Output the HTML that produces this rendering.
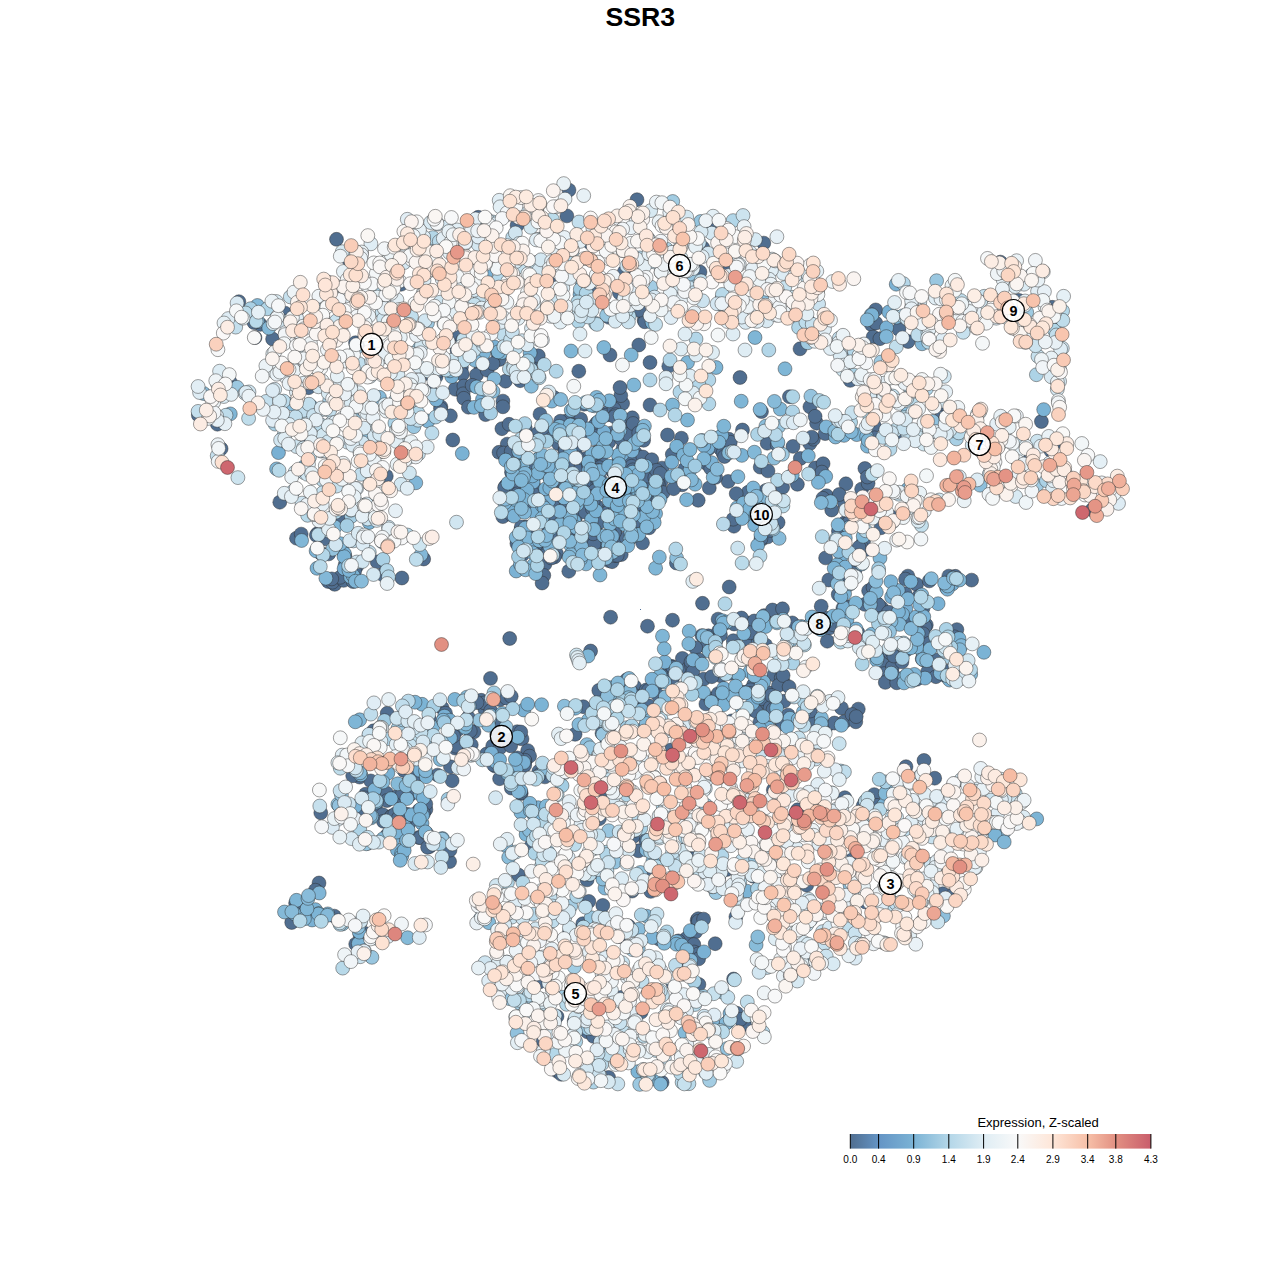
<!DOCTYPE html><html><head><meta charset="utf-8"><title>SSR3</title><style>
html,body{margin:0;padding:0;background:#fff}body{width:1280px;height:1280px;position:relative;overflow:hidden;font-family:"Liberation Sans",sans-serif}
svg{position:absolute;left:0;top:0}text{font-family:"Liberation Sans",sans-serif}
</style></head><body>
<svg width="1280" height="1280" viewBox="0 0 1280 1280">
<rect width="1280" height="1280" fill="#fff"/>
<text x="640.3" y="26.2" text-anchor="middle" font-size="26.67" font-weight="bold" fill="#000">SSR3</text>
<rect x="640" y="609" width="1" height="1" fill="#50709a"/>
<g stroke="#2b2b2b" stroke-opacity="0.75" stroke-width="0.6">
<g fill="#506e90">
<circle cx="198.3" cy="415.0" r="6.95"/>
<circle cx="217.4" cy="424.2" r="6.95"/>
<circle cx="221.1" cy="448.7" r="6.95"/>
<circle cx="238.9" cy="301.7" r="6.95"/>
<circle cx="233.3" cy="318.3" r="6.95"/>
<circle cx="230.3" cy="382.3" r="6.95"/>
<circle cx="260.3" cy="324.4" r="6.95"/>
<circle cx="254.0" cy="322.5" r="6.95"/>
<circle cx="255.0" cy="337.6" r="6.95"/>
<circle cx="285.0" cy="313.1" r="6.95"/>
<circle cx="272.6" cy="339.0" r="6.95"/>
<circle cx="279.8" cy="502.2" r="6.95"/>
<circle cx="308.6" cy="387.7" r="6.95"/>
<circle cx="304.6" cy="439.0" r="6.95"/>
<circle cx="296.5" cy="538.2" r="6.95"/>
<circle cx="301.2" cy="534.1" r="6.95"/>
<circle cx="301.8" cy="903.9" r="6.95"/>
<circle cx="295.6" cy="903.1" r="6.95"/>
<circle cx="291.7" cy="922.5" r="6.95"/>
<circle cx="306.9" cy="914.1" r="6.95"/>
<circle cx="314.2" cy="413.5" r="6.95"/>
<circle cx="317.2" cy="533.8" r="6.95"/>
<circle cx="325.4" cy="538.8" r="6.95"/>
<circle cx="316.4" cy="535.3" r="6.95"/>
<circle cx="328.7" cy="553.9" r="6.95"/>
<circle cx="320.9" cy="553.4" r="6.95"/>
<circle cx="328.3" cy="581.5" r="6.95"/>
<circle cx="320.8" cy="812.8" r="6.95"/>
<circle cx="319.0" cy="883.0" r="6.95"/>
<circle cx="317.0" cy="891.4" r="6.95"/>
<circle cx="315.4" cy="890.2" r="6.95"/>
<circle cx="336.5" cy="239.3" r="6.95"/>
<circle cx="348.6" cy="259.6" r="6.95"/>
<circle cx="340.6" cy="518.9" r="6.95"/>
<circle cx="336.6" cy="510.7" r="6.95"/>
<circle cx="330.4" cy="527.6" r="6.95"/>
<circle cx="341.5" cy="548.4" r="6.95"/>
<circle cx="344.9" cy="555.9" r="6.95"/>
<circle cx="345.1" cy="564.9" r="6.95"/>
<circle cx="334.7" cy="584.3" r="6.95"/>
<circle cx="332.4" cy="582.2" r="6.95"/>
<circle cx="343.6" cy="580.4" r="6.95"/>
<circle cx="340.1" cy="577.3" r="6.95"/>
<circle cx="331.8" cy="578.9" r="6.95"/>
<circle cx="334.3" cy="916.1" r="6.95"/>
<circle cx="357.7" cy="345.9" r="6.95"/>
<circle cx="355.5" cy="342.7" r="6.95"/>
<circle cx="351.2" cy="356.0" r="6.95"/>
<circle cx="356.8" cy="566.1" r="6.95"/>
<circle cx="354.7" cy="570.9" r="6.95"/>
<circle cx="353.1" cy="581.6" r="6.95"/>
<circle cx="359.6" cy="777.1" r="6.95"/>
<circle cx="352.7" cy="775.8" r="6.95"/>
<circle cx="367.0" cy="795.5" r="6.95"/>
<circle cx="365.6" cy="794.2" r="6.95"/>
<circle cx="363.9" cy="797.7" r="6.95"/>
<circle cx="357.8" cy="815.4" r="6.95"/>
<circle cx="367.7" cy="843.3" r="6.95"/>
<circle cx="360.0" cy="923.2" r="6.95"/>
<circle cx="360.0" cy="934.6" r="6.95"/>
<circle cx="365.5" cy="938.8" r="6.95"/>
<circle cx="365.0" cy="933.5" r="6.95"/>
<circle cx="355.7" cy="944.1" r="6.95"/>
<circle cx="390.0" cy="324.4" r="6.95"/>
<circle cx="389.7" cy="334.5" r="6.95"/>
<circle cx="386.3" cy="476.1" r="6.95"/>
<circle cx="377.2" cy="561.9" r="6.95"/>
<circle cx="385.5" cy="573.0" r="6.95"/>
<circle cx="382.7" cy="574.7" r="6.95"/>
<circle cx="387.2" cy="713.3" r="6.95"/>
<circle cx="373.5" cy="730.8" r="6.95"/>
<circle cx="370.8" cy="780.9" r="6.95"/>
<circle cx="384.0" cy="773.5" r="6.95"/>
<circle cx="386.7" cy="793.3" r="6.95"/>
<circle cx="387.0" cy="800.5" r="6.95"/>
<circle cx="375.6" cy="805.7" r="6.95"/>
<circle cx="382.7" cy="814.6" r="6.95"/>
<circle cx="383.4" cy="821.3" r="6.95"/>
<circle cx="387.3" cy="835.0" r="6.95"/>
<circle cx="401.3" cy="284.2" r="6.95"/>
<circle cx="401.9" cy="578.0" r="6.95"/>
<circle cx="407.7" cy="782.6" r="6.95"/>
<circle cx="409.9" cy="784.7" r="6.95"/>
<circle cx="404.0" cy="770.5" r="6.95"/>
<circle cx="407.2" cy="794.4" r="6.95"/>
<circle cx="397.6" cy="796.2" r="6.95"/>
<circle cx="402.6" cy="793.2" r="6.95"/>
<circle cx="407.1" cy="814.3" r="6.95"/>
<circle cx="408.5" cy="824.3" r="6.95"/>
<circle cx="391.6" cy="816.3" r="6.95"/>
<circle cx="391.5" cy="816.6" r="6.95"/>
<circle cx="404.6" cy="829.4" r="6.95"/>
<circle cx="394.7" cy="814.3" r="6.95"/>
<circle cx="404.4" cy="821.3" r="6.95"/>
<circle cx="398.5" cy="817.8" r="6.95"/>
<circle cx="408.7" cy="836.7" r="6.95"/>
<circle cx="400.5" cy="851.0" r="6.95"/>
<circle cx="429.5" cy="264.1" r="6.95"/>
<circle cx="423.7" cy="559.0" r="6.95"/>
<circle cx="429.5" cy="719.4" r="6.95"/>
<circle cx="416.8" cy="775.1" r="6.95"/>
<circle cx="414.9" cy="776.1" r="6.95"/>
<circle cx="425.9" cy="809.5" r="6.95"/>
<circle cx="410.3" cy="794.5" r="6.95"/>
<circle cx="425.8" cy="803.9" r="6.95"/>
<circle cx="423.5" cy="813.5" r="6.95"/>
<circle cx="419.0" cy="810.4" r="6.95"/>
<circle cx="418.9" cy="837.5" r="6.95"/>
<circle cx="420.3" cy="837.6" r="6.95"/>
<circle cx="426.6" cy="833.5" r="6.95"/>
<circle cx="429.6" cy="846.6" r="6.95"/>
<circle cx="427.6" cy="847.3" r="6.95"/>
<circle cx="436.1" cy="376.7" r="6.95"/>
<circle cx="438.1" cy="371.2" r="6.95"/>
<circle cx="431.8" cy="375.9" r="6.95"/>
<circle cx="440.9" cy="406.8" r="6.95"/>
<circle cx="430.3" cy="390.8" r="6.95"/>
<circle cx="440.5" cy="408.7" r="6.95"/>
<circle cx="442.2" cy="707.9" r="6.95"/>
<circle cx="445.5" cy="713.2" r="6.95"/>
<circle cx="437.6" cy="775.1" r="6.95"/>
<circle cx="449.6" cy="861.6" r="6.95"/>
<circle cx="459.3" cy="335.1" r="6.95"/>
<circle cx="462.4" cy="340.9" r="6.95"/>
<circle cx="457.1" cy="350.6" r="6.95"/>
<circle cx="461.4" cy="367.4" r="6.95"/>
<circle cx="455.2" cy="389.2" r="6.95"/>
<circle cx="462.4" cy="374.1" r="6.95"/>
<circle cx="463.9" cy="386.0" r="6.95"/>
<circle cx="463.2" cy="393.8" r="6.95"/>
<circle cx="463.8" cy="398.3" r="6.95"/>
<circle cx="468.4" cy="407.2" r="6.95"/>
<circle cx="450.4" cy="415.8" r="6.95"/>
<circle cx="452.8" cy="440.0" r="6.95"/>
<circle cx="469.9" cy="698.2" r="6.95"/>
<circle cx="457.4" cy="729.9" r="6.95"/>
<circle cx="468.3" cy="717.3" r="6.95"/>
<circle cx="462.4" cy="749.6" r="6.95"/>
<circle cx="455.1" cy="748.1" r="6.95"/>
<circle cx="455.9" cy="746.2" r="6.95"/>
<circle cx="453.6" cy="736.1" r="6.95"/>
<circle cx="450.4" cy="766.7" r="6.95"/>
<circle cx="452.1" cy="780.7" r="6.95"/>
<circle cx="450.0" cy="850.1" r="6.95"/>
<circle cx="478.2" cy="217.3" r="6.95"/>
<circle cx="480.8" cy="360.9" r="6.95"/>
<circle cx="481.2" cy="367.3" r="6.95"/>
<circle cx="476.5" cy="374.9" r="6.95"/>
<circle cx="472.1" cy="385.3" r="6.95"/>
<circle cx="487.2" cy="370.2" r="6.95"/>
<circle cx="485.6" cy="414.6" r="6.95"/>
<circle cx="481.2" cy="700.3" r="6.95"/>
<circle cx="470.2" cy="698.5" r="6.95"/>
<circle cx="484.9" cy="709.4" r="6.95"/>
<circle cx="484.3" cy="702.9" r="6.95"/>
<circle cx="477.0" cy="702.6" r="6.95"/>
<circle cx="474.0" cy="731.8" r="6.95"/>
<circle cx="471.3" cy="744.8" r="6.95"/>
<circle cx="470.3" cy="731.0" r="6.95"/>
<circle cx="486.6" cy="754.0" r="6.95"/>
<circle cx="481.3" cy="908.5" r="6.95"/>
<circle cx="493.1" cy="245.8" r="6.95"/>
<circle cx="490.9" cy="254.7" r="6.95"/>
<circle cx="498.1" cy="354.1" r="6.95"/>
<circle cx="499.2" cy="359.5" r="6.95"/>
<circle cx="493.0" cy="363.6" r="6.95"/>
<circle cx="505.4" cy="381.2" r="6.95"/>
<circle cx="502.9" cy="401.1" r="6.95"/>
<circle cx="502.9" cy="406.8" r="6.95"/>
<circle cx="501.9" cy="428.7" r="6.95"/>
<circle cx="509.1" cy="424.3" r="6.95"/>
<circle cx="507.2" cy="444.1" r="6.95"/>
<circle cx="499.0" cy="452.3" r="6.95"/>
<circle cx="503.6" cy="453.0" r="6.95"/>
<circle cx="505.7" cy="486.0" r="6.95"/>
<circle cx="504.6" cy="487.7" r="6.95"/>
<circle cx="502.8" cy="516.6" r="6.95"/>
<circle cx="507.1" cy="510.9" r="6.95"/>
<circle cx="490.5" cy="678.4" r="6.95"/>
<circle cx="499.9" cy="699.6" r="6.95"/>
<circle cx="506.2" cy="698.0" r="6.95"/>
<circle cx="490.7" cy="710.7" r="6.95"/>
<circle cx="497.6" cy="720.3" r="6.95"/>
<circle cx="508.3" cy="741.1" r="6.95"/>
<circle cx="503.0" cy="734.6" r="6.95"/>
<circle cx="498.9" cy="735.0" r="6.95"/>
<circle cx="492.7" cy="746.0" r="6.95"/>
<circle cx="496.7" cy="734.1" r="6.95"/>
<circle cx="500.2" cy="747.6" r="6.95"/>
<circle cx="495.2" cy="766.1" r="6.95"/>
<circle cx="493.5" cy="764.8" r="6.95"/>
<circle cx="499.6" cy="778.7" r="6.95"/>
<circle cx="517.1" cy="225.4" r="6.95"/>
<circle cx="520.2" cy="380.7" r="6.95"/>
<circle cx="525.4" cy="428.7" r="6.95"/>
<circle cx="516.6" cy="461.3" r="6.95"/>
<circle cx="516.5" cy="451.1" r="6.95"/>
<circle cx="511.2" cy="451.3" r="6.95"/>
<circle cx="522.7" cy="470.3" r="6.95"/>
<circle cx="516.1" cy="487.8" r="6.95"/>
<circle cx="527.9" cy="489.9" r="6.95"/>
<circle cx="512.7" cy="473.3" r="6.95"/>
<circle cx="511.5" cy="472.3" r="6.95"/>
<circle cx="518.2" cy="482.3" r="6.95"/>
<circle cx="517.8" cy="493.7" r="6.95"/>
<circle cx="520.7" cy="494.9" r="6.95"/>
<circle cx="518.3" cy="503.5" r="6.95"/>
<circle cx="511.5" cy="514.8" r="6.95"/>
<circle cx="526.0" cy="527.0" r="6.95"/>
<circle cx="521.0" cy="529.6" r="6.95"/>
<circle cx="524.6" cy="510.0" r="6.95"/>
<circle cx="521.3" cy="526.9" r="6.95"/>
<circle cx="516.9" cy="543.5" r="6.95"/>
<circle cx="520.1" cy="533.8" r="6.95"/>
<circle cx="529.1" cy="532.6" r="6.95"/>
<circle cx="529.0" cy="536.7" r="6.95"/>
<circle cx="522.5" cy="554.6" r="6.95"/>
<circle cx="511.2" cy="696.3" r="6.95"/>
<circle cx="518.5" cy="738.1" r="6.95"/>
<circle cx="510.7" cy="745.8" r="6.95"/>
<circle cx="517.2" cy="731.7" r="6.95"/>
<circle cx="522.0" cy="738.9" r="6.95"/>
<circle cx="520.8" cy="732.0" r="6.95"/>
<circle cx="527.7" cy="750.6" r="6.95"/>
<circle cx="529.6" cy="756.1" r="6.95"/>
<circle cx="524.9" cy="761.5" r="6.95"/>
<circle cx="524.8" cy="760.2" r="6.95"/>
<circle cx="517.4" cy="757.9" r="6.95"/>
<circle cx="524.7" cy="765.3" r="6.95"/>
<circle cx="511.3" cy="788.1" r="6.95"/>
<circle cx="518.9" cy="788.9" r="6.95"/>
<circle cx="521.2" cy="793.5" r="6.95"/>
<circle cx="520.7" cy="792.6" r="6.95"/>
<circle cx="518.4" cy="875.0" r="6.95"/>
<circle cx="515.3" cy="910.0" r="6.95"/>
<circle cx="549.0" cy="282.6" r="6.95"/>
<circle cx="531.4" cy="360.9" r="6.95"/>
<circle cx="530.5" cy="367.4" r="6.95"/>
<circle cx="538.3" cy="355.7" r="6.95"/>
<circle cx="540.0" cy="414.2" r="6.95"/>
<circle cx="538.1" cy="433.2" r="6.95"/>
<circle cx="546.6" cy="431.1" r="6.95"/>
<circle cx="530.8" cy="466.5" r="6.95"/>
<circle cx="538.5" cy="458.9" r="6.95"/>
<circle cx="548.4" cy="466.2" r="6.95"/>
<circle cx="549.5" cy="477.2" r="6.95"/>
<circle cx="533.9" cy="486.0" r="6.95"/>
<circle cx="532.9" cy="481.1" r="6.95"/>
<circle cx="537.6" cy="473.2" r="6.95"/>
<circle cx="543.8" cy="495.7" r="6.95"/>
<circle cx="546.7" cy="506.3" r="6.95"/>
<circle cx="533.2" cy="494.0" r="6.95"/>
<circle cx="546.6" cy="494.2" r="6.95"/>
<circle cx="545.6" cy="496.5" r="6.95"/>
<circle cx="548.6" cy="528.0" r="6.95"/>
<circle cx="547.6" cy="515.3" r="6.95"/>
<circle cx="549.2" cy="520.6" r="6.95"/>
<circle cx="543.0" cy="548.7" r="6.95"/>
<circle cx="532.3" cy="549.0" r="6.95"/>
<circle cx="539.1" cy="543.3" r="6.95"/>
<circle cx="536.5" cy="544.1" r="6.95"/>
<circle cx="544.9" cy="564.2" r="6.95"/>
<circle cx="535.7" cy="554.4" r="6.95"/>
<circle cx="543.8" cy="575.4" r="6.95"/>
<circle cx="542.1" cy="583.0" r="6.95"/>
<circle cx="544.9" cy="767.7" r="6.95"/>
<circle cx="538.9" cy="771.3" r="6.95"/>
<circle cx="550.0" cy="774.5" r="6.95"/>
<circle cx="544.9" cy="776.9" r="6.95"/>
<circle cx="539.4" cy="774.9" r="6.95"/>
<circle cx="531.1" cy="846.1" r="6.95"/>
<circle cx="532.9" cy="952.9" r="6.95"/>
<circle cx="539.7" cy="981.9" r="6.95"/>
<circle cx="543.3" cy="1041.0" r="6.95"/>
<circle cx="569.0" cy="190.1" r="6.95"/>
<circle cx="566.9" cy="215.9" r="6.95"/>
<circle cx="554.0" cy="397.5" r="6.95"/>
<circle cx="569.6" cy="420.0" r="6.95"/>
<circle cx="566.0" cy="421.3" r="6.95"/>
<circle cx="560.5" cy="421.2" r="6.95"/>
<circle cx="569.9" cy="425.5" r="6.95"/>
<circle cx="566.4" cy="433.2" r="6.95"/>
<circle cx="569.8" cy="441.6" r="6.95"/>
<circle cx="552.0" cy="438.1" r="6.95"/>
<circle cx="561.0" cy="431.0" r="6.95"/>
<circle cx="558.4" cy="443.5" r="6.95"/>
<circle cx="564.9" cy="450.1" r="6.95"/>
<circle cx="564.2" cy="467.0" r="6.95"/>
<circle cx="557.0" cy="466.8" r="6.95"/>
<circle cx="565.4" cy="450.2" r="6.95"/>
<circle cx="559.9" cy="468.8" r="6.95"/>
<circle cx="553.6" cy="480.5" r="6.95"/>
<circle cx="551.2" cy="485.3" r="6.95"/>
<circle cx="563.0" cy="480.3" r="6.95"/>
<circle cx="564.8" cy="486.6" r="6.95"/>
<circle cx="567.8" cy="483.0" r="6.95"/>
<circle cx="563.0" cy="498.4" r="6.95"/>
<circle cx="567.4" cy="492.5" r="6.95"/>
<circle cx="561.6" cy="505.0" r="6.95"/>
<circle cx="557.0" cy="497.5" r="6.95"/>
<circle cx="553.0" cy="505.8" r="6.95"/>
<circle cx="569.3" cy="529.0" r="6.95"/>
<circle cx="559.5" cy="512.3" r="6.95"/>
<circle cx="566.3" cy="525.2" r="6.95"/>
<circle cx="550.5" cy="514.7" r="6.95"/>
<circle cx="553.3" cy="536.4" r="6.95"/>
<circle cx="552.1" cy="542.5" r="6.95"/>
<circle cx="565.9" cy="540.5" r="6.95"/>
<circle cx="554.5" cy="537.4" r="6.95"/>
<circle cx="553.0" cy="533.6" r="6.95"/>
<circle cx="564.1" cy="532.0" r="6.95"/>
<circle cx="556.5" cy="553.6" r="6.95"/>
<circle cx="554.4" cy="557.0" r="6.95"/>
<circle cx="551.2" cy="558.0" r="6.95"/>
<circle cx="557.8" cy="774.0" r="6.95"/>
<circle cx="569.7" cy="931.3" r="6.95"/>
<circle cx="557.0" cy="1016.4" r="6.95"/>
<circle cx="559.1" cy="1069.4" r="6.95"/>
<circle cx="557.2" cy="1071.2" r="6.95"/>
<circle cx="561.1" cy="1074.2" r="6.95"/>
<circle cx="587.4" cy="403.5" r="6.95"/>
<circle cx="584.1" cy="404.2" r="6.95"/>
<circle cx="580.7" cy="419.2" r="6.95"/>
<circle cx="573.6" cy="425.5" r="6.95"/>
<circle cx="579.7" cy="437.7" r="6.95"/>
<circle cx="575.9" cy="448.1" r="6.95"/>
<circle cx="588.3" cy="438.9" r="6.95"/>
<circle cx="577.9" cy="439.8" r="6.95"/>
<circle cx="577.8" cy="463.0" r="6.95"/>
<circle cx="570.6" cy="462.4" r="6.95"/>
<circle cx="581.0" cy="466.9" r="6.95"/>
<circle cx="588.4" cy="465.3" r="6.95"/>
<circle cx="585.3" cy="458.7" r="6.95"/>
<circle cx="577.4" cy="457.8" r="6.95"/>
<circle cx="588.2" cy="486.6" r="6.95"/>
<circle cx="588.1" cy="482.4" r="6.95"/>
<circle cx="584.7" cy="491.6" r="6.95"/>
<circle cx="581.7" cy="501.3" r="6.95"/>
<circle cx="576.6" cy="491.1" r="6.95"/>
<circle cx="570.4" cy="511.5" r="6.95"/>
<circle cx="572.0" cy="522.8" r="6.95"/>
<circle cx="575.5" cy="517.3" r="6.95"/>
<circle cx="585.1" cy="512.0" r="6.95"/>
<circle cx="570.2" cy="531.4" r="6.95"/>
<circle cx="588.4" cy="530.5" r="6.95"/>
<circle cx="579.8" cy="533.3" r="6.95"/>
<circle cx="580.3" cy="530.1" r="6.95"/>
<circle cx="576.0" cy="544.0" r="6.95"/>
<circle cx="572.0" cy="555.0" r="6.95"/>
<circle cx="576.3" cy="551.7" r="6.95"/>
<circle cx="578.1" cy="551.9" r="6.95"/>
<circle cx="583.3" cy="706.7" r="6.95"/>
<circle cx="575.1" cy="734.3" r="6.95"/>
<circle cx="586.9" cy="776.9" r="6.95"/>
<circle cx="587.1" cy="879.9" r="6.95"/>
<circle cx="588.8" cy="901.4" r="6.95"/>
<circle cx="582.8" cy="923.7" r="6.95"/>
<circle cx="574.2" cy="1021.0" r="6.95"/>
<circle cx="587.5" cy="1031.9" r="6.95"/>
<circle cx="585.9" cy="1076.8" r="6.95"/>
<circle cx="590.2" cy="243.1" r="6.95"/>
<circle cx="592.6" cy="293.6" r="6.95"/>
<circle cx="609.1" cy="317.4" r="6.95"/>
<circle cx="609.0" cy="310.7" r="6.95"/>
<circle cx="596.7" cy="422.9" r="6.95"/>
<circle cx="608.2" cy="412.0" r="6.95"/>
<circle cx="606.6" cy="415.0" r="6.95"/>
<circle cx="593.6" cy="426.7" r="6.95"/>
<circle cx="600.9" cy="435.5" r="6.95"/>
<circle cx="604.8" cy="447.5" r="6.95"/>
<circle cx="602.9" cy="436.7" r="6.95"/>
<circle cx="597.7" cy="435.8" r="6.95"/>
<circle cx="608.7" cy="442.0" r="6.95"/>
<circle cx="601.3" cy="461.7" r="6.95"/>
<circle cx="597.3" cy="451.9" r="6.95"/>
<circle cx="594.1" cy="454.5" r="6.95"/>
<circle cx="597.8" cy="452.7" r="6.95"/>
<circle cx="599.5" cy="467.6" r="6.95"/>
<circle cx="599.8" cy="478.9" r="6.95"/>
<circle cx="597.8" cy="483.4" r="6.95"/>
<circle cx="597.1" cy="470.1" r="6.95"/>
<circle cx="592.9" cy="470.5" r="6.95"/>
<circle cx="597.4" cy="478.6" r="6.95"/>
<circle cx="594.6" cy="490.9" r="6.95"/>
<circle cx="590.9" cy="496.7" r="6.95"/>
<circle cx="596.5" cy="506.2" r="6.95"/>
<circle cx="593.1" cy="501.9" r="6.95"/>
<circle cx="608.1" cy="509.7" r="6.95"/>
<circle cx="592.5" cy="508.9" r="6.95"/>
<circle cx="593.8" cy="519.8" r="6.95"/>
<circle cx="606.4" cy="513.0" r="6.95"/>
<circle cx="598.3" cy="523.2" r="6.95"/>
<circle cx="607.8" cy="512.3" r="6.95"/>
<circle cx="595.1" cy="531.5" r="6.95"/>
<circle cx="596.5" cy="545.1" r="6.95"/>
<circle cx="591.6" cy="545.5" r="6.95"/>
<circle cx="591.2" cy="544.5" r="6.95"/>
<circle cx="594.0" cy="544.2" r="6.95"/>
<circle cx="593.1" cy="533.8" r="6.95"/>
<circle cx="591.7" cy="559.6" r="6.95"/>
<circle cx="608.9" cy="560.7" r="6.95"/>
<circle cx="606.6" cy="551.5" r="6.95"/>
<circle cx="603.2" cy="697.9" r="6.95"/>
<circle cx="601.2" cy="708.2" r="6.95"/>
<circle cx="609.9" cy="703.4" r="6.95"/>
<circle cx="598.8" cy="690.4" r="6.95"/>
<circle cx="609.9" cy="725.5" r="6.95"/>
<circle cx="608.3" cy="727.8" r="6.95"/>
<circle cx="606.8" cy="742.7" r="6.95"/>
<circle cx="602.0" cy="733.2" r="6.95"/>
<circle cx="604.0" cy="791.9" r="6.95"/>
<circle cx="599.4" cy="818.7" r="6.95"/>
<circle cx="598.0" cy="872.0" r="6.95"/>
<circle cx="602.8" cy="905.4" r="6.95"/>
<circle cx="593.5" cy="1036.4" r="6.95"/>
<circle cx="608.6" cy="1077.4" r="6.95"/>
<circle cx="624.2" cy="272.1" r="6.95"/>
<circle cx="619.4" cy="292.8" r="6.95"/>
<circle cx="622.6" cy="403.5" r="6.95"/>
<circle cx="620.8" cy="395.6" r="6.95"/>
<circle cx="614.0" cy="408.9" r="6.95"/>
<circle cx="615.5" cy="414.7" r="6.95"/>
<circle cx="629.8" cy="422.4" r="6.95"/>
<circle cx="614.5" cy="416.7" r="6.95"/>
<circle cx="628.6" cy="429.3" r="6.95"/>
<circle cx="627.7" cy="449.8" r="6.95"/>
<circle cx="623.1" cy="448.1" r="6.95"/>
<circle cx="621.2" cy="439.0" r="6.95"/>
<circle cx="611.3" cy="433.1" r="6.95"/>
<circle cx="628.4" cy="434.4" r="6.95"/>
<circle cx="627.8" cy="448.1" r="6.95"/>
<circle cx="625.5" cy="453.7" r="6.95"/>
<circle cx="627.4" cy="452.7" r="6.95"/>
<circle cx="622.8" cy="462.5" r="6.95"/>
<circle cx="628.4" cy="463.1" r="6.95"/>
<circle cx="615.0" cy="469.2" r="6.95"/>
<circle cx="618.8" cy="460.0" r="6.95"/>
<circle cx="611.8" cy="470.4" r="6.95"/>
<circle cx="629.3" cy="470.6" r="6.95"/>
<circle cx="613.9" cy="472.4" r="6.95"/>
<circle cx="626.0" cy="484.4" r="6.95"/>
<circle cx="628.4" cy="496.8" r="6.95"/>
<circle cx="620.0" cy="497.9" r="6.95"/>
<circle cx="612.8" cy="494.4" r="6.95"/>
<circle cx="616.5" cy="508.4" r="6.95"/>
<circle cx="623.1" cy="490.7" r="6.95"/>
<circle cx="624.9" cy="490.5" r="6.95"/>
<circle cx="615.6" cy="529.2" r="6.95"/>
<circle cx="621.0" cy="517.2" r="6.95"/>
<circle cx="619.5" cy="516.8" r="6.95"/>
<circle cx="615.0" cy="511.0" r="6.95"/>
<circle cx="618.2" cy="539.5" r="6.95"/>
<circle cx="626.3" cy="537.9" r="6.95"/>
<circle cx="610.8" cy="541.4" r="6.95"/>
<circle cx="614.5" cy="532.3" r="6.95"/>
<circle cx="610.3" cy="533.5" r="6.95"/>
<circle cx="610.2" cy="555.1" r="6.95"/>
<circle cx="621.2" cy="554.6" r="6.95"/>
<circle cx="612.1" cy="561.7" r="6.95"/>
<circle cx="614.8" cy="555.6" r="6.95"/>
<circle cx="617.2" cy="555.4" r="6.95"/>
<circle cx="626.6" cy="679.8" r="6.95"/>
<circle cx="613.8" cy="687.4" r="6.95"/>
<circle cx="619.6" cy="685.7" r="6.95"/>
<circle cx="628.6" cy="704.2" r="6.95"/>
<circle cx="629.7" cy="698.1" r="6.95"/>
<circle cx="612.2" cy="721.7" r="6.95"/>
<circle cx="628.6" cy="926.0" r="6.95"/>
<circle cx="619.1" cy="936.5" r="6.95"/>
<circle cx="611.3" cy="955.1" r="6.95"/>
<circle cx="621.2" cy="997.4" r="6.95"/>
<circle cx="637.0" cy="199.7" r="6.95"/>
<circle cx="631.8" cy="298.9" r="6.95"/>
<circle cx="644.1" cy="320.1" r="6.95"/>
<circle cx="644.8" cy="321.8" r="6.95"/>
<circle cx="638.9" cy="310.3" r="6.95"/>
<circle cx="632.3" cy="417.8" r="6.95"/>
<circle cx="633.1" cy="423.5" r="6.95"/>
<circle cx="643.6" cy="440.3" r="6.95"/>
<circle cx="638.7" cy="432.8" r="6.95"/>
<circle cx="642.4" cy="468.0" r="6.95"/>
<circle cx="635.6" cy="453.3" r="6.95"/>
<circle cx="631.1" cy="460.0" r="6.95"/>
<circle cx="642.9" cy="457.0" r="6.95"/>
<circle cx="631.6" cy="466.3" r="6.95"/>
<circle cx="632.9" cy="469.8" r="6.95"/>
<circle cx="648.3" cy="473.7" r="6.95"/>
<circle cx="641.4" cy="473.3" r="6.95"/>
<circle cx="648.0" cy="484.0" r="6.95"/>
<circle cx="647.1" cy="473.0" r="6.95"/>
<circle cx="647.8" cy="476.2" r="6.95"/>
<circle cx="645.8" cy="506.0" r="6.95"/>
<circle cx="634.6" cy="509.5" r="6.95"/>
<circle cx="648.1" cy="494.4" r="6.95"/>
<circle cx="641.2" cy="522.5" r="6.95"/>
<circle cx="639.8" cy="529.1" r="6.95"/>
<circle cx="645.4" cy="514.0" r="6.95"/>
<circle cx="649.1" cy="527.8" r="6.95"/>
<circle cx="635.9" cy="521.0" r="6.95"/>
<circle cx="630.8" cy="510.7" r="6.95"/>
<circle cx="642.5" cy="542.8" r="6.95"/>
<circle cx="634.7" cy="686.8" r="6.95"/>
<circle cx="646.2" cy="690.0" r="6.95"/>
<circle cx="638.3" cy="701.0" r="6.95"/>
<circle cx="638.7" cy="697.4" r="6.95"/>
<circle cx="638.7" cy="696.6" r="6.95"/>
<circle cx="632.1" cy="693.2" r="6.95"/>
<circle cx="648.6" cy="705.8" r="6.95"/>
<circle cx="648.5" cy="690.4" r="6.95"/>
<circle cx="645.4" cy="745.7" r="6.95"/>
<circle cx="645.7" cy="840.3" r="6.95"/>
<circle cx="632.9" cy="836.9" r="6.95"/>
<circle cx="649.9" cy="869.9" r="6.95"/>
<circle cx="638.5" cy="850.8" r="6.95"/>
<circle cx="632.1" cy="891.1" r="6.95"/>
<circle cx="641.1" cy="1012.2" r="6.95"/>
<circle cx="659.5" cy="246.2" r="6.95"/>
<circle cx="651.0" cy="300.4" r="6.95"/>
<circle cx="651.8" cy="459.7" r="6.95"/>
<circle cx="662.0" cy="468.1" r="6.95"/>
<circle cx="661.0" cy="481.8" r="6.95"/>
<circle cx="654.8" cy="477.5" r="6.95"/>
<circle cx="658.5" cy="484.4" r="6.95"/>
<circle cx="657.3" cy="482.2" r="6.95"/>
<circle cx="656.5" cy="470.3" r="6.95"/>
<circle cx="660.2" cy="473.4" r="6.95"/>
<circle cx="653.6" cy="501.4" r="6.95"/>
<circle cx="650.8" cy="499.0" r="6.95"/>
<circle cx="657.8" cy="500.6" r="6.95"/>
<circle cx="663.2" cy="492.6" r="6.95"/>
<circle cx="669.4" cy="670.6" r="6.95"/>
<circle cx="657.0" cy="683.3" r="6.95"/>
<circle cx="658.4" cy="695.7" r="6.95"/>
<circle cx="663.5" cy="702.6" r="6.95"/>
<circle cx="650.8" cy="891.4" r="6.95"/>
<circle cx="659.1" cy="939.1" r="6.95"/>
<circle cx="662.1" cy="1082.5" r="6.95"/>
<circle cx="681.4" cy="438.2" r="6.95"/>
<circle cx="684.6" cy="469.2" r="6.95"/>
<circle cx="672.3" cy="454.3" r="6.95"/>
<circle cx="682.2" cy="484.8" r="6.95"/>
<circle cx="673.6" cy="488.7" r="6.95"/>
<circle cx="676.4" cy="563.0" r="6.95"/>
<circle cx="671.5" cy="666.3" r="6.95"/>
<circle cx="676.0" cy="668.4" r="6.95"/>
<circle cx="672.9" cy="667.4" r="6.95"/>
<circle cx="682.4" cy="658.4" r="6.95"/>
<circle cx="688.1" cy="668.3" r="6.95"/>
<circle cx="672.7" cy="677.2" r="6.95"/>
<circle cx="672.2" cy="678.4" r="6.95"/>
<circle cx="671.1" cy="750.0" r="6.95"/>
<circle cx="687.1" cy="847.4" r="6.95"/>
<circle cx="686.6" cy="938.3" r="6.95"/>
<circle cx="678.4" cy="940.9" r="6.95"/>
<circle cx="678.5" cy="966.2" r="6.95"/>
<circle cx="686.3" cy="952.4" r="6.95"/>
<circle cx="673.0" cy="983.6" r="6.95"/>
<circle cx="709.9" cy="227.1" r="6.95"/>
<circle cx="702.8" cy="247.7" r="6.95"/>
<circle cx="700.0" cy="272.0" r="6.95"/>
<circle cx="708.5" cy="448.7" r="6.95"/>
<circle cx="707.3" cy="464.1" r="6.95"/>
<circle cx="709.3" cy="487.9" r="6.95"/>
<circle cx="698.2" cy="500.3" r="6.95"/>
<circle cx="701.9" cy="635.6" r="6.95"/>
<circle cx="708.4" cy="635.8" r="6.95"/>
<circle cx="706.2" cy="646.4" r="6.95"/>
<circle cx="695.7" cy="647.9" r="6.95"/>
<circle cx="691.6" cy="665.8" r="6.95"/>
<circle cx="699.2" cy="660.0" r="6.95"/>
<circle cx="691.0" cy="661.8" r="6.95"/>
<circle cx="690.7" cy="675.5" r="6.95"/>
<circle cx="692.9" cy="671.5" r="6.95"/>
<circle cx="703.7" cy="679.2" r="6.95"/>
<circle cx="705.9" cy="703.9" r="6.95"/>
<circle cx="692.9" cy="858.7" r="6.95"/>
<circle cx="697.1" cy="920.2" r="6.95"/>
<circle cx="700.5" cy="926.6" r="6.95"/>
<circle cx="698.2" cy="918.7" r="6.95"/>
<circle cx="698.4" cy="921.3" r="6.95"/>
<circle cx="703.6" cy="919.1" r="6.95"/>
<circle cx="695.7" cy="931.8" r="6.95"/>
<circle cx="693.8" cy="944.5" r="6.95"/>
<circle cx="694.1" cy="952.0" r="6.95"/>
<circle cx="698.4" cy="953.9" r="6.95"/>
<circle cx="698.6" cy="958.9" r="6.95"/>
<circle cx="698.9" cy="984.5" r="6.95"/>
<circle cx="709.4" cy="1055.3" r="6.95"/>
<circle cx="725.1" cy="271.6" r="6.95"/>
<circle cx="722.3" cy="298.0" r="6.95"/>
<circle cx="720.1" cy="448.4" r="6.95"/>
<circle cx="729.0" cy="439.3" r="6.95"/>
<circle cx="712.6" cy="437.7" r="6.95"/>
<circle cx="710.7" cy="468.4" r="6.95"/>
<circle cx="723.0" cy="452.9" r="6.95"/>
<circle cx="724.5" cy="456.5" r="6.95"/>
<circle cx="728.2" cy="481.4" r="6.95"/>
<circle cx="715.6" cy="477.4" r="6.95"/>
<circle cx="718.1" cy="619.1" r="6.95"/>
<circle cx="725.6" cy="622.9" r="6.95"/>
<circle cx="718.8" cy="630.6" r="6.95"/>
<circle cx="716.1" cy="640.4" r="6.95"/>
<circle cx="720.5" cy="634.9" r="6.95"/>
<circle cx="713.2" cy="644.7" r="6.95"/>
<circle cx="730.0" cy="673.3" r="6.95"/>
<circle cx="721.0" cy="675.9" r="6.95"/>
<circle cx="711.8" cy="676.7" r="6.95"/>
<circle cx="719.2" cy="704.6" r="6.95"/>
<circle cx="710.6" cy="698.8" r="6.95"/>
<circle cx="718.2" cy="693.6" r="6.95"/>
<circle cx="726.7" cy="869.5" r="6.95"/>
<circle cx="718.7" cy="878.0" r="6.95"/>
<circle cx="715.2" cy="943.7" r="6.95"/>
<circle cx="740.3" cy="316.5" r="6.95"/>
<circle cx="730.3" cy="442.2" r="6.95"/>
<circle cx="748.3" cy="492.2" r="6.95"/>
<circle cx="736.2" cy="493.7" r="6.95"/>
<circle cx="740.0" cy="517.4" r="6.95"/>
<circle cx="733.9" cy="526.2" r="6.95"/>
<circle cx="733.2" cy="519.2" r="6.95"/>
<circle cx="737.5" cy="621.7" r="6.95"/>
<circle cx="746.6" cy="622.9" r="6.95"/>
<circle cx="734.1" cy="624.0" r="6.95"/>
<circle cx="741.5" cy="618.0" r="6.95"/>
<circle cx="733.7" cy="644.4" r="6.95"/>
<circle cx="749.1" cy="641.3" r="6.95"/>
<circle cx="733.3" cy="640.7" r="6.95"/>
<circle cx="734.2" cy="695.5" r="6.95"/>
<circle cx="743.0" cy="692.3" r="6.95"/>
<circle cx="731.6" cy="698.5" r="6.95"/>
<circle cx="732.8" cy="727.3" r="6.95"/>
<circle cx="731.6" cy="720.9" r="6.95"/>
<circle cx="735.9" cy="916.8" r="6.95"/>
<circle cx="733.6" cy="979.0" r="6.95"/>
<circle cx="749.8" cy="1026.1" r="6.95"/>
<circle cx="736.6" cy="1013.1" r="6.95"/>
<circle cx="740.7" cy="1019.3" r="6.95"/>
<circle cx="763.8" cy="243.1" r="6.95"/>
<circle cx="761.5" cy="411.6" r="6.95"/>
<circle cx="765.3" cy="429.7" r="6.95"/>
<circle cx="767.2" cy="443.2" r="6.95"/>
<circle cx="760.2" cy="467.1" r="6.95"/>
<circle cx="768.0" cy="470.9" r="6.95"/>
<circle cx="765.9" cy="490.5" r="6.95"/>
<circle cx="754.5" cy="511.6" r="6.95"/>
<circle cx="762.0" cy="539.2" r="6.95"/>
<circle cx="765.6" cy="531.3" r="6.95"/>
<circle cx="767.7" cy="536.9" r="6.95"/>
<circle cx="761.0" cy="538.7" r="6.95"/>
<circle cx="761.0" cy="620.4" r="6.95"/>
<circle cx="764.2" cy="615.6" r="6.95"/>
<circle cx="754.2" cy="621.0" r="6.95"/>
<circle cx="758.3" cy="641.5" r="6.95"/>
<circle cx="750.4" cy="632.7" r="6.95"/>
<circle cx="765.6" cy="645.1" r="6.95"/>
<circle cx="754.5" cy="684.2" r="6.95"/>
<circle cx="753.6" cy="684.9" r="6.95"/>
<circle cx="750.4" cy="689.8" r="6.95"/>
<circle cx="751.1" cy="709.4" r="6.95"/>
<circle cx="766.8" cy="703.2" r="6.95"/>
<circle cx="750.1" cy="693.5" r="6.95"/>
<circle cx="769.9" cy="693.0" r="6.95"/>
<circle cx="761.6" cy="698.8" r="6.95"/>
<circle cx="767.2" cy="727.3" r="6.95"/>
<circle cx="756.4" cy="711.7" r="6.95"/>
<circle cx="759.5" cy="723.2" r="6.95"/>
<circle cx="753.4" cy="876.3" r="6.95"/>
<circle cx="789.4" cy="396.7" r="6.95"/>
<circle cx="777.2" cy="445.0" r="6.95"/>
<circle cx="782.6" cy="487.4" r="6.95"/>
<circle cx="778.1" cy="522.5" r="6.95"/>
<circle cx="771.0" cy="530.5" r="6.95"/>
<circle cx="789.0" cy="624.9" r="6.95"/>
<circle cx="778.0" cy="618.1" r="6.95"/>
<circle cx="788.6" cy="639.5" r="6.95"/>
<circle cx="773.9" cy="674.9" r="6.95"/>
<circle cx="783.5" cy="682.4" r="6.95"/>
<circle cx="781.2" cy="677.8" r="6.95"/>
<circle cx="778.5" cy="685.4" r="6.95"/>
<circle cx="783.1" cy="675.5" r="6.95"/>
<circle cx="789.1" cy="686.9" r="6.95"/>
<circle cx="770.1" cy="707.7" r="6.95"/>
<circle cx="771.2" cy="695.4" r="6.95"/>
<circle cx="784.1" cy="701.2" r="6.95"/>
<circle cx="773.1" cy="709.4" r="6.95"/>
<circle cx="788.3" cy="715.1" r="6.95"/>
<circle cx="782.4" cy="723.7" r="6.95"/>
<circle cx="771.3" cy="729.7" r="6.95"/>
<circle cx="773.3" cy="789.9" r="6.95"/>
<circle cx="786.9" cy="820.6" r="6.95"/>
<circle cx="808.4" cy="321.5" r="6.95"/>
<circle cx="808.2" cy="333.2" r="6.95"/>
<circle cx="807.3" cy="331.8" r="6.95"/>
<circle cx="809.9" cy="406.8" r="6.95"/>
<circle cx="809.8" cy="443.7" r="6.95"/>
<circle cx="793.0" cy="446.4" r="6.95"/>
<circle cx="800.3" cy="458.5" r="6.95"/>
<circle cx="797.4" cy="484.3" r="6.95"/>
<circle cx="792.3" cy="622.9" r="6.95"/>
<circle cx="802.1" cy="626.9" r="6.95"/>
<circle cx="797.9" cy="631.1" r="6.95"/>
<circle cx="804.5" cy="719.0" r="6.95"/>
<circle cx="797.5" cy="809.8" r="6.95"/>
<circle cx="806.7" cy="885.2" r="6.95"/>
<circle cx="808.0" cy="959.2" r="6.95"/>
<circle cx="816.6" cy="423.2" r="6.95"/>
<circle cx="815.1" cy="416.3" r="6.95"/>
<circle cx="813.4" cy="439.2" r="6.95"/>
<circle cx="811.7" cy="437.1" r="6.95"/>
<circle cx="825.2" cy="433.6" r="6.95"/>
<circle cx="820.9" cy="469.1" r="6.95"/>
<circle cx="815.3" cy="468.0" r="6.95"/>
<circle cx="823.1" cy="463.7" r="6.95"/>
<circle cx="821.9" cy="472.1" r="6.95"/>
<circle cx="826.5" cy="495.7" r="6.95"/>
<circle cx="822.9" cy="498.3" r="6.95"/>
<circle cx="825.6" cy="557.9" r="6.95"/>
<circle cx="826.6" cy="618.3" r="6.95"/>
<circle cx="829.1" cy="628.2" r="6.95"/>
<circle cx="827.3" cy="641.2" r="6.95"/>
<circle cx="826.0" cy="726.9" r="6.95"/>
<circle cx="816.5" cy="722.7" r="6.95"/>
<circle cx="813.9" cy="721.3" r="6.95"/>
<circle cx="810.4" cy="711.0" r="6.95"/>
<circle cx="837.1" cy="435.0" r="6.95"/>
<circle cx="845.9" cy="483.8" r="6.95"/>
<circle cx="831.7" cy="510.0" r="6.95"/>
<circle cx="845.6" cy="506.9" r="6.95"/>
<circle cx="844.5" cy="503.3" r="6.95"/>
<circle cx="839.3" cy="494.5" r="6.95"/>
<circle cx="848.9" cy="519.7" r="6.95"/>
<circle cx="845.2" cy="522.5" r="6.95"/>
<circle cx="846.8" cy="523.3" r="6.95"/>
<circle cx="848.9" cy="522.7" r="6.95"/>
<circle cx="838.4" cy="531.0" r="6.95"/>
<circle cx="847.3" cy="577.2" r="6.95"/>
<circle cx="846.3" cy="579.8" r="6.95"/>
<circle cx="844.3" cy="589.3" r="6.95"/>
<circle cx="838.2" cy="594.5" r="6.95"/>
<circle cx="849.4" cy="606.8" r="6.95"/>
<circle cx="842.9" cy="608.1" r="6.95"/>
<circle cx="833.5" cy="624.8" r="6.95"/>
<circle cx="841.5" cy="708.1" r="6.95"/>
<circle cx="834.5" cy="723.0" r="6.95"/>
<circle cx="844.6" cy="721.5" r="6.95"/>
<circle cx="844.8" cy="797.7" r="6.95"/>
<circle cx="852.5" cy="377.1" r="6.95"/>
<circle cx="850.2" cy="380.4" r="6.95"/>
<circle cx="865.0" cy="433.0" r="6.95"/>
<circle cx="864.9" cy="468.5" r="6.95"/>
<circle cx="861.6" cy="489.1" r="6.95"/>
<circle cx="868.1" cy="483.3" r="6.95"/>
<circle cx="867.3" cy="477.0" r="6.95"/>
<circle cx="866.9" cy="549.4" r="6.95"/>
<circle cx="863.5" cy="541.5" r="6.95"/>
<circle cx="861.0" cy="546.4" r="6.95"/>
<circle cx="859.0" cy="547.3" r="6.95"/>
<circle cx="854.9" cy="570.5" r="6.95"/>
<circle cx="864.8" cy="604.4" r="6.95"/>
<circle cx="868.6" cy="590.8" r="6.95"/>
<circle cx="858.1" cy="632.8" r="6.95"/>
<circle cx="858.3" cy="709.1" r="6.95"/>
<circle cx="852.0" cy="714.5" r="6.95"/>
<circle cx="855.8" cy="721.8" r="6.95"/>
<circle cx="856.2" cy="716.6" r="6.95"/>
<circle cx="863.6" cy="807.6" r="6.95"/>
<circle cx="864.9" cy="802.4" r="6.95"/>
<circle cx="863.1" cy="806.0" r="6.95"/>
<circle cx="850.4" cy="854.7" r="6.95"/>
<circle cx="865.5" cy="902.0" r="6.95"/>
<circle cx="875.7" cy="309.9" r="6.95"/>
<circle cx="871.4" cy="324.5" r="6.95"/>
<circle cx="875.8" cy="323.0" r="6.95"/>
<circle cx="873.1" cy="337.0" r="6.95"/>
<circle cx="879.9" cy="338.7" r="6.95"/>
<circle cx="874.2" cy="425.7" r="6.95"/>
<circle cx="874.6" cy="437.8" r="6.95"/>
<circle cx="880.9" cy="527.8" r="6.95"/>
<circle cx="879.3" cy="552.4" r="6.95"/>
<circle cx="873.1" cy="587.6" r="6.95"/>
<circle cx="876.5" cy="603.2" r="6.95"/>
<circle cx="881.4" cy="607.6" r="6.95"/>
<circle cx="878.5" cy="604.8" r="6.95"/>
<circle cx="888.5" cy="612.2" r="6.95"/>
<circle cx="888.0" cy="652.3" r="6.95"/>
<circle cx="882.6" cy="663.5" r="6.95"/>
<circle cx="890.0" cy="652.8" r="6.95"/>
<circle cx="884.3" cy="673.6" r="6.95"/>
<circle cx="885.3" cy="682.4" r="6.95"/>
<circle cx="887.4" cy="793.9" r="6.95"/>
<circle cx="874.2" cy="794.6" r="6.95"/>
<circle cx="877.0" cy="805.4" r="6.95"/>
<circle cx="898.9" cy="329.3" r="6.95"/>
<circle cx="908.1" cy="341.5" r="6.95"/>
<circle cx="895.8" cy="436.6" r="6.95"/>
<circle cx="891.6" cy="517.1" r="6.95"/>
<circle cx="907.9" cy="576.1" r="6.95"/>
<circle cx="905.5" cy="579.1" r="6.95"/>
<circle cx="904.0" cy="598.3" r="6.95"/>
<circle cx="904.8" cy="601.3" r="6.95"/>
<circle cx="905.2" cy="593.7" r="6.95"/>
<circle cx="900.8" cy="603.2" r="6.95"/>
<circle cx="908.1" cy="621.8" r="6.95"/>
<circle cx="896.2" cy="616.5" r="6.95"/>
<circle cx="892.4" cy="666.9" r="6.95"/>
<circle cx="901.9" cy="661.9" r="6.95"/>
<circle cx="891.8" cy="651.6" r="6.95"/>
<circle cx="893.8" cy="656.0" r="6.95"/>
<circle cx="906.0" cy="650.2" r="6.95"/>
<circle cx="892.8" cy="674.2" r="6.95"/>
<circle cx="896.7" cy="682.8" r="6.95"/>
<circle cx="906.0" cy="766.7" r="6.95"/>
<circle cx="900.0" cy="909.3" r="6.95"/>
<circle cx="916.5" cy="584.4" r="6.95"/>
<circle cx="929.3" cy="580.9" r="6.95"/>
<circle cx="918.7" cy="596.5" r="6.95"/>
<circle cx="923.0" cy="608.1" r="6.95"/>
<circle cx="926.3" cy="625.0" r="6.95"/>
<circle cx="925.1" cy="626.6" r="6.95"/>
<circle cx="923.1" cy="633.8" r="6.95"/>
<circle cx="929.6" cy="643.1" r="6.95"/>
<circle cx="929.8" cy="660.4" r="6.95"/>
<circle cx="923.6" cy="659.9" r="6.95"/>
<circle cx="922.2" cy="658.8" r="6.95"/>
<circle cx="916.8" cy="679.3" r="6.95"/>
<circle cx="927.4" cy="672.2" r="6.95"/>
<circle cx="924.0" cy="760.4" r="6.95"/>
<circle cx="929.1" cy="834.8" r="6.95"/>
<circle cx="942.2" cy="411.7" r="6.95"/>
<circle cx="941.3" cy="417.4" r="6.95"/>
<circle cx="946.5" cy="587.6" r="6.95"/>
<circle cx="948.8" cy="576.1" r="6.95"/>
<circle cx="946.3" cy="651.7" r="6.95"/>
<circle cx="937.3" cy="659.9" r="6.95"/>
<circle cx="946.2" cy="671.2" r="6.95"/>
<circle cx="935.9" cy="676.7" r="6.95"/>
<circle cx="946.4" cy="676.4" r="6.95"/>
<circle cx="934.7" cy="778.2" r="6.95"/>
<circle cx="942.8" cy="893.7" r="6.95"/>
<circle cx="955.3" cy="576.3" r="6.95"/>
<circle cx="956.9" cy="629.6" r="6.95"/>
<circle cx="954.4" cy="636.8" r="6.95"/>
<circle cx="958.9" cy="648.2" r="6.95"/>
<circle cx="954.4" cy="893.0" r="6.95"/>
<circle cx="971.6" cy="580.1" r="6.95"/>
<circle cx="988.7" cy="827.9" r="6.95"/>
<circle cx="1000.4" cy="262.1" r="6.95"/>
<circle cx="1005.7" cy="305.6" r="6.95"/>
<circle cx="1018.9" cy="300.4" r="6.95"/>
<circle cx="1020.0" cy="459.8" r="6.95"/>
<circle cx="1041.4" cy="421.5" r="6.95"/>
<circle cx="1052.3" cy="307.3" r="6.95"/>
<circle cx="1057.1" cy="320.7" r="6.95"/>
<circle cx="1060.3" cy="314.8" r="6.95"/>
<circle cx="1062.8" cy="445.3" r="6.95"/>
<circle cx="1050.9" cy="450.8" r="6.95"/>
<circle cx="1092.0" cy="509.8" r="6.95"/>
<circle cx="509.7" cy="638.5" r="6.95"/>
<circle cx="610.0" cy="355.0" r="6.95"/>
<circle cx="638.8" cy="345.0" r="6.95"/>
<circle cx="800.0" cy="348.8" r="6.95"/>
<circle cx="578.8" cy="371.2" r="6.95"/>
<circle cx="650.0" cy="362.5" r="6.95"/>
<circle cx="668.8" cy="366.2" r="6.95"/>
<circle cx="620.0" cy="387.5" r="6.95"/>
<circle cx="740.0" cy="377.5" r="6.95"/>
<circle cx="650.0" cy="405.0" r="6.95"/>
<circle cx="667.5" cy="435.0" r="6.95"/>
<circle cx="742.5" cy="430.0" r="6.95"/>
<circle cx="568.8" cy="571.2" r="6.95"/>
<circle cx="729.2" cy="587.0" r="6.95"/>
<circle cx="702.5" cy="603.3" r="6.95"/>
<circle cx="772.5" cy="610.0" r="6.95"/>
<circle cx="782.5" cy="608.8" r="6.95"/>
<circle cx="821.2" cy="606.2" r="6.95"/>
<circle cx="828.8" cy="580.0" r="6.95"/>
<circle cx="610.6" cy="617.2" r="6.95"/>
<circle cx="647.5" cy="626.2" r="6.95"/>
<circle cx="672.5" cy="620.2" r="6.95"/>
<circle cx="590.6" cy="651.0" r="6.95"/>
</g>
<g fill="#76acd1">
<circle cx="588.5" cy="470.9" r="6.95"/>
</g>
<g fill="#77add2">
<circle cx="572.4" cy="434.3" r="6.95"/>
<circle cx="555.4" cy="466.1" r="6.95"/>
<circle cx="344.1" cy="568.7" r="6.95"/>
</g>
<g fill="#77aed2">
<circle cx="519.3" cy="452.6" r="6.95"/>
<circle cx="1004.0" cy="832.0" r="6.95"/>
<circle cx="622.7" cy="512.3" r="6.95"/>
<circle cx="482.5" cy="399.4" r="6.95"/>
</g>
<g fill="#78afd3">
<circle cx="520.7" cy="790.7" r="6.95"/>
<circle cx="603.8" cy="432.1" r="6.95"/>
<circle cx="707.9" cy="448.2" r="6.95"/>
<circle cx="304.6" cy="466.4" r="6.95"/>
<circle cx="752.5" cy="703.3" r="6.95"/>
<circle cx="723.7" cy="688.4" r="6.95"/>
<circle cx="634.0" cy="535.9" r="6.95"/>
<circle cx="904.8" cy="676.9" r="6.95"/>
<circle cx="444.5" cy="716.2" r="6.95"/>
<circle cx="905.8" cy="608.8" r="6.95"/>
<circle cx="622.3" cy="454.0" r="6.95"/>
<circle cx="531.0" cy="541.9" r="6.95"/>
<circle cx="533.1" cy="482.0" r="6.95"/>
</g>
<g fill="#79b0d3">
<circle cx="952.3" cy="584.1" r="6.95"/>
<circle cx="523.8" cy="710.0" r="6.95"/>
<circle cx="494.3" cy="346.9" r="6.95"/>
<circle cx="593.2" cy="438.6" r="6.95"/>
<circle cx="693.1" cy="659.9" r="6.95"/>
<circle cx="841.8" cy="555.5" r="6.95"/>
<circle cx="599.8" cy="470.8" r="6.95"/>
<circle cx="826.1" cy="622.0" r="6.95"/>
<circle cx="523.7" cy="762.5" r="6.95"/>
<circle cx="278.5" cy="452.6" r="6.95"/>
<circle cx="405.1" cy="826.8" r="6.95"/>
<circle cx="664.8" cy="662.1" r="6.95"/>
<circle cx="449.6" cy="720.3" r="6.95"/>
<circle cx="422.0" cy="823.3" r="6.95"/>
<circle cx="397.4" cy="850.0" r="6.95"/>
<circle cx="442.4" cy="838.5" r="6.95"/>
<circle cx="344.4" cy="553.5" r="6.95"/>
<circle cx="548.7" cy="500.8" r="6.95"/>
<circle cx="495.4" cy="761.6" r="6.95"/>
<circle cx="513.8" cy="510.0" r="6.95"/>
</g>
<g fill="#79b0d4">
<circle cx="891.6" cy="596.9" r="6.95"/>
</g>
<g fill="#79b1d4">
<circle cx="886.6" cy="327.7" r="6.95"/>
<circle cx="532.4" cy="475.9" r="6.95"/>
<circle cx="871.2" cy="314.8" r="6.95"/>
<circle cx="721.8" cy="435.5" r="6.95"/>
<circle cx="888.9" cy="312.0" r="6.95"/>
<circle cx="769.1" cy="728.2" r="6.95"/>
<circle cx="525.3" cy="528.0" r="6.95"/>
<circle cx="750.0" cy="671.7" r="6.95"/>
<circle cx="535.3" cy="512.9" r="6.95"/>
<circle cx="419.9" cy="770.3" r="6.95"/>
<circle cx="570.5" cy="452.3" r="6.95"/>
<circle cx="938.1" cy="603.7" r="6.95"/>
<circle cx="949.6" cy="680.1" r="6.95"/>
</g>
<g fill="#7ab1d4">
<circle cx="505.6" cy="460.1" r="6.95"/>
<circle cx="574.3" cy="521.1" r="6.95"/>
<circle cx="598.6" cy="421.5" r="6.95"/>
<circle cx="655.2" cy="489.8" r="6.95"/>
<circle cx="730.0" cy="1013.4" r="6.95"/>
<circle cx="748.4" cy="509.9" r="6.95"/>
<circle cx="420.2" cy="794.0" r="6.95"/>
<circle cx="518.8" cy="451.6" r="6.95"/>
<circle cx="542.2" cy="505.5" r="6.95"/>
<circle cx="451.7" cy="376.6" r="6.95"/>
<circle cx="612.3" cy="536.3" r="6.95"/>
<circle cx="538.2" cy="807.7" r="6.95"/>
<circle cx="632.1" cy="451.0" r="6.95"/>
<circle cx="671.4" cy="476.5" r="6.95"/>
<circle cx="703.8" cy="445.6" r="6.95"/>
<circle cx="671.8" cy="462.0" r="6.95"/>
<circle cx="350.6" cy="577.0" r="6.95"/>
<circle cx="392.9" cy="839.8" r="6.95"/>
<circle cx="485.7" cy="274.0" r="6.95"/>
<circle cx="436.3" cy="399.7" r="6.95"/>
<circle cx="722.3" cy="620.7" r="6.95"/>
<circle cx="703.9" cy="951.9" r="6.95"/>
<circle cx="491.4" cy="753.3" r="6.95"/>
<circle cx="925.0" cy="678.1" r="6.95"/>
<circle cx="547.1" cy="511.2" r="6.95"/>
<circle cx="312.1" cy="920.0" r="6.95"/>
<circle cx="516.0" cy="769.3" r="6.95"/>
<circle cx="371.1" cy="817.9" r="6.95"/>
</g>
<g fill="#7ab2d4">
<circle cx="645.8" cy="466.2" r="6.95"/>
<circle cx="462.3" cy="453.5" r="6.95"/>
<circle cx="608.5" cy="687.5" r="6.95"/>
<circle cx="723.6" cy="704.7" r="6.95"/>
<circle cx="581.8" cy="480.6" r="6.95"/>
<circle cx="569.2" cy="490.1" r="6.95"/>
<circle cx="801.2" cy="626.6" r="6.95"/>
<circle cx="591.6" cy="519.5" r="6.95"/>
<circle cx="360.1" cy="773.8" r="6.95"/>
<circle cx="820.7" cy="629.6" r="6.95"/>
<circle cx="396.9" cy="832.1" r="6.95"/>
<circle cx="353.2" cy="575.7" r="6.95"/>
<circle cx="638.9" cy="534.5" r="6.95"/>
<circle cx="559.2" cy="436.3" r="6.95"/>
<circle cx="387.8" cy="773.3" r="6.95"/>
<circle cx="596.1" cy="510.9" r="6.95"/>
<circle cx="499.6" cy="759.7" r="6.95"/>
<circle cx="825.7" cy="476.5" r="6.95"/>
<circle cx="545.5" cy="488.9" r="6.95"/>
<circle cx="741.8" cy="455.4" r="6.95"/>
<circle cx="592.0" cy="453.5" r="6.95"/>
<circle cx="846.9" cy="620.3" r="6.95"/>
<circle cx="758.1" cy="697.2" r="6.95"/>
<circle cx="959.0" cy="638.6" r="6.95"/>
<circle cx="737.3" cy="507.6" r="6.95"/>
<circle cx="655.6" cy="513.6" r="6.95"/>
<circle cx="844.0" cy="435.4" r="6.95"/>
<circle cx="883.8" cy="804.9" r="6.95"/>
<circle cx="527.1" cy="490.1" r="6.95"/>
</g>
<g fill="#7bb2d4">
<circle cx="902.6" cy="614.3" r="6.95"/>
<circle cx="516.7" cy="781.3" r="6.95"/>
<circle cx="898.2" cy="590.5" r="6.95"/>
<circle cx="896.2" cy="284.2" r="6.95"/>
<circle cx="608.6" cy="690.0" r="6.95"/>
<circle cx="872.0" cy="314.9" r="6.95"/>
<circle cx="327.8" cy="913.9" r="6.95"/>
<circle cx="908.0" cy="488.9" r="6.95"/>
<circle cx="360.8" cy="774.9" r="6.95"/>
<circle cx="514.0" cy="516.1" r="6.95"/>
<circle cx="516.2" cy="571.0" r="6.95"/>
<circle cx="554.8" cy="468.6" r="6.95"/>
<circle cx="760.3" cy="639.3" r="6.95"/>
<circle cx="890.9" cy="581.7" r="6.95"/>
</g>
<g fill="#7bb2d5">
<circle cx="844.0" cy="607.9" r="6.95"/>
<circle cx="711.6" cy="462.7" r="6.95"/>
<circle cx="947.4" cy="589.2" r="6.95"/>
</g>
<g fill="#7bb3d5">
<circle cx="642.0" cy="729.7" r="6.95"/>
<circle cx="587.7" cy="429.0" r="6.95"/>
<circle cx="652.1" cy="322.6" r="6.95"/>
<circle cx="401.6" cy="853.4" r="6.95"/>
<circle cx="608.6" cy="466.0" r="6.95"/>
<circle cx="676.7" cy="941.6" r="6.95"/>
<circle cx="532.8" cy="552.8" r="6.95"/>
<circle cx="581.9" cy="533.6" r="6.95"/>
<circle cx="676.7" cy="446.4" r="6.95"/>
<circle cx="344.0" cy="556.6" r="6.95"/>
<circle cx="530.1" cy="352.9" r="6.95"/>
<circle cx="315.3" cy="909.6" r="6.95"/>
<circle cx="490.6" cy="715.4" r="6.95"/>
<circle cx="527.7" cy="704.2" r="6.95"/>
<circle cx="294.8" cy="913.9" r="6.95"/>
<circle cx="720.2" cy="303.9" r="6.95"/>
<circle cx="318.9" cy="913.6" r="6.95"/>
<circle cx="358.4" cy="943.6" r="6.95"/>
<circle cx="401.8" cy="856.1" r="6.95"/>
<circle cx="633.4" cy="486.2" r="6.95"/>
<circle cx="710.7" cy="1028.4" r="6.95"/>
<circle cx="618.4" cy="455.0" r="6.95"/>
<circle cx="630.1" cy="538.4" r="6.95"/>
<circle cx="923.2" cy="653.1" r="6.95"/>
<circle cx="1043.7" cy="409.6" r="6.95"/>
<circle cx="565.4" cy="527.0" r="6.95"/>
<circle cx="422.5" cy="815.4" r="6.95"/>
<circle cx="856.7" cy="434.6" r="6.95"/>
<circle cx="480.3" cy="918.9" r="6.95"/>
<circle cx="759.7" cy="728.6" r="6.95"/>
<circle cx="876.7" cy="660.3" r="6.95"/>
<circle cx="359.3" cy="932.1" r="6.95"/>
<circle cx="549.8" cy="487.8" r="6.95"/>
<circle cx="426.2" cy="776.7" r="6.95"/>
<circle cx="391.1" cy="798.7" r="6.95"/>
<circle cx="983.9" cy="652.3" r="6.95"/>
<circle cx="763.6" cy="682.0" r="6.95"/>
<circle cx="575.3" cy="708.2" r="6.95"/>
<circle cx="856.1" cy="629.0" r="6.95"/>
<circle cx="369.2" cy="522.5" r="6.95"/>
<circle cx="833.2" cy="616.1" r="6.95"/>
<circle cx="317.0" cy="568.3" r="6.95"/>
<circle cx="683.5" cy="455.2" r="6.95"/>
<circle cx="808.3" cy="455.8" r="6.95"/>
<circle cx="411.3" cy="814.8" r="6.95"/>
<circle cx="423.4" cy="797.9" r="6.95"/>
<circle cx="609.3" cy="400.8" r="6.95"/>
<circle cx="560.0" cy="434.7" r="6.95"/>
<circle cx="602.7" cy="701.9" r="6.95"/>
<circle cx="837.2" cy="564.8" r="6.95"/>
<circle cx="849.0" cy="527.6" r="6.95"/>
<circle cx="762.5" cy="528.8" r="6.95"/>
<circle cx="910.9" cy="581.5" r="6.95"/>
<circle cx="580.0" cy="294.5" r="6.95"/>
<circle cx="754.6" cy="524.8" r="6.95"/>
<circle cx="404.2" cy="850.5" r="6.95"/>
</g>
<g fill="#7cb3d5">
<circle cx="757.6" cy="545.4" r="6.95"/>
<circle cx="551.8" cy="401.1" r="6.95"/>
<circle cx="916.9" cy="647.1" r="6.95"/>
<circle cx="845.3" cy="567.1" r="6.95"/>
<circle cx="376.4" cy="802.0" r="6.95"/>
</g>
<g fill="#7cb4d5">
<circle cx="632.6" cy="472.2" r="6.95"/>
<circle cx="609.3" cy="500.8" r="6.95"/>
<circle cx="743.5" cy="503.1" r="6.95"/>
<circle cx="995.0" cy="835.0" r="6.95"/>
<circle cx="465.3" cy="727.5" r="6.95"/>
<circle cx="624.9" cy="488.4" r="6.95"/>
<circle cx="834.2" cy="568.3" r="6.95"/>
<circle cx="594.0" cy="529.3" r="6.95"/>
<circle cx="619.1" cy="463.8" r="6.95"/>
<circle cx="765.5" cy="626.5" r="6.95"/>
<circle cx="544.5" cy="508.0" r="6.95"/>
<circle cx="1036.7" cy="818.9" r="6.95"/>
<circle cx="599.9" cy="481.9" r="6.95"/>
<circle cx="695.1" cy="484.2" r="6.95"/>
<circle cx="476.7" cy="387.0" r="6.95"/>
<circle cx="422.1" cy="704.3" r="6.95"/>
<circle cx="619.9" cy="511.9" r="6.95"/>
<circle cx="676.3" cy="944.2" r="6.95"/>
<circle cx="916.0" cy="617.1" r="6.95"/>
<circle cx="743.5" cy="516.9" r="6.95"/>
<circle cx="617.2" cy="505.7" r="6.95"/>
<circle cx="749.7" cy="508.6" r="6.95"/>
<circle cx="515.0" cy="499.5" r="6.95"/>
<circle cx="524.0" cy="499.5" r="6.95"/>
<circle cx="660.1" cy="675.6" r="6.95"/>
<circle cx="517.7" cy="737.2" r="6.95"/>
<circle cx="681.7" cy="945.1" r="6.95"/>
<circle cx="910.6" cy="647.9" r="6.95"/>
<circle cx="686.6" cy="499.7" r="6.95"/>
<circle cx="918.1" cy="633.7" r="6.95"/>
<circle cx="507.7" cy="773.6" r="6.95"/>
<circle cx="637.8" cy="1071.6" r="6.95"/>
<circle cx="541.6" cy="704.7" r="6.95"/>
<circle cx="559.4" cy="426.4" r="6.95"/>
<circle cx="636.9" cy="498.2" r="6.95"/>
</g>
<g fill="#7db4d5">
<circle cx="425.4" cy="831.9" r="6.95"/>
<circle cx="654.2" cy="522.5" r="6.95"/>
<circle cx="746.8" cy="891.1" r="6.95"/>
<circle cx="898.4" cy="611.8" r="6.95"/>
<circle cx="702.1" cy="440.4" r="6.95"/>
<circle cx="515.4" cy="759.4" r="6.95"/>
<circle cx="792.2" cy="475.2" r="6.95"/>
<circle cx="415.0" cy="702.2" r="6.95"/>
<circle cx="564.1" cy="497.8" r="6.95"/>
<circle cx="520.4" cy="564.3" r="6.95"/>
<circle cx="588.3" cy="462.1" r="6.95"/>
<circle cx="533.4" cy="565.3" r="6.95"/>
<circle cx="844.6" cy="593.7" r="6.95"/>
</g>
<g fill="#7db4d6">
<circle cx="577.1" cy="504.3" r="6.95"/>
<circle cx="316.1" cy="550.9" r="6.95"/>
<circle cx="549.8" cy="546.3" r="6.95"/>
<circle cx="311.1" cy="406.4" r="6.95"/>
<circle cx="355.3" cy="806.5" r="6.95"/>
<circle cx="923.8" cy="616.7" r="6.95"/>
<circle cx="638.2" cy="474.7" r="6.95"/>
<circle cx="374.6" cy="789.8" r="6.95"/>
<circle cx="538.8" cy="468.0" r="6.95"/>
<circle cx="818.4" cy="482.4" r="6.95"/>
<circle cx="840.9" cy="596.6" r="6.95"/>
<circle cx="349.0" cy="570.4" r="6.95"/>
<circle cx="652.5" cy="937.6" r="6.95"/>
<circle cx="652.0" cy="679.2" r="6.95"/>
</g>
<g fill="#7db5d6">
<circle cx="693.6" cy="294.5" r="6.95"/>
<circle cx="570.3" cy="424.9" r="6.95"/>
<circle cx="526.1" cy="834.4" r="6.95"/>
<circle cx="690.3" cy="930.6" r="6.95"/>
<circle cx="454.8" cy="699.4" r="6.95"/>
<circle cx="590.9" cy="504.3" r="6.95"/>
<circle cx="684.6" cy="478.9" r="6.95"/>
<circle cx="742.2" cy="708.7" r="6.95"/>
<circle cx="318.3" cy="914.1" r="6.95"/>
<circle cx="606.7" cy="555.7" r="6.95"/>
</g>
<g fill="#7eb5d6">
<circle cx="656.7" cy="1079.7" r="6.95"/>
<circle cx="753.2" cy="488.0" r="6.95"/>
<circle cx="609.2" cy="484.5" r="6.95"/>
<circle cx="842.9" cy="627.4" r="6.95"/>
<circle cx="538.2" cy="473.0" r="6.95"/>
<circle cx="420.6" cy="809.1" r="6.95"/>
<circle cx="726.9" cy="622.0" r="6.95"/>
<circle cx="866.6" cy="436.7" r="6.95"/>
<circle cx="843.9" cy="423.0" r="6.95"/>
<circle cx="545.3" cy="465.4" r="6.95"/>
<circle cx="571.0" cy="545.7" r="6.95"/>
<circle cx="733.0" cy="696.5" r="6.95"/>
<circle cx="845.3" cy="538.1" r="6.95"/>
<circle cx="355.4" cy="581.2" r="6.95"/>
<circle cx="660.0" cy="499.4" r="6.95"/>
<circle cx="727.5" cy="1022.2" r="6.95"/>
<circle cx="575.7" cy="492.7" r="6.95"/>
<circle cx="607.9" cy="1053.0" r="6.95"/>
<circle cx="907.9" cy="598.9" r="6.95"/>
<circle cx="867.5" cy="446.2" r="6.95"/>
<circle cx="914.4" cy="674.4" r="6.95"/>
<circle cx="762.6" cy="499.2" r="6.95"/>
<circle cx="450.4" cy="737.9" r="6.95"/>
<circle cx="619.8" cy="430.5" r="6.95"/>
<circle cx="723.4" cy="623.0" r="6.95"/>
<circle cx="428.0" cy="421.0" r="6.95"/>
<circle cx="522.8" cy="466.1" r="6.95"/>
<circle cx="646.7" cy="916.2" r="6.95"/>
<circle cx="474.0" cy="407.4" r="6.95"/>
<circle cx="625.8" cy="474.3" r="6.95"/>
<circle cx="610.0" cy="524.2" r="6.95"/>
<circle cx="616.2" cy="491.3" r="6.95"/>
<circle cx="789.9" cy="718.3" r="6.95"/>
<circle cx="534.4" cy="815.8" r="6.95"/>
<circle cx="594.5" cy="405.9" r="6.95"/>
<circle cx="550.6" cy="528.9" r="6.95"/>
<circle cx="520.9" cy="812.4" r="6.95"/>
<circle cx="690.0" cy="469.9" r="6.95"/>
<circle cx="871.8" cy="634.2" r="6.95"/>
<circle cx="359.7" cy="719.8" r="6.95"/>
<circle cx="627.7" cy="545.8" r="6.95"/>
<circle cx="783.1" cy="619.5" r="6.95"/>
</g>
<g fill="#7fb5d6">
<circle cx="643.7" cy="517.3" r="6.95"/>
<circle cx="830.6" cy="501.7" r="6.95"/>
<circle cx="619.2" cy="499.6" r="6.95"/>
<circle cx="720.1" cy="629.7" r="6.95"/>
<circle cx="483.7" cy="353.1" r="6.95"/>
<circle cx="538.2" cy="459.3" r="6.95"/>
</g>
<g fill="#7fb6d6">
<circle cx="631.2" cy="355.0" r="6.95"/>
<circle cx="603.8" cy="347.5" r="6.95"/>
<circle cx="571.0" cy="351.0" r="6.95"/>
<circle cx="755.0" cy="337.5" r="6.95"/>
<circle cx="687.5" cy="362.5" r="6.95"/>
<circle cx="716.0" cy="367.5" r="6.95"/>
<circle cx="785.0" cy="368.8" r="6.95"/>
<circle cx="633.8" cy="385.0" r="6.95"/>
<circle cx="672.5" cy="405.0" r="6.95"/>
<circle cx="687.5" cy="420.0" r="6.95"/>
<circle cx="741.2" cy="401.2" r="6.95"/>
<circle cx="723.8" cy="426.2" r="6.95"/>
<circle cx="600.0" cy="575.0" r="6.95"/>
<circle cx="655.6" cy="568.2" r="6.95"/>
<circle cx="662.5" cy="636.2" r="6.95"/>
<circle cx="664.2" cy="648.8" r="6.95"/>
<circle cx="689.2" cy="631.2" r="6.95"/>
<circle cx="688.8" cy="643.8" r="6.95"/>
<circle cx="588.0" cy="656.0" r="6.95"/>
<circle cx="355.3" cy="721.8" r="6.95"/>
<circle cx="450.1" cy="370.8" r="6.95"/>
<circle cx="959.5" cy="580.0" r="6.95"/>
<circle cx="571.2" cy="410.4" r="6.95"/>
<circle cx="703.2" cy="635.8" r="6.95"/>
<circle cx="738.5" cy="675.0" r="6.95"/>
<circle cx="722.3" cy="692.8" r="6.95"/>
<circle cx="559.8" cy="524.3" r="6.95"/>
<circle cx="756.0" cy="514.5" r="6.95"/>
<circle cx="296.5" cy="900.3" r="6.95"/>
<circle cx="624.9" cy="524.7" r="6.95"/>
<circle cx="504.7" cy="502.8" r="6.95"/>
<circle cx="501.5" cy="352.6" r="6.95"/>
<circle cx="634.1" cy="443.5" r="6.95"/>
<circle cx="555.2" cy="429.3" r="6.95"/>
<circle cx="618.6" cy="489.3" r="6.95"/>
<circle cx="868.2" cy="440.5" r="6.95"/>
<circle cx="357.4" cy="924.4" r="6.95"/>
<circle cx="855.7" cy="603.1" r="6.95"/>
<circle cx="502.2" cy="713.4" r="6.95"/>
<circle cx="930.1" cy="648.9" r="6.95"/>
<circle cx="570.6" cy="517.8" r="6.95"/>
<circle cx="432.7" cy="727.3" r="6.95"/>
<circle cx="498.2" cy="351.9" r="6.95"/>
<circle cx="419.4" cy="819.5" r="6.95"/>
<circle cx="798.2" cy="719.4" r="6.95"/>
<circle cx="691.0" cy="683.7" r="6.95"/>
</g>
<g fill="#80b6d6">
<circle cx="515.2" cy="778.9" r="6.95"/>
<circle cx="230.3" cy="413.9" r="6.95"/>
<circle cx="527.3" cy="538.0" r="6.95"/>
<circle cx="1004.2" cy="841.9" r="6.95"/>
<circle cx="904.0" cy="682.9" r="6.95"/>
<circle cx="742.1" cy="518.5" r="6.95"/>
<circle cx="899.5" cy="624.4" r="6.95"/>
<circle cx="617.5" cy="434.3" r="6.95"/>
<circle cx="652.5" cy="511.6" r="6.95"/>
</g>
<g fill="#80b6d7">
<circle cx="518.7" cy="495.4" r="6.95"/>
<circle cx="652.1" cy="691.1" r="6.95"/>
<circle cx="826.2" cy="426.9" r="6.95"/>
<circle cx="760.1" cy="409.5" r="6.95"/>
<circle cx="838.4" cy="430.4" r="6.95"/>
<circle cx="597.4" cy="493.8" r="6.95"/>
<circle cx="586.0" cy="563.9" r="6.95"/>
<circle cx="529.8" cy="803.3" r="6.95"/>
<circle cx="586.9" cy="498.6" r="6.95"/>
<circle cx="548.0" cy="466.1" r="6.95"/>
<circle cx="443.2" cy="720.2" r="6.95"/>
<circle cx="886.3" cy="336.6" r="6.95"/>
<circle cx="544.3" cy="462.3" r="6.95"/>
<circle cx="851.3" cy="431.7" r="6.95"/>
<circle cx="605.0" cy="888.1" r="6.95"/>
<circle cx="319.2" cy="893.0" r="6.95"/>
<circle cx="896.7" cy="317.2" r="6.95"/>
<circle cx="810.7" cy="624.0" r="6.95"/>
<circle cx="603.6" cy="535.9" r="6.95"/>
<circle cx="505.8" cy="845.6" r="6.95"/>
<circle cx="516.2" cy="537.4" r="6.95"/>
<circle cx="841.3" cy="725.3" r="6.95"/>
<circle cx="415.8" cy="482.8" r="6.95"/>
<circle cx="400.2" cy="860.3" r="6.95"/>
<circle cx="835.5" cy="437.0" r="6.95"/>
</g>
<g fill="#80b7d7">
<circle cx="539.3" cy="540.7" r="6.95"/>
<circle cx="718.9" cy="442.2" r="6.95"/>
<circle cx="596.5" cy="397.4" r="6.95"/>
<circle cx="737.9" cy="476.7" r="6.95"/>
<circle cx="780.3" cy="409.1" r="6.95"/>
<circle cx="508.0" cy="483.2" r="6.95"/>
<circle cx="776.6" cy="707.9" r="6.95"/>
<circle cx="743.8" cy="633.5" r="6.95"/>
<circle cx="887.8" cy="786.0" r="6.95"/>
</g>
<g fill="#81b7d7">
<circle cx="406.6" cy="840.3" r="6.95"/>
<circle cx="703.9" cy="458.8" r="6.95"/>
<circle cx="682.2" cy="1072.7" r="6.95"/>
<circle cx="285.1" cy="441.2" r="6.95"/>
<circle cx="838.1" cy="524.8" r="6.95"/>
<circle cx="961.3" cy="645.6" r="6.95"/>
<circle cx="580.4" cy="559.4" r="6.95"/>
<circle cx="880.0" cy="558.0" r="6.95"/>
<circle cx="703.5" cy="692.4" r="6.95"/>
<circle cx="640.5" cy="486.8" r="6.95"/>
<circle cx="599.0" cy="400.3" r="6.95"/>
<circle cx="611.8" cy="861.0" r="6.95"/>
<circle cx="514.1" cy="464.5" r="6.95"/>
<circle cx="486.3" cy="390.3" r="6.95"/>
<circle cx="647.0" cy="506.6" r="6.95"/>
<circle cx="408.1" cy="830.0" r="6.95"/>
<circle cx="922.7" cy="659.4" r="6.95"/>
<circle cx="525.0" cy="473.3" r="6.95"/>
<circle cx="518.7" cy="547.1" r="6.95"/>
<circle cx="798.6" cy="626.9" r="6.95"/>
<circle cx="369.2" cy="735.1" r="6.95"/>
<circle cx="629.3" cy="500.9" r="6.95"/>
<circle cx="576.2" cy="527.6" r="6.95"/>
<circle cx="257.7" cy="321.4" r="6.95"/>
<circle cx="640.9" cy="495.5" r="6.95"/>
<circle cx="542.9" cy="455.6" r="6.95"/>
<circle cx="659.3" cy="557.1" r="6.95"/>
<circle cx="603.2" cy="446.5" r="6.95"/>
<circle cx="588.5" cy="720.0" r="6.95"/>
<circle cx="660.6" cy="1084.1" r="6.95"/>
<circle cx="760.9" cy="534.8" r="6.95"/>
<circle cx="947.6" cy="586.0" r="6.95"/>
<circle cx="735.6" cy="686.1" r="6.95"/>
<circle cx="940.4" cy="673.2" r="6.95"/>
<circle cx="340.4" cy="543.7" r="6.95"/>
<circle cx="301.6" cy="540.5" r="6.95"/>
</g>
<g fill="#82b7d7">
<circle cx="513.0" cy="474.0" r="6.95"/>
<circle cx="921.8" cy="594.9" r="6.95"/>
<circle cx="644.4" cy="426.1" r="6.95"/>
<circle cx="425.5" cy="770.8" r="6.95"/>
<circle cx="686.9" cy="949.8" r="6.95"/>
<circle cx="523.4" cy="477.7" r="6.95"/>
<circle cx="646.4" cy="850.0" r="6.95"/>
<circle cx="687.1" cy="460.7" r="6.95"/>
<circle cx="876.3" cy="592.1" r="6.95"/>
<circle cx="821.3" cy="502.6" r="6.95"/>
<circle cx="559.7" cy="511.4" r="6.95"/>
<circle cx="648.9" cy="712.7" r="6.95"/>
<circle cx="917.3" cy="639.3" r="6.95"/>
<circle cx="787.3" cy="726.8" r="6.95"/>
<circle cx="620.2" cy="415.4" r="6.95"/>
</g>
<g fill="#82b8d7">
<circle cx="821.4" cy="718.1" r="6.95"/>
<circle cx="525.5" cy="569.8" r="6.95"/>
<circle cx="606.3" cy="451.5" r="6.95"/>
<circle cx="304.4" cy="918.8" r="6.95"/>
<circle cx="593.7" cy="529.5" r="6.95"/>
<circle cx="546.4" cy="806.1" r="6.95"/>
<circle cx="572.2" cy="479.1" r="6.95"/>
<circle cx="885.3" cy="793.4" r="6.95"/>
<circle cx="652.9" cy="861.1" r="6.95"/>
<circle cx="754.4" cy="452.2" r="6.95"/>
<circle cx="690.0" cy="449.5" r="6.95"/>
<circle cx="629.0" cy="678.4" r="6.95"/>
<circle cx="607.3" cy="706.1" r="6.95"/>
<circle cx="615.2" cy="701.0" r="6.95"/>
<circle cx="863.2" cy="536.3" r="6.95"/>
<circle cx="614.7" cy="519.0" r="6.95"/>
<circle cx="521.3" cy="480.5" r="6.95"/>
<circle cx="620.2" cy="521.1" r="6.95"/>
<circle cx="440.3" cy="759.5" r="6.95"/>
<circle cx="334.9" cy="527.0" r="6.95"/>
<circle cx="642.7" cy="430.3" r="6.95"/>
<circle cx="307.0" cy="908.8" r="6.95"/>
</g>
<g fill="#83b8d7">
<circle cx="633.4" cy="514.9" r="6.95"/>
<circle cx="870.3" cy="604.6" r="6.95"/>
<circle cx="276.6" cy="468.9" r="6.95"/>
<circle cx="591.0" cy="469.1" r="6.95"/>
<circle cx="371.8" cy="816.3" r="6.95"/>
<circle cx="777.0" cy="622.9" r="6.95"/>
<circle cx="615.5" cy="699.4" r="6.95"/>
<circle cx="488.9" cy="720.4" r="6.95"/>
<circle cx="691.4" cy="479.9" r="6.95"/>
<circle cx="638.6" cy="439.4" r="6.95"/>
<circle cx="608.3" cy="545.4" r="6.95"/>
</g>
<g fill="#83b8d8">
<circle cx="570.9" cy="554.5" r="6.95"/>
<circle cx="690.7" cy="960.4" r="6.95"/>
<circle cx="725.9" cy="1023.4" r="6.95"/>
<circle cx="421.1" cy="554.8" r="6.95"/>
<circle cx="524.5" cy="512.3" r="6.95"/>
<circle cx="952.9" cy="577.9" r="6.95"/>
<circle cx="911.1" cy="628.6" r="6.95"/>
<circle cx="919.8" cy="604.7" r="6.95"/>
<circle cx="563.2" cy="458.8" r="6.95"/>
<circle cx="893.6" cy="592.7" r="6.95"/>
<circle cx="544.9" cy="540.2" r="6.95"/>
<circle cx="712.5" cy="1021.8" r="6.95"/>
<circle cx="563.7" cy="536.5" r="6.95"/>
<circle cx="763.3" cy="504.4" r="6.95"/>
<circle cx="569.9" cy="522.9" r="6.95"/>
<circle cx="649.6" cy="718.0" r="6.95"/>
<circle cx="546.4" cy="535.6" r="6.95"/>
<circle cx="325.9" cy="578.2" r="6.95"/>
<circle cx="540.7" cy="464.4" r="6.95"/>
<circle cx="870.4" cy="598.4" r="6.95"/>
<circle cx="606.8" cy="490.5" r="6.95"/>
<circle cx="560.0" cy="430.8" r="6.95"/>
<circle cx="944.6" cy="583.1" r="6.95"/>
<circle cx="581.6" cy="546.7" r="6.95"/>
</g>
<g fill="#84b9d8">
<circle cx="511.2" cy="466.8" r="6.95"/>
<circle cx="481.4" cy="405.6" r="6.95"/>
<circle cx="569.2" cy="557.1" r="6.95"/>
<circle cx="877.2" cy="657.8" r="6.95"/>
<circle cx="284.5" cy="912.0" r="6.95"/>
<circle cx="530.4" cy="811.0" r="6.95"/>
<circle cx="821.2" cy="723.7" r="6.95"/>
<circle cx="762.9" cy="616.7" r="6.95"/>
<circle cx="959.6" cy="649.7" r="6.95"/>
<circle cx="577.9" cy="500.0" r="6.95"/>
<circle cx="598.4" cy="452.2" r="6.95"/>
<circle cx="713.2" cy="477.4" r="6.95"/>
<circle cx="646.7" cy="526.9" r="6.95"/>
<circle cx="763.2" cy="716.8" r="6.95"/>
<circle cx="711.3" cy="701.9" r="6.95"/>
<circle cx="268.8" cy="328.0" r="6.95"/>
<circle cx="552.3" cy="481.1" r="6.95"/>
<circle cx="664.6" cy="682.1" r="6.95"/>
<circle cx="605.9" cy="438.6" r="6.95"/>
<circle cx="569.9" cy="541.2" r="6.95"/>
<circle cx="535.7" cy="573.6" r="6.95"/>
<circle cx="327.5" cy="915.3" r="6.95"/>
<circle cx="257.4" cy="305.5" r="6.95"/>
<circle cx="406.9" cy="798.6" r="6.95"/>
<circle cx="644.9" cy="494.3" r="6.95"/>
<circle cx="664.2" cy="943.3" r="6.95"/>
<circle cx="702.0" cy="664.2" r="6.95"/>
<circle cx="466.9" cy="697.1" r="6.95"/>
<circle cx="542.0" cy="518.4" r="6.95"/>
<circle cx="766.0" cy="496.5" r="6.95"/>
<circle cx="761.0" cy="686.1" r="6.95"/>
<circle cx="654.8" cy="489.0" r="6.95"/>
</g>
<g fill="#85b9d8">
<circle cx="646.3" cy="723.5" r="6.95"/>
<circle cx="838.5" cy="551.3" r="6.95"/>
<circle cx="308.0" cy="898.4" r="6.95"/>
<circle cx="754.4" cy="675.8" r="6.95"/>
<circle cx="630.0" cy="690.6" r="6.95"/>
<circle cx="641.7" cy="709.9" r="6.95"/>
<circle cx="867.2" cy="319.9" r="6.95"/>
<circle cx="756.3" cy="496.3" r="6.95"/>
<circle cx="970.7" cy="674.3" r="6.95"/>
<circle cx="758.4" cy="516.0" r="6.95"/>
<circle cx="891.0" cy="621.3" r="6.95"/>
<circle cx="812.1" cy="617.0" r="6.95"/>
<circle cx="838.3" cy="615.8" r="6.95"/>
<circle cx="582.5" cy="555.1" r="6.95"/>
<circle cx="630.8" cy="532.4" r="6.95"/>
<circle cx="607.3" cy="536.4" r="6.95"/>
</g>
<g fill="#85bad8">
<circle cx="407.6" cy="937.7" r="6.95"/>
<circle cx="565.5" cy="488.6" r="6.95"/>
<circle cx="488.8" cy="922.7" r="6.95"/>
<circle cx="383.1" cy="838.7" r="6.95"/>
<circle cx="613.6" cy="931.9" r="6.95"/>
<circle cx="578.9" cy="425.3" r="6.95"/>
<circle cx="777.9" cy="442.3" r="6.95"/>
<circle cx="685.0" cy="1032.8" r="6.95"/>
<circle cx="709.1" cy="651.1" r="6.95"/>
<circle cx="382.9" cy="782.0" r="6.95"/>
<circle cx="906.9" cy="675.0" r="6.95"/>
<circle cx="598.6" cy="714.2" r="6.95"/>
<circle cx="399.8" cy="809.1" r="6.95"/>
</g>
<g fill="#86bad8">
<circle cx="834.8" cy="431.0" r="6.95"/>
<circle cx="307.6" cy="472.2" r="6.95"/>
<circle cx="397.8" cy="783.8" r="6.95"/>
<circle cx="488.5" cy="725.2" r="6.95"/>
<circle cx="728.8" cy="452.9" r="6.95"/>
</g>
<g fill="#86bad9">
<circle cx="282.0" cy="439.7" r="6.95"/>
<circle cx="608.1" cy="552.8" r="6.95"/>
<circle cx="494.2" cy="378.9" r="6.95"/>
<circle cx="931.3" cy="578.7" r="6.95"/>
<circle cx="922.1" cy="343.8" r="6.95"/>
<circle cx="591.8" cy="405.3" r="6.95"/>
<circle cx="665.3" cy="697.0" r="6.95"/>
<circle cx="560.7" cy="399.5" r="6.95"/>
<circle cx="465.9" cy="724.0" r="6.95"/>
<circle cx="578.9" cy="724.5" r="6.95"/>
<circle cx="518.4" cy="791.7" r="6.95"/>
<circle cx="475.2" cy="360.4" r="6.95"/>
<circle cx="745.7" cy="692.9" r="6.95"/>
<circle cx="612.4" cy="552.4" r="6.95"/>
<circle cx="360.0" cy="772.8" r="6.95"/>
<circle cx="803.4" cy="711.9" r="6.95"/>
</g>
<g fill="#87bad9">
<circle cx="379.4" cy="397.3" r="6.95"/>
<circle cx="370.3" cy="815.6" r="6.95"/>
</g>
<g fill="#87bbd9">
<circle cx="637.5" cy="501.1" r="6.95"/>
<circle cx="493.0" cy="391.3" r="6.95"/>
<circle cx="291.9" cy="911.7" r="6.95"/>
<circle cx="774.4" cy="401.4" r="6.95"/>
<circle cx="676.3" cy="668.3" r="6.95"/>
<circle cx="606.0" cy="558.2" r="6.95"/>
<circle cx="550.1" cy="479.0" r="6.95"/>
<circle cx="618.0" cy="683.0" r="6.95"/>
<circle cx="531.3" cy="386.2" r="6.95"/>
<circle cx="406.1" cy="785.9" r="6.95"/>
</g>
<g fill="#88bbd9">
<circle cx="648.9" cy="1075.1" r="6.95"/>
<circle cx="837.4" cy="583.7" r="6.95"/>
<circle cx="505.0" cy="499.2" r="6.95"/>
<circle cx="779.1" cy="538.4" r="6.95"/>
<circle cx="602.6" cy="416.7" r="6.95"/>
<circle cx="953.5" cy="578.1" r="6.95"/>
</g>
<g fill="#88bcd9">
<circle cx="469.3" cy="706.2" r="6.95"/>
<circle cx="611.5" cy="546.9" r="6.95"/>
<circle cx="756.1" cy="944.9" r="6.95"/>
</g>
<g fill="#89bcd9">
<circle cx="521.3" cy="508.5" r="6.95"/>
<circle cx="757.8" cy="936.9" r="6.95"/>
</g>
<g fill="#89bcda">
<circle cx="631.7" cy="536.1" r="6.95"/>
<circle cx="354.1" cy="443.4" r="6.95"/>
<circle cx="717.2" cy="469.2" r="6.95"/>
<circle cx="592.8" cy="474.3" r="6.95"/>
<circle cx="529.4" cy="830.4" r="6.95"/>
<circle cx="764.5" cy="299.8" r="6.95"/>
<circle cx="361.5" cy="581.2" r="6.95"/>
<circle cx="544.6" cy="768.7" r="6.95"/>
<circle cx="308.5" cy="895.6" r="6.95"/>
<circle cx="926.8" cy="660.6" r="6.95"/>
</g>
<g fill="#8abcda">
<circle cx="638.6" cy="929.3" r="6.95"/>
<circle cx="758.7" cy="625.1" r="6.95"/>
<circle cx="203.6" cy="393.5" r="6.95"/>
</g>
<g fill="#8abdda">
<circle cx="861.8" cy="564.0" r="6.95"/>
<circle cx="765.9" cy="426.1" r="6.95"/>
<circle cx="508.7" cy="857.3" r="6.95"/>
<circle cx="606.5" cy="878.0" r="6.95"/>
<circle cx="292.5" cy="404.2" r="6.95"/>
</g>
<g fill="#8bbdda">
<circle cx="891.2" cy="673.2" r="6.95"/>
<circle cx="958.4" cy="670.7" r="6.95"/>
<circle cx="586.9" cy="744.6" r="6.95"/>
</g>
<g fill="#8cbedb">
<circle cx="628.6" cy="697.7" r="6.95"/>
<circle cx="875.9" cy="581.2" r="6.95"/>
<circle cx="564.4" cy="706.2" r="6.95"/>
<circle cx="676.6" cy="558.1" r="6.95"/>
</g>
<g fill="#8dbedb">
<circle cx="850.2" cy="583.9" r="6.95"/>
<circle cx="707.3" cy="637.6" r="6.95"/>
<circle cx="582.2" cy="302.1" r="6.95"/>
<circle cx="526.5" cy="372.8" r="6.95"/>
</g>
<g fill="#8dbfdb">
<circle cx="602.9" cy="879.0" r="6.95"/>
<circle cx="980.1" cy="485.2" r="6.95"/>
<circle cx="629.7" cy="1011.1" r="6.95"/>
</g>
<g fill="#8ebfdb">
<circle cx="850.1" cy="885.4" r="6.95"/>
<circle cx="774.1" cy="458.1" r="6.95"/>
<circle cx="366.7" cy="435.8" r="6.95"/>
<circle cx="607.4" cy="696.1" r="6.95"/>
</g>
<g fill="#8ebfdc">
<circle cx="848.2" cy="360.4" r="6.95"/>
<circle cx="943.4" cy="915.9" r="6.95"/>
</g>
<g fill="#8fc0dc">
<circle cx="358.2" cy="927.2" r="6.95"/>
<circle cx="1016.2" cy="447.3" r="6.95"/>
<circle cx="218.3" cy="394.9" r="6.95"/>
<circle cx="907.2" cy="414.0" r="6.95"/>
<circle cx="582.4" cy="284.2" r="6.95"/>
<circle cx="814.6" cy="957.6" r="6.95"/>
</g>
<g fill="#91c1dc">
<circle cx="337.9" cy="804.3" r="6.95"/>
<circle cx="550.1" cy="893.2" r="6.95"/>
<circle cx="351.7" cy="414.1" r="6.95"/>
</g>
<g fill="#91c1dd">
<circle cx="517.1" cy="1033.2" r="6.95"/>
<circle cx="932.9" cy="421.4" r="6.95"/>
</g>
<g fill="#92c1dd">
<circle cx="339.1" cy="805.6" r="6.95"/>
</g>
<g fill="#92c2dd">
<circle cx="614.7" cy="862.1" r="6.95"/>
<circle cx="727.2" cy="1048.5" r="6.95"/>
<circle cx="585.5" cy="402.5" r="6.95"/>
<circle cx="336.0" cy="326.8" r="6.95"/>
<circle cx="545.7" cy="420.5" r="6.95"/>
</g>
<g fill="#93c2dd">
<circle cx="640.4" cy="872.5" r="6.95"/>
<circle cx="419.3" cy="348.3" r="6.95"/>
</g>
<g fill="#94c3dd">
<circle cx="342.4" cy="924.0" r="6.95"/>
<circle cx="332.6" cy="549.2" r="6.95"/>
<circle cx="700.7" cy="221.5" r="6.95"/>
</g>
<g fill="#95c3de">
<circle cx="810.9" cy="396.2" r="6.95"/>
<circle cx="889.5" cy="631.6" r="6.95"/>
<circle cx="508.0" cy="346.3" r="6.95"/>
</g>
<g fill="#95c4de">
<circle cx="638.3" cy="948.6" r="6.95"/>
</g>
<g fill="#96c4de">
<circle cx="510.1" cy="998.8" r="6.95"/>
<circle cx="791.1" cy="640.1" r="6.95"/>
<circle cx="442.3" cy="839.2" r="6.95"/>
</g>
<g fill="#97c5de">
<circle cx="403.4" cy="715.0" r="6.95"/>
<circle cx="589.6" cy="871.7" r="6.95"/>
<circle cx="591.1" cy="917.7" r="6.95"/>
<circle cx="606.6" cy="315.3" r="6.95"/>
<circle cx="573.6" cy="409.0" r="6.95"/>
</g>
<g fill="#97c5df">
<circle cx="693.8" cy="279.9" r="6.95"/>
<circle cx="341.4" cy="794.8" r="6.95"/>
</g>
<g fill="#98c5df">
<circle cx="754.3" cy="856.8" r="6.95"/>
</g>
<g fill="#98c6df">
<circle cx="366.3" cy="843.8" r="6.95"/>
<circle cx="778.7" cy="426.4" r="6.95"/>
</g>
<g fill="#99c6df">
<circle cx="479.7" cy="720.1" r="6.95"/>
<circle cx="608.7" cy="830.7" r="6.95"/>
<circle cx="602.9" cy="734.3" r="6.95"/>
<circle cx="570.0" cy="1047.6" r="6.95"/>
<circle cx="371.9" cy="957.3" r="6.95"/>
</g>
<g fill="#9ac7e0">
<circle cx="413.9" cy="426.7" r="6.95"/>
<circle cx="936.6" cy="280.7" r="6.95"/>
</g>
<g fill="#9bc7e0">
<circle cx="589.9" cy="747.8" r="6.95"/>
<circle cx="520.1" cy="442.7" r="6.95"/>
</g>
<g fill="#9cc8e0">
<circle cx="639.7" cy="1084.4" r="6.95"/>
<circle cx="237.1" cy="387.3" r="6.95"/>
<circle cx="780.1" cy="500.3" r="6.95"/>
<circle cx="722.5" cy="992.2" r="6.95"/>
</g>
<g fill="#9dc8e0">
<circle cx="354.1" cy="419.9" r="6.95"/>
<circle cx="428.5" cy="741.0" r="6.95"/>
<circle cx="356.6" cy="347.7" r="6.95"/>
</g>
<g fill="#9dc9e1">
<circle cx="716.0" cy="892.6" r="6.95"/>
<circle cx="427.5" cy="322.9" r="6.95"/>
<circle cx="548.1" cy="852.1" r="6.95"/>
</g>
<g fill="#9ec9e1">
<circle cx="617.3" cy="713.2" r="6.95"/>
<circle cx="782.4" cy="454.3" r="6.95"/>
<circle cx="444.2" cy="722.6" r="6.95"/>
<circle cx="448.1" cy="799.2" r="6.95"/>
<circle cx="587.8" cy="1028.6" r="6.95"/>
<circle cx="425.2" cy="748.4" r="6.95"/>
<circle cx="706.1" cy="805.4" r="6.95"/>
<circle cx="836.3" cy="538.8" r="6.95"/>
<circle cx="562.5" cy="997.2" r="6.95"/>
</g>
<g fill="#9fcae1">
<circle cx="595.6" cy="323.4" r="6.95"/>
<circle cx="1026.7" cy="312.3" r="6.95"/>
<circle cx="398.0" cy="728.4" r="6.95"/>
<circle cx="384.5" cy="720.6" r="6.95"/>
</g>
<g fill="#a0cae1">
<circle cx="526.6" cy="998.5" r="6.95"/>
<circle cx="402.7" cy="719.9" r="6.95"/>
<circle cx="1036.6" cy="485.5" r="6.95"/>
<circle cx="807.6" cy="342.8" r="6.95"/>
</g>
<g fill="#a0cbe2">
<circle cx="439.8" cy="844.0" r="6.95"/>
</g>
<g fill="#a1cbe2">
<circle cx="703.1" cy="996.3" r="6.95"/>
<circle cx="881.0" cy="362.0" r="6.95"/>
<circle cx="773.2" cy="529.0" r="6.95"/>
<circle cx="695.0" cy="466.0" r="6.95"/>
</g>
<g fill="#a2cce2">
<circle cx="627.1" cy="727.6" r="6.95"/>
<circle cx="518.5" cy="556.7" r="6.95"/>
<circle cx="745.1" cy="709.5" r="6.95"/>
<circle cx="506.0" cy="727.0" r="6.95"/>
<circle cx="672.7" cy="201.5" r="6.95"/>
<circle cx="494.0" cy="692.9" r="6.95"/>
<circle cx="580.3" cy="289.3" r="6.95"/>
</g>
<g fill="#a3cce2">
<circle cx="878.6" cy="568.8" r="6.95"/>
<circle cx="902.7" cy="428.4" r="6.95"/>
</g>
<g fill="#a3cce3">
<circle cx="651.0" cy="287.1" r="6.95"/>
<circle cx="902.3" cy="658.3" r="6.95"/>
</g>
<g fill="#a3cde3">
<circle cx="562.0" cy="785.7" r="6.95"/>
<circle cx="574.3" cy="966.9" r="6.95"/>
</g>
<g fill="#a4cde3">
<circle cx="351.4" cy="516.3" r="6.95"/>
<circle cx="709.6" cy="1080.4" r="6.95"/>
<circle cx="376.3" cy="800.6" r="6.95"/>
</g>
<g fill="#a5cde3">
<circle cx="599.5" cy="555.7" r="6.95"/>
</g>
<g fill="#a5cee3">
<circle cx="347.0" cy="525.6" r="6.95"/>
<circle cx="655.9" cy="481.3" r="6.95"/>
<circle cx="622.5" cy="700.6" r="6.95"/>
<circle cx="541.8" cy="238.8" r="6.95"/>
</g>
<g fill="#a6cee3">
<circle cx="583.6" cy="492.1" r="6.95"/>
</g>
<g fill="#a6cee4">
<circle cx="570.7" cy="906.2" r="6.95"/>
<circle cx="715.3" cy="641.8" r="6.95"/>
<circle cx="792.0" cy="695.5" r="6.95"/>
</g>
<g fill="#a6cfe4">
<circle cx="677.6" cy="474.7" r="6.95"/>
<circle cx="625.4" cy="447.8" r="6.95"/>
<circle cx="527.8" cy="360.9" r="6.95"/>
<circle cx="409.7" cy="780.4" r="6.95"/>
</g>
<g fill="#a7cfe4">
<circle cx="433.8" cy="706.1" r="6.95"/>
<circle cx="584.2" cy="527.6" r="6.95"/>
<circle cx="673.7" cy="856.3" r="6.95"/>
<circle cx="647.9" cy="840.3" r="6.95"/>
<circle cx="578.0" cy="316.0" r="6.95"/>
</g>
<g fill="#a8cfe4">
<circle cx="949.5" cy="657.2" r="6.95"/>
<circle cx="431.3" cy="238.9" r="6.95"/>
<circle cx="490.6" cy="413.0" r="6.95"/>
<circle cx="956.4" cy="438.9" r="6.95"/>
</g>
<g fill="#a8d0e4">
<circle cx="350.9" cy="510.2" r="6.95"/>
<circle cx="696.0" cy="287.4" r="6.95"/>
<circle cx="606.6" cy="852.1" r="6.95"/>
<circle cx="511.1" cy="784.6" r="6.95"/>
<circle cx="692.0" cy="694.3" r="6.95"/>
<circle cx="546.6" cy="441.2" r="6.95"/>
<circle cx="275.1" cy="424.1" r="6.95"/>
</g>
<g fill="#a9d0e4">
<circle cx="250.6" cy="308.7" r="6.95"/>
</g>
<g fill="#a9d0e5">
<circle cx="911.8" cy="681.1" r="6.95"/>
<circle cx="373.1" cy="798.7" r="6.95"/>
<circle cx="441.4" cy="742.1" r="6.95"/>
<circle cx="596.6" cy="404.7" r="6.95"/>
<circle cx="885.5" cy="781.9" r="6.95"/>
</g>
<g fill="#a9d1e5">
<circle cx="840.6" cy="771.0" r="6.95"/>
<circle cx="520.4" cy="1003.5" r="6.95"/>
</g>
<g fill="#aad1e5">
<circle cx="878.5" cy="623.7" r="6.95"/>
<circle cx="879.3" cy="779.3" r="6.95"/>
<circle cx="694.4" cy="981.6" r="6.95"/>
<circle cx="383.0" cy="559.4" r="6.95"/>
<circle cx="640.9" cy="828.0" r="6.95"/>
<circle cx="394.9" cy="423.0" r="6.95"/>
<circle cx="534.4" cy="500.6" r="6.95"/>
<circle cx="507.1" cy="962.1" r="6.95"/>
</g>
<g fill="#abd1e5">
<circle cx="524.8" cy="423.6" r="6.95"/>
<circle cx="1046.4" cy="480.7" r="6.95"/>
<circle cx="886.3" cy="431.1" r="6.95"/>
</g>
<g fill="#abd2e5">
<circle cx="854.0" cy="375.1" r="6.95"/>
<circle cx="604.5" cy="918.0" r="6.95"/>
<circle cx="562.1" cy="464.7" r="6.95"/>
<circle cx="618.7" cy="549.0" r="6.95"/>
<circle cx="794.6" cy="847.0" r="6.95"/>
</g>
<g fill="#acd2e6">
<circle cx="642.7" cy="493.6" r="6.95"/>
<circle cx="950.8" cy="647.1" r="6.95"/>
<circle cx="512.7" cy="708.7" r="6.95"/>
<circle cx="792.8" cy="663.1" r="6.95"/>
<circle cx="329.6" cy="401.0" r="6.95"/>
<circle cx="435.7" cy="417.0" r="6.95"/>
<circle cx="629.5" cy="524.4" r="6.95"/>
<circle cx="848.9" cy="552.1" r="6.95"/>
<circle cx="641.8" cy="465.1" r="6.95"/>
<circle cx="946.3" cy="629.4" r="6.95"/>
<circle cx="538.8" cy="439.9" r="6.95"/>
</g>
<g fill="#add3e6">
<circle cx="535.0" cy="853.2" r="6.95"/>
<circle cx="359.7" cy="829.1" r="6.95"/>
<circle cx="463.7" cy="700.9" r="6.95"/>
<circle cx="799.2" cy="319.9" r="6.95"/>
<circle cx="666.3" cy="248.9" r="6.95"/>
<circle cx="804.4" cy="702.0" r="6.95"/>
<circle cx="632.6" cy="949.7" r="6.95"/>
<circle cx="695.6" cy="286.6" r="6.95"/>
<circle cx="692.6" cy="294.4" r="6.95"/>
<circle cx="537.4" cy="565.4" r="6.95"/>
<circle cx="1036.4" cy="374.7" r="6.95"/>
<circle cx="757.5" cy="889.0" r="6.95"/>
<circle cx="631.9" cy="480.5" r="6.95"/>
</g>
<g fill="#aed3e6">
<circle cx="663.2" cy="806.7" r="6.95"/>
<circle cx="386.5" cy="738.9" r="6.95"/>
<circle cx="578.8" cy="480.1" r="6.95"/>
<circle cx="757.6" cy="434.4" r="6.95"/>
<circle cx="715.7" cy="647.3" r="6.95"/>
<circle cx="481.5" cy="388.6" r="6.95"/>
</g>
<g fill="#aed4e6">
<circle cx="575.7" cy="1041.6" r="6.95"/>
<circle cx="819.3" cy="400.5" r="6.95"/>
<circle cx="792.7" cy="396.7" r="6.95"/>
<circle cx="862.2" cy="663.9" r="6.95"/>
</g>
<g fill="#afd4e6">
<circle cx="742.1" cy="659.6" r="6.95"/>
<circle cx="417.7" cy="787.2" r="6.95"/>
<circle cx="838.2" cy="434.1" r="6.95"/>
</g>
<g fill="#afd4e7">
<circle cx="379.8" cy="780.7" r="6.95"/>
<circle cx="598.5" cy="562.7" r="6.95"/>
<circle cx="537.6" cy="777.0" r="6.95"/>
<circle cx="342.1" cy="386.8" r="6.95"/>
<circle cx="593.5" cy="1082.1" r="6.95"/>
<circle cx="701.5" cy="927.0" r="6.95"/>
<circle cx="631.6" cy="725.9" r="6.95"/>
<circle cx="839.2" cy="572.9" r="6.95"/>
<circle cx="660.0" cy="704.8" r="6.95"/>
<circle cx="926.5" cy="388.6" r="6.95"/>
</g>
<g fill="#b0d4e7">
<circle cx="613.6" cy="706.7" r="6.95"/>
<circle cx="677.4" cy="996.7" r="6.95"/>
<circle cx="792.6" cy="411.9" r="6.95"/>
<circle cx="594.1" cy="848.5" r="6.95"/>
<circle cx="685.3" cy="837.3" r="6.95"/>
</g>
<g fill="#b0d5e7">
<circle cx="695.7" cy="682.3" r="6.95"/>
<circle cx="267.3" cy="308.8" r="6.95"/>
<circle cx="873.8" cy="818.1" r="6.95"/>
<circle cx="578.6" cy="321.5" r="6.95"/>
<circle cx="335.8" cy="512.2" r="6.95"/>
<circle cx="377.9" cy="285.1" r="6.95"/>
<circle cx="919.7" cy="619.6" r="6.95"/>
<circle cx="798.6" cy="327.4" r="6.95"/>
<circle cx="575.1" cy="932.8" r="6.95"/>
<circle cx="945.6" cy="418.8" r="6.95"/>
<circle cx="650.6" cy="851.8" r="6.95"/>
<circle cx="586.3" cy="293.2" r="6.95"/>
</g>
<g fill="#b1d5e7">
<circle cx="563.9" cy="532.8" r="6.95"/>
<circle cx="631.2" cy="699.1" r="6.95"/>
<circle cx="787.2" cy="642.3" r="6.95"/>
<circle cx="617.4" cy="689.7" r="6.95"/>
<circle cx="576.6" cy="896.4" r="6.95"/>
<circle cx="340.1" cy="924.4" r="6.95"/>
<circle cx="850.6" cy="422.3" r="6.95"/>
<circle cx="902.8" cy="315.8" r="6.95"/>
<circle cx="732.4" cy="451.6" r="6.95"/>
</g>
<g fill="#b1d6e7">
<circle cx="948.0" cy="636.9" r="6.95"/>
<circle cx="577.9" cy="301.9" r="6.95"/>
<circle cx="1054.4" cy="330.1" r="6.95"/>
<circle cx="1038.3" cy="290.2" r="6.95"/>
</g>
<g fill="#b2d6e7">
<circle cx="535.5" cy="779.2" r="6.95"/>
</g>
<g fill="#b2d6e8">
<circle cx="761.4" cy="461.4" r="6.95"/>
<circle cx="641.3" cy="914.9" r="6.95"/>
<circle cx="348.6" cy="565.8" r="6.95"/>
<circle cx="666.9" cy="931.9" r="6.95"/>
<circle cx="551.5" cy="455.8" r="6.95"/>
<circle cx="661.9" cy="681.0" r="6.95"/>
<circle cx="529.2" cy="995.1" r="6.95"/>
<circle cx="606.7" cy="854.5" r="6.95"/>
<circle cx="626.9" cy="794.9" r="6.95"/>
<circle cx="733.1" cy="220.6" r="6.95"/>
</g>
<g fill="#b3d6e8">
<circle cx="323.1" cy="555.1" r="6.95"/>
<circle cx="696.0" cy="339.0" r="6.95"/>
<circle cx="768.8" cy="350.0" r="6.95"/>
<circle cx="556.2" cy="371.2" r="6.95"/>
<circle cx="670.0" cy="360.0" r="6.95"/>
<circle cx="650.0" cy="380.0" r="6.95"/>
<circle cx="708.8" cy="380.0" r="6.95"/>
<circle cx="708.8" cy="403.8" r="6.95"/>
<circle cx="675.0" cy="415.0" r="6.95"/>
<circle cx="660.0" cy="410.0" r="6.95"/>
<circle cx="699.0" cy="385.0" r="6.95"/>
<circle cx="680.0" cy="392.0" r="6.95"/>
<circle cx="725.0" cy="603.8" r="6.95"/>
<circle cx="721.8" cy="855.8" r="6.95"/>
<circle cx="409.0" cy="840.4" r="6.95"/>
<circle cx="843.6" cy="624.7" r="6.95"/>
<circle cx="675.8" cy="549.0" r="6.95"/>
<circle cx="822.3" cy="536.6" r="6.95"/>
<circle cx="518.1" cy="778.1" r="6.95"/>
<circle cx="631.1" cy="701.9" r="6.95"/>
</g>
<g fill="#b3d7e8">
<circle cx="770.1" cy="516.4" r="6.95"/>
<circle cx="956.4" cy="578.6" r="6.95"/>
<circle cx="572.5" cy="430.3" r="6.95"/>
<circle cx="604.3" cy="685.8" r="6.95"/>
<circle cx="507.4" cy="882.7" r="6.95"/>
<circle cx="321.2" cy="921.4" r="6.95"/>
<circle cx="559.7" cy="434.6" r="6.95"/>
<circle cx="656.2" cy="866.5" r="6.95"/>
<circle cx="927.4" cy="602.1" r="6.95"/>
<circle cx="869.6" cy="415.8" r="6.95"/>
<circle cx="617.2" cy="718.2" r="6.95"/>
</g>
<g fill="#b4d7e8">
<circle cx="540.1" cy="522.2" r="6.95"/>
<circle cx="947.1" cy="675.7" r="6.95"/>
<circle cx="592.2" cy="713.0" r="6.95"/>
<circle cx="643.8" cy="435.6" r="6.95"/>
<circle cx="639.8" cy="257.9" r="6.95"/>
<circle cx="389.5" cy="832.3" r="6.95"/>
<circle cx="440.3" cy="776.5" r="6.95"/>
<circle cx="432.9" cy="237.6" r="6.95"/>
<circle cx="575.6" cy="705.5" r="6.95"/>
<circle cx="522.9" cy="882.6" r="6.95"/>
<circle cx="913.9" cy="679.7" r="6.95"/>
<circle cx="715.6" cy="657.6" r="6.95"/>
<circle cx="538.0" cy="536.8" r="6.95"/>
<circle cx="680.5" cy="564.0" r="6.95"/>
<circle cx="823.6" cy="402.2" r="6.95"/>
<circle cx="865.8" cy="530.8" r="6.95"/>
<circle cx="725.8" cy="674.1" r="6.95"/>
<circle cx="596.2" cy="702.7" r="6.95"/>
<circle cx="777.6" cy="480.2" r="6.95"/>
<circle cx="530.9" cy="369.6" r="6.95"/>
<circle cx="519.4" cy="533.2" r="6.95"/>
<circle cx="506.5" cy="770.5" r="6.95"/>
</g>
<g fill="#b5d7e8">
<circle cx="945.5" cy="651.7" r="6.95"/>
<circle cx="542.6" cy="825.6" r="6.95"/>
<circle cx="762.8" cy="1032.3" r="6.95"/>
<circle cx="705.3" cy="1072.0" r="6.95"/>
</g>
<g fill="#b5d7e9">
<circle cx="903.4" cy="283.6" r="6.95"/>
<circle cx="466.5" cy="741.8" r="6.95"/>
<circle cx="544.2" cy="364.6" r="6.95"/>
<circle cx="854.4" cy="351.7" r="6.95"/>
</g>
<g fill="#b5d8e9">
<circle cx="378.0" cy="497.0" r="6.95"/>
<circle cx="417.9" cy="413.0" r="6.95"/>
<circle cx="776.8" cy="621.4" r="6.95"/>
<circle cx="700.8" cy="440.8" r="6.95"/>
<circle cx="539.1" cy="377.8" r="6.95"/>
<circle cx="903.6" cy="643.0" r="6.95"/>
<circle cx="629.2" cy="316.2" r="6.95"/>
<circle cx="515.3" cy="426.2" r="6.95"/>
<circle cx="1062.6" cy="310.9" r="6.95"/>
<circle cx="347.3" cy="385.7" r="6.95"/>
<circle cx="307.1" cy="504.4" r="6.95"/>
<circle cx="935.5" cy="636.5" r="6.95"/>
<circle cx="555.2" cy="1054.5" r="6.95"/>
<circle cx="551.7" cy="526.6" r="6.95"/>
<circle cx="591.3" cy="553.2" r="6.95"/>
<circle cx="386.9" cy="570.5" r="6.95"/>
</g>
<g fill="#b6d8e9">
<circle cx="920.9" cy="597.2" r="6.95"/>
<circle cx="568.0" cy="764.2" r="6.95"/>
<circle cx="619.2" cy="704.6" r="6.95"/>
<circle cx="970.6" cy="669.6" r="6.95"/>
<circle cx="511.6" cy="497.6" r="6.95"/>
<circle cx="662.3" cy="256.1" r="6.95"/>
</g>
<g fill="#b7d8e9">
<circle cx="775.5" cy="434.6" r="6.95"/>
<circle cx="682.1" cy="1082.3" r="6.95"/>
<circle cx="509.4" cy="368.9" r="6.95"/>
<circle cx="361.6" cy="513.2" r="6.95"/>
<circle cx="542.5" cy="763.1" r="6.95"/>
<circle cx="573.0" cy="507.6" r="6.95"/>
<circle cx="889.9" cy="449.2" r="6.95"/>
<circle cx="584.7" cy="725.6" r="6.95"/>
<circle cx="778.2" cy="505.1" r="6.95"/>
<circle cx="533.0" cy="914.2" r="6.95"/>
<circle cx="673.7" cy="252.2" r="6.95"/>
<circle cx="642.3" cy="696.3" r="6.95"/>
</g>
<g fill="#b7d9e9">
<circle cx="520.9" cy="439.1" r="6.95"/>
<circle cx="720.6" cy="1030.6" r="6.95"/>
<circle cx="407.4" cy="535.0" r="6.95"/>
<circle cx="300.0" cy="920.9" r="6.95"/>
<circle cx="738.2" cy="646.7" r="6.95"/>
<circle cx="307.6" cy="515.3" r="6.95"/>
<circle cx="928.6" cy="342.3" r="6.95"/>
<circle cx="872.2" cy="474.3" r="6.95"/>
<circle cx="840.6" cy="642.1" r="6.95"/>
<circle cx="544.0" cy="1007.4" r="6.95"/>
<circle cx="548.3" cy="511.2" r="6.95"/>
<circle cx="775.6" cy="697.1" r="6.95"/>
<circle cx="482.4" cy="759.8" r="6.95"/>
<circle cx="739.8" cy="882.1" r="6.95"/>
<circle cx="279.0" cy="470.3" r="6.95"/>
<circle cx="318.4" cy="309.6" r="6.95"/>
<circle cx="583.5" cy="927.1" r="6.95"/>
</g>
<g fill="#b8d9e9">
<circle cx="601.3" cy="720.2" r="6.95"/>
<circle cx="549.0" cy="933.5" r="6.95"/>
<circle cx="375.5" cy="938.2" r="6.95"/>
<circle cx="680.7" cy="1073.5" r="6.95"/>
<circle cx="532.1" cy="443.2" r="6.95"/>
<circle cx="581.6" cy="536.3" r="6.95"/>
<circle cx="513.4" cy="464.1" r="6.95"/>
<circle cx="633.0" cy="502.3" r="6.95"/>
<circle cx="760.0" cy="556.1" r="6.95"/>
<circle cx="879.9" cy="809.5" r="6.95"/>
<circle cx="575.0" cy="478.0" r="6.95"/>
<circle cx="396.2" cy="399.3" r="6.95"/>
<circle cx="722.4" cy="294.4" r="6.95"/>
<circle cx="500.3" cy="768.3" r="6.95"/>
<circle cx="852.6" cy="612.1" r="6.95"/>
<circle cx="804.4" cy="645.0" r="6.95"/>
<circle cx="342.7" cy="968.1" r="6.95"/>
</g>
<g fill="#b8d9ea">
<circle cx="388.5" cy="576.8" r="6.95"/>
<circle cx="498.7" cy="279.7" r="6.95"/>
</g>
<g fill="#b9d9ea">
<circle cx="603.2" cy="719.1" r="6.95"/>
<circle cx="329.6" cy="531.4" r="6.95"/>
<circle cx="943.7" cy="650.1" r="6.95"/>
<circle cx="619.0" cy="426.1" r="6.95"/>
<circle cx="293.3" cy="491.1" r="6.95"/>
<circle cx="787.7" cy="653.0" r="6.95"/>
<circle cx="751.2" cy="499.3" r="6.95"/>
<circle cx="676.5" cy="856.7" r="6.95"/>
<circle cx="408.3" cy="701.1" r="6.95"/>
<circle cx="723.4" cy="524.0" r="6.95"/>
</g>
<g fill="#b9daea">
<circle cx="446.0" cy="370.0" r="6.95"/>
<circle cx="689.8" cy="967.0" r="6.95"/>
<circle cx="566.6" cy="1004.3" r="6.95"/>
<circle cx="808.6" cy="474.0" r="6.95"/>
<circle cx="557.2" cy="794.9" r="6.95"/>
<circle cx="351.0" cy="249.6" r="6.95"/>
<circle cx="694.9" cy="1004.5" r="6.95"/>
<circle cx="501.3" cy="512.5" r="6.95"/>
<circle cx="528.0" cy="458.3" r="6.95"/>
<circle cx="256.1" cy="321.3" r="6.95"/>
<circle cx="951.1" cy="431.1" r="6.95"/>
<circle cx="871.6" cy="615.3" r="6.95"/>
<circle cx="722.6" cy="1031.9" r="6.95"/>
<circle cx="572.7" cy="255.9" r="6.95"/>
<circle cx="633.4" cy="830.5" r="6.95"/>
<circle cx="758.4" cy="694.7" r="6.95"/>
<circle cx="958.8" cy="432.9" r="6.95"/>
<circle cx="688.9" cy="1083.7" r="6.95"/>
</g>
<g fill="#badaea">
<circle cx="733.1" cy="647.2" r="6.95"/>
<circle cx="541.3" cy="866.7" r="6.95"/>
<circle cx="533.3" cy="840.2" r="6.95"/>
<circle cx="674.5" cy="298.9" r="6.95"/>
<circle cx="320.3" cy="566.6" r="6.95"/>
<circle cx="521.9" cy="567.0" r="6.95"/>
<circle cx="536.6" cy="445.5" r="6.95"/>
<circle cx="655.5" cy="663.7" r="6.95"/>
<circle cx="301.3" cy="431.8" r="6.95"/>
<circle cx="439.3" cy="241.4" r="6.95"/>
<circle cx="607.6" cy="515.9" r="6.95"/>
<circle cx="386.1" cy="820.9" r="6.95"/>
<circle cx="616.6" cy="470.6" r="6.95"/>
<circle cx="399.7" cy="381.9" r="6.95"/>
<circle cx="516.7" cy="806.4" r="6.95"/>
<circle cx="433.3" cy="735.3" r="6.95"/>
<circle cx="977.6" cy="414.0" r="6.95"/>
<circle cx="661.0" cy="718.9" r="6.95"/>
<circle cx="631.3" cy="818.1" r="6.95"/>
<circle cx="603.4" cy="707.8" r="6.95"/>
<circle cx="596.9" cy="324.4" r="6.95"/>
</g>
<g fill="#bbdaea">
<circle cx="552.8" cy="775.3" r="6.95"/>
<circle cx="730.2" cy="1019.5" r="6.95"/>
<circle cx="601.7" cy="1064.2" r="6.95"/>
<circle cx="283.7" cy="401.1" r="6.95"/>
</g>
<g fill="#bbdbea">
<circle cx="658.4" cy="502.8" r="6.95"/>
<circle cx="413.7" cy="737.3" r="6.95"/>
<circle cx="309.5" cy="457.2" r="6.95"/>
<circle cx="742.1" cy="563.0" r="6.95"/>
<circle cx="245.6" cy="313.0" r="6.95"/>
<circle cx="912.6" cy="402.5" r="6.95"/>
<circle cx="575.2" cy="402.4" r="6.95"/>
<circle cx="519.4" cy="1000.4" r="6.95"/>
<circle cx="747.0" cy="708.3" r="6.95"/>
<circle cx="552.4" cy="219.4" r="6.95"/>
<circle cx="408.7" cy="457.4" r="6.95"/>
<circle cx="858.8" cy="642.8" r="6.95"/>
<circle cx="502.6" cy="715.3" r="6.95"/>
<circle cx="782.9" cy="506.0" r="6.95"/>
<circle cx="609.1" cy="1054.6" r="6.95"/>
<circle cx="284.0" cy="435.3" r="6.95"/>
<circle cx="869.9" cy="395.6" r="6.95"/>
<circle cx="463.7" cy="360.8" r="6.95"/>
<circle cx="381.8" cy="541.6" r="6.95"/>
<circle cx="321.1" cy="425.0" r="6.95"/>
<circle cx="910.4" cy="388.8" r="6.95"/>
<circle cx="904.2" cy="417.6" r="6.95"/>
</g>
<g fill="#bcdbea">
<circle cx="734.5" cy="979.8" r="6.95"/>
<circle cx="536.7" cy="555.9" r="6.95"/>
<circle cx="318.4" cy="534.7" r="6.95"/>
<circle cx="591.0" cy="1028.1" r="6.95"/>
</g>
<g fill="#bcdbeb">
<circle cx="760.8" cy="639.0" r="6.95"/>
<circle cx="865.5" cy="801.2" r="6.95"/>
<circle cx="532.0" cy="811.4" r="6.95"/>
<circle cx="742.0" cy="860.6" r="6.95"/>
<circle cx="504.4" cy="913.0" r="6.95"/>
<circle cx="840.9" cy="354.9" r="6.95"/>
<circle cx="606.9" cy="871.0" r="6.95"/>
<circle cx="353.4" cy="540.9" r="6.95"/>
<circle cx="545.5" cy="814.2" r="6.95"/>
<circle cx="431.9" cy="433.0" r="6.95"/>
</g>
<g fill="#bddbeb">
<circle cx="806.8" cy="924.8" r="6.95"/>
<circle cx="512.7" cy="237.4" r="6.95"/>
<circle cx="433.2" cy="394.8" r="6.95"/>
<circle cx="807.4" cy="706.9" r="6.95"/>
</g>
<g fill="#bddceb">
<circle cx="572.6" cy="473.5" r="6.95"/>
<circle cx="819.8" cy="913.5" r="6.95"/>
<circle cx="748.2" cy="1015.7" r="6.95"/>
<circle cx="363.8" cy="748.5" r="6.95"/>
<circle cx="574.5" cy="844.5" r="6.95"/>
<circle cx="304.2" cy="414.9" r="6.95"/>
<circle cx="589.7" cy="874.4" r="6.95"/>
<circle cx="511.0" cy="782.2" r="6.95"/>
<circle cx="1015.3" cy="793.6" r="6.95"/>
</g>
<g fill="#bedceb">
<circle cx="356.3" cy="770.5" r="6.95"/>
<circle cx="572.8" cy="562.5" r="6.95"/>
<circle cx="804.1" cy="725.4" r="6.95"/>
<circle cx="552.5" cy="554.9" r="6.95"/>
<circle cx="675.5" cy="965.3" r="6.95"/>
<circle cx="367.8" cy="467.4" r="6.95"/>
<circle cx="322.7" cy="479.9" r="6.95"/>
<circle cx="492.9" cy="222.0" r="6.95"/>
<circle cx="226.0" cy="415.2" r="6.95"/>
<circle cx="536.5" cy="835.9" r="6.95"/>
</g>
<g fill="#bfdceb">
<circle cx="917.8" cy="334.9" r="6.95"/>
<circle cx="647.6" cy="1075.1" r="6.95"/>
<circle cx="831.7" cy="792.9" r="6.95"/>
<circle cx="772.1" cy="500.8" r="6.95"/>
</g>
<g fill="#bfddeb">
<circle cx="805.9" cy="322.2" r="6.95"/>
<circle cx="340.3" cy="768.2" r="6.95"/>
<circle cx="1062.8" cy="320.3" r="6.95"/>
<circle cx="631.0" cy="511.5" r="6.95"/>
<circle cx="653.9" cy="261.9" r="6.95"/>
<circle cx="608.7" cy="725.1" r="6.95"/>
<circle cx="890.2" cy="910.7" r="6.95"/>
<circle cx="428.8" cy="714.3" r="6.95"/>
<circle cx="542.3" cy="861.4" r="6.95"/>
<circle cx="248.6" cy="418.4" r="6.95"/>
<circle cx="643.8" cy="1036.3" r="6.95"/>
</g>
<g fill="#bfddec">
<circle cx="882.8" cy="437.4" r="6.95"/>
<circle cx="416.3" cy="559.4" r="6.95"/>
<circle cx="513.7" cy="366.2" r="6.95"/>
</g>
<g fill="#c0ddec">
<circle cx="687.9" cy="678.9" r="6.95"/>
<circle cx="309.2" cy="364.6" r="6.95"/>
<circle cx="885.7" cy="620.7" r="6.95"/>
<circle cx="917.8" cy="433.6" r="6.95"/>
<circle cx="700.9" cy="998.0" r="6.95"/>
<circle cx="699.2" cy="242.6" r="6.95"/>
<circle cx="370.8" cy="714.1" r="6.95"/>
<circle cx="455.9" cy="280.1" r="6.95"/>
<circle cx="896.0" cy="903.4" r="6.95"/>
<circle cx="466.2" cy="719.7" r="6.95"/>
<circle cx="552.6" cy="920.9" r="6.95"/>
<circle cx="503.2" cy="334.4" r="6.95"/>
<circle cx="701.0" cy="280.9" r="6.95"/>
<circle cx="402.4" cy="705.9" r="6.95"/>
<circle cx="776.2" cy="716.4" r="6.95"/>
<circle cx="794.1" cy="697.0" r="6.95"/>
<circle cx="527.4" cy="368.2" r="6.95"/>
<circle cx="516.4" cy="347.5" r="6.95"/>
<circle cx="844.4" cy="771.9" r="6.95"/>
</g>
<g fill="#c1ddec">
<circle cx="361.2" cy="474.3" r="6.95"/>
<circle cx="303.2" cy="410.5" r="6.95"/>
</g>
<g fill="#c1deec">
<circle cx="601.7" cy="769.3" r="6.95"/>
<circle cx="747.3" cy="1002.0" r="6.95"/>
<circle cx="867.9" cy="798.2" r="6.95"/>
<circle cx="662.4" cy="995.2" r="6.95"/>
<circle cx="411.5" cy="316.8" r="6.95"/>
<circle cx="359.0" cy="363.7" r="6.95"/>
<circle cx="857.8" cy="558.4" r="6.95"/>
<circle cx="626.2" cy="310.8" r="6.95"/>
<circle cx="869.6" cy="649.6" r="6.95"/>
<circle cx="848.6" cy="925.6" r="6.95"/>
<circle cx="960.7" cy="300.5" r="6.95"/>
<circle cx="642.0" cy="981.4" r="6.95"/>
<circle cx="853.7" cy="575.5" r="6.95"/>
<circle cx="486.8" cy="718.3" r="6.95"/>
<circle cx="896.3" cy="346.8" r="6.95"/>
<circle cx="1021.8" cy="441.8" r="6.95"/>
</g>
<g fill="#c2deec">
<circle cx="308.9" cy="404.2" r="6.95"/>
<circle cx="638.8" cy="713.8" r="6.95"/>
<circle cx="534.8" cy="262.7" r="6.95"/>
<circle cx="577.6" cy="564.2" r="6.95"/>
<circle cx="898.5" cy="643.1" r="6.95"/>
<circle cx="514.2" cy="1000.3" r="6.95"/>
<circle cx="598.4" cy="869.5" r="6.95"/>
<circle cx="907.9" cy="435.0" r="6.95"/>
<circle cx="1056.3" cy="335.0" r="6.95"/>
<circle cx="647.6" cy="994.3" r="6.95"/>
<circle cx="895.4" cy="430.3" r="6.95"/>
<circle cx="905.1" cy="829.2" r="6.95"/>
<circle cx="295.5" cy="416.8" r="6.95"/>
</g>
<g fill="#c3deec">
<circle cx="588.2" cy="317.0" r="6.95"/>
</g>
<g fill="#c3dfec">
<circle cx="921.5" cy="525.4" r="6.95"/>
<circle cx="771.5" cy="855.2" r="6.95"/>
</g>
<g fill="#c3dfed">
<circle cx="525.7" cy="549.9" r="6.95"/>
<circle cx="892.0" cy="817.8" r="6.95"/>
<circle cx="503.9" cy="346.6" r="6.95"/>
<circle cx="575.6" cy="1031.8" r="6.95"/>
<circle cx="599.9" cy="1075.5" r="6.95"/>
<circle cx="585.4" cy="907.1" r="6.95"/>
<circle cx="672.5" cy="852.5" r="6.95"/>
<circle cx="463.5" cy="339.5" r="6.95"/>
<circle cx="328.6" cy="465.1" r="6.95"/>
</g>
<g fill="#c4dfed">
<circle cx="369.3" cy="552.3" r="6.95"/>
<circle cx="431.3" cy="372.8" r="6.95"/>
<circle cx="549.6" cy="266.8" r="6.95"/>
<circle cx="839.3" cy="338.2" r="6.95"/>
<circle cx="911.3" cy="803.4" r="6.95"/>
<circle cx="579.0" cy="222.0" r="6.95"/>
<circle cx="312.8" cy="497.4" r="6.95"/>
<circle cx="550.2" cy="897.9" r="6.95"/>
<circle cx="420.9" cy="732.5" r="6.95"/>
<circle cx="555.0" cy="1015.6" r="6.95"/>
<circle cx="217.2" cy="455.8" r="6.95"/>
<circle cx="903.6" cy="428.3" r="6.95"/>
<circle cx="921.2" cy="857.3" r="6.95"/>
<circle cx="778.5" cy="654.2" r="6.95"/>
<circle cx="660.4" cy="990.8" r="6.95"/>
<circle cx="478.8" cy="301.9" r="6.95"/>
<circle cx="884.3" cy="617.7" r="6.95"/>
<circle cx="772.4" cy="527.7" r="6.95"/>
<circle cx="329.7" cy="410.5" r="6.95"/>
<circle cx="198.1" cy="411.4" r="6.95"/>
<circle cx="235.7" cy="327.1" r="6.95"/>
<circle cx="679.3" cy="688.5" r="6.95"/>
<circle cx="266.2" cy="401.4" r="6.95"/>
</g>
<g fill="#c5dfed">
<circle cx="771.1" cy="523.5" r="6.95"/>
<circle cx="856.1" cy="559.4" r="6.95"/>
<circle cx="1059.6" cy="369.3" r="6.95"/>
</g>
<g fill="#c5e0ed">
<circle cx="810.6" cy="919.9" r="6.95"/>
<circle cx="598.6" cy="835.8" r="6.95"/>
<circle cx="564.3" cy="305.7" r="6.95"/>
<circle cx="807.8" cy="278.4" r="6.95"/>
<circle cx="519.2" cy="266.9" r="6.95"/>
<circle cx="369.8" cy="484.1" r="6.95"/>
<circle cx="474.4" cy="304.6" r="6.95"/>
<circle cx="347.7" cy="478.0" r="6.95"/>
<circle cx="562.7" cy="306.0" r="6.95"/>
<circle cx="892.8" cy="396.0" r="6.95"/>
<circle cx="624.3" cy="1032.5" r="6.95"/>
<circle cx="297.3" cy="310.2" r="6.95"/>
<circle cx="418.1" cy="420.2" r="6.95"/>
<circle cx="367.7" cy="837.3" r="6.95"/>
</g>
<g fill="#c6e0ed">
<circle cx="515.9" cy="852.0" r="6.95"/>
<circle cx="561.1" cy="475.6" r="6.95"/>
<circle cx="599.0" cy="924.3" r="6.95"/>
<circle cx="674.9" cy="866.1" r="6.95"/>
<circle cx="989.2" cy="474.3" r="6.95"/>
<circle cx="336.4" cy="486.1" r="6.95"/>
<circle cx="927.9" cy="332.2" r="6.95"/>
<circle cx="1038.0" cy="356.3" r="6.95"/>
<circle cx="621.4" cy="315.4" r="6.95"/>
<circle cx="319.8" cy="806.0" r="6.95"/>
<circle cx="655.6" cy="324.4" r="6.95"/>
<circle cx="486.2" cy="219.8" r="6.95"/>
<circle cx="591.3" cy="1062.0" r="6.95"/>
<circle cx="290.3" cy="296.9" r="6.95"/>
<circle cx="510.6" cy="339.8" r="6.95"/>
</g>
<g fill="#c6e0ee">
<circle cx="727.8" cy="997.4" r="6.95"/>
<circle cx="323.0" cy="409.5" r="6.95"/>
</g>
<g fill="#c7e0ee">
<circle cx="369.0" cy="734.4" r="6.95"/>
</g>
<g fill="#c7e1ee">
<circle cx="903.1" cy="645.1" r="6.95"/>
<circle cx="766.9" cy="967.5" r="6.95"/>
<circle cx="552.6" cy="906.0" r="6.95"/>
<circle cx="800.8" cy="970.1" r="6.95"/>
<circle cx="442.1" cy="857.0" r="6.95"/>
<circle cx="824.7" cy="943.4" r="6.95"/>
<circle cx="684.3" cy="1083.9" r="6.95"/>
<circle cx="411.5" cy="400.7" r="6.95"/>
<circle cx="667.2" cy="859.7" r="6.95"/>
<circle cx="984.2" cy="296.3" r="6.95"/>
<circle cx="784.7" cy="287.6" r="6.95"/>
<circle cx="817.3" cy="696.2" r="6.95"/>
<circle cx="382.1" cy="312.4" r="6.95"/>
<circle cx="410.7" cy="745.9" r="6.95"/>
<circle cx="628.6" cy="711.1" r="6.95"/>
<circle cx="339.9" cy="922.9" r="6.95"/>
<circle cx="713.8" cy="993.7" r="6.95"/>
<circle cx="443.9" cy="323.8" r="6.95"/>
<circle cx="700.0" cy="875.5" r="6.95"/>
<circle cx="657.0" cy="914.1" r="6.95"/>
<circle cx="963.2" cy="332.3" r="6.95"/>
<circle cx="608.5" cy="779.7" r="6.95"/>
</g>
<g fill="#c8e1ee">
<circle cx="617.8" cy="1083.9" r="6.95"/>
<circle cx="812.2" cy="324.2" r="6.95"/>
<circle cx="852.0" cy="412.7" r="6.95"/>
<circle cx="631.7" cy="930.2" r="6.95"/>
<circle cx="340.1" cy="790.8" r="6.95"/>
<circle cx="656.0" cy="1050.5" r="6.95"/>
<circle cx="598.0" cy="1053.6" r="6.95"/>
<circle cx="323.0" cy="492.6" r="6.95"/>
<circle cx="861.5" cy="895.7" r="6.95"/>
<circle cx="689.0" cy="287.6" r="6.95"/>
<circle cx="931.9" cy="836.9" r="6.95"/>
<circle cx="313.5" cy="415.5" r="6.95"/>
<circle cx="907.0" cy="783.5" r="6.95"/>
<circle cx="643.5" cy="1070.3" r="6.95"/>
<circle cx="593.0" cy="723.1" r="6.95"/>
<circle cx="304.2" cy="472.7" r="6.95"/>
</g>
<g fill="#c9e1ee">
<circle cx="437.9" cy="224.1" r="6.95"/>
</g>
<g fill="#c9e2ee">
<circle cx="474.1" cy="350.0" r="6.95"/>
<circle cx="511.8" cy="917.1" r="6.95"/>
<circle cx="517.3" cy="986.5" r="6.95"/>
<circle cx="905.7" cy="645.7" r="6.95"/>
<circle cx="459.1" cy="310.7" r="6.95"/>
<circle cx="839.2" cy="743.6" r="6.95"/>
<circle cx="831.0" cy="910.5" r="6.95"/>
<circle cx="451.6" cy="360.3" r="6.95"/>
<circle cx="798.5" cy="738.0" r="6.95"/>
<circle cx="714.0" cy="1035.3" r="6.95"/>
<circle cx="898.8" cy="494.2" r="6.95"/>
<circle cx="622.7" cy="962.8" r="6.95"/>
<circle cx="624.2" cy="1050.9" r="6.95"/>
<circle cx="782.1" cy="664.3" r="6.95"/>
<circle cx="907.1" cy="318.9" r="6.95"/>
</g>
<g fill="#cae2ee">
<circle cx="545.1" cy="264.3" r="6.95"/>
<circle cx="848.7" cy="871.7" r="6.95"/>
<circle cx="822.6" cy="931.6" r="6.95"/>
<circle cx="578.9" cy="433.1" r="6.95"/>
</g>
<g fill="#cae2ef">
<circle cx="956.8" cy="831.3" r="6.95"/>
<circle cx="675.5" cy="673.5" r="6.95"/>
<circle cx="855.2" cy="933.2" r="6.95"/>
<circle cx="794.8" cy="637.0" r="6.95"/>
<circle cx="619.9" cy="1022.7" r="6.95"/>
<circle cx="512.4" cy="332.0" r="6.95"/>
<circle cx="517.5" cy="211.1" r="6.95"/>
<circle cx="514.3" cy="442.6" r="6.95"/>
<circle cx="349.1" cy="803.9" r="6.95"/>
<circle cx="513.6" cy="368.6" r="6.95"/>
<circle cx="664.4" cy="1058.4" r="6.95"/>
<circle cx="598.6" cy="917.2" r="6.95"/>
</g>
<g fill="#cbe3ef">
<circle cx="538.6" cy="376.2" r="6.95"/>
<circle cx="1035.6" cy="345.7" r="6.95"/>
<circle cx="418.4" cy="454.0" r="6.95"/>
<circle cx="529.6" cy="293.1" r="6.95"/>
<circle cx="793.0" cy="297.3" r="6.95"/>
<circle cx="654.5" cy="921.5" r="6.95"/>
<circle cx="1044.7" cy="443.6" r="6.95"/>
<circle cx="990.8" cy="800.1" r="6.95"/>
<circle cx="568.5" cy="997.5" r="6.95"/>
<circle cx="803.9" cy="643.5" r="6.95"/>
<circle cx="579.1" cy="313.0" r="6.95"/>
<circle cx="952.7" cy="679.1" r="6.95"/>
<circle cx="336.3" cy="321.0" r="6.95"/>
<circle cx="548.3" cy="885.5" r="6.95"/>
<circle cx="869.0" cy="636.9" r="6.95"/>
<circle cx="541.7" cy="425.8" r="6.95"/>
<circle cx="783.4" cy="500.9" r="6.95"/>
</g>
<g fill="#cce3ef">
<circle cx="628.4" cy="321.9" r="6.95"/>
<circle cx="761.4" cy="751.2" r="6.95"/>
<circle cx="626.8" cy="265.9" r="6.95"/>
<circle cx="367.7" cy="519.0" r="6.95"/>
<circle cx="737.7" cy="548.1" r="6.95"/>
<circle cx="574.3" cy="477.1" r="6.95"/>
<circle cx="816.9" cy="737.2" r="6.95"/>
<circle cx="702.6" cy="300.8" r="6.95"/>
<circle cx="483.5" cy="345.6" r="6.95"/>
<circle cx="410.8" cy="418.5" r="6.95"/>
<circle cx="360.3" cy="956.7" r="6.95"/>
<circle cx="479.5" cy="340.1" r="6.95"/>
<circle cx="818.6" cy="303.9" r="6.95"/>
<circle cx="598.8" cy="1074.3" r="6.95"/>
<circle cx="629.8" cy="1012.2" r="6.95"/>
<circle cx="826.2" cy="956.1" r="6.95"/>
<circle cx="555.8" cy="301.3" r="6.95"/>
<circle cx="581.5" cy="528.1" r="6.95"/>
<circle cx="600.3" cy="1042.1" r="6.95"/>
<circle cx="744.6" cy="733.2" r="6.95"/>
</g>
<g fill="#cce4ef">
<circle cx="636.5" cy="874.3" r="6.95"/>
</g>
<g fill="#cde4ef">
<circle cx="743.0" cy="215.5" r="6.95"/>
<circle cx="919.4" cy="437.7" r="6.95"/>
<circle cx="440.1" cy="302.2" r="6.95"/>
<circle cx="711.1" cy="437.0" r="6.95"/>
<circle cx="694.5" cy="244.5" r="6.95"/>
<circle cx="663.0" cy="797.9" r="6.95"/>
<circle cx="237.9" cy="477.6" r="6.95"/>
<circle cx="937.8" cy="921.9" r="6.95"/>
<circle cx="519.4" cy="448.4" r="6.95"/>
<circle cx="576.5" cy="655.0" r="6.95"/>
<circle cx="1037.3" cy="441.2" r="6.95"/>
<circle cx="736.8" cy="898.3" r="6.95"/>
</g>
<g fill="#cde4f0">
<circle cx="808.5" cy="899.3" r="6.95"/>
<circle cx="513.1" cy="975.7" r="6.95"/>
</g>
<g fill="#cee4f0">
<circle cx="694.3" cy="292.6" r="6.95"/>
<circle cx="815.7" cy="759.0" r="6.95"/>
<circle cx="413.9" cy="728.0" r="6.95"/>
<circle cx="564.9" cy="772.4" r="6.95"/>
<circle cx="704.1" cy="1016.2" r="6.95"/>
<circle cx="931.3" cy="864.3" r="6.95"/>
<circle cx="891.4" cy="432.6" r="6.95"/>
<circle cx="608.5" cy="862.5" r="6.95"/>
<circle cx="485.0" cy="962.7" r="6.95"/>
<circle cx="571.3" cy="244.3" r="6.95"/>
<circle cx="302.0" cy="503.1" r="6.95"/>
</g>
<g fill="#cee5f0">
<circle cx="419.7" cy="544.5" r="6.95"/>
</g>
<g fill="#cfe5f0">
<circle cx="626.8" cy="863.9" r="6.95"/>
<circle cx="619.2" cy="831.9" r="6.95"/>
<circle cx="665.6" cy="806.3" r="6.95"/>
<circle cx="1013.3" cy="796.0" r="6.95"/>
<circle cx="959.5" cy="662.6" r="6.95"/>
<circle cx="296.5" cy="446.6" r="6.95"/>
<circle cx="945.4" cy="647.2" r="6.95"/>
<circle cx="564.9" cy="917.3" r="6.95"/>
<circle cx="307.2" cy="474.3" r="6.95"/>
<circle cx="888.8" cy="894.0" r="6.95"/>
<circle cx="396.8" cy="718.3" r="6.95"/>
<circle cx="663.7" cy="936.1" r="6.95"/>
<circle cx="553.3" cy="315.8" r="6.95"/>
<circle cx="635.3" cy="830.1" r="6.95"/>
<circle cx="388.5" cy="527.2" r="6.95"/>
<circle cx="374.3" cy="428.9" r="6.95"/>
<circle cx="942.6" cy="839.0" r="6.95"/>
<circle cx="367.4" cy="371.9" r="6.95"/>
<circle cx="961.1" cy="779.7" r="6.95"/>
<circle cx="383.6" cy="318.7" r="6.95"/>
<circle cx="776.5" cy="848.3" r="6.95"/>
<circle cx="722.0" cy="235.6" r="6.95"/>
<circle cx="999.6" cy="444.2" r="6.95"/>
<circle cx="405.8" cy="749.3" r="6.95"/>
<circle cx="888.9" cy="648.3" r="6.95"/>
</g>
<g fill="#d0e5f0">
<circle cx="496.3" cy="885.5" r="6.95"/>
<circle cx="295.1" cy="472.2" r="6.95"/>
<circle cx="953.9" cy="783.8" r="6.95"/>
<circle cx="898.2" cy="378.0" r="6.95"/>
<circle cx="283.8" cy="321.4" r="6.95"/>
<circle cx="356.9" cy="562.0" r="6.95"/>
<circle cx="522.7" cy="918.4" r="6.95"/>
<circle cx="679.2" cy="996.0" r="6.95"/>
<circle cx="378.9" cy="842.1" r="6.95"/>
<circle cx="1062.3" cy="348.2" r="6.95"/>
<circle cx="523.5" cy="376.3" r="6.95"/>
<circle cx="929.1" cy="433.5" r="6.95"/>
<circle cx="651.2" cy="958.6" r="6.95"/>
<circle cx="515.4" cy="233.0" r="6.95"/>
<circle cx="1030.9" cy="275.4" r="6.95"/>
<circle cx="559.4" cy="542.5" r="6.95"/>
<circle cx="360.7" cy="921.4" r="6.95"/>
<circle cx="347.6" cy="442.2" r="6.95"/>
<circle cx="303.6" cy="447.8" r="6.95"/>
<circle cx="878.7" cy="572.3" r="6.95"/>
<circle cx="244.9" cy="393.2" r="6.95"/>
<circle cx="249.0" cy="391.9" r="6.95"/>
<circle cx="884.8" cy="633.6" r="6.95"/>
<circle cx="920.8" cy="809.8" r="6.95"/>
<circle cx="336.2" cy="441.3" r="6.95"/>
<circle cx="575.4" cy="1017.8" r="6.95"/>
<circle cx="896.6" cy="817.4" r="6.95"/>
</g>
<g fill="#d0e6f0">
<circle cx="843.0" cy="369.9" r="6.95"/>
</g>
<g fill="#d1e6f0">
<circle cx="421.5" cy="345.3" r="6.95"/>
<circle cx="684.1" cy="850.1" r="6.95"/>
<circle cx="409.4" cy="472.9" r="6.95"/>
<circle cx="521.0" cy="824.6" r="6.95"/>
<circle cx="323.2" cy="435.2" r="6.95"/>
<circle cx="939.3" cy="500.0" r="6.95"/>
<circle cx="551.2" cy="1018.3" r="6.95"/>
<circle cx="980.5" cy="302.0" r="6.95"/>
</g>
<g fill="#d1e6f1">
<circle cx="328.1" cy="441.8" r="6.95"/>
<circle cx="523.4" cy="551.2" r="6.95"/>
<circle cx="922.0" cy="901.5" r="6.95"/>
<circle cx="599.0" cy="1065.4" r="6.95"/>
<circle cx="533.5" cy="824.1" r="6.95"/>
<circle cx="867.1" cy="805.3" r="6.95"/>
<circle cx="448.2" cy="226.3" r="6.95"/>
<circle cx="708.1" cy="253.3" r="6.95"/>
<circle cx="456.5" cy="522.2" r="6.95"/>
<circle cx="530.9" cy="991.9" r="6.95"/>
<circle cx="705.3" cy="788.4" r="6.95"/>
<circle cx="362.4" cy="561.5" r="6.95"/>
<circle cx="553.4" cy="767.6" r="6.95"/>
<circle cx="391.4" cy="317.1" r="6.95"/>
<circle cx="944.3" cy="376.4" r="6.95"/>
<circle cx="961.3" cy="678.5" r="6.95"/>
</g>
<g fill="#d2e6f1">
<circle cx="432.8" cy="844.2" r="6.95"/>
<circle cx="468.2" cy="706.5" r="6.95"/>
<circle cx="838.4" cy="420.4" r="6.95"/>
<circle cx="759.1" cy="972.3" r="6.95"/>
<circle cx="521.9" cy="778.5" r="6.95"/>
<circle cx="700.1" cy="855.3" r="6.95"/>
<circle cx="539.1" cy="270.0" r="6.95"/>
<circle cx="841.3" cy="421.2" r="6.95"/>
<circle cx="920.4" cy="776.0" r="6.95"/>
<circle cx="453.8" cy="323.0" r="6.95"/>
<circle cx="820.1" cy="909.8" r="6.95"/>
<circle cx="362.7" cy="442.9" r="6.95"/>
<circle cx="787.0" cy="633.8" r="6.95"/>
<circle cx="654.8" cy="852.7" r="6.95"/>
<circle cx="280.6" cy="440.1" r="6.95"/>
<circle cx="425.1" cy="320.7" r="6.95"/>
<circle cx="335.8" cy="544.6" r="6.95"/>
<circle cx="522.0" cy="340.7" r="6.95"/>
</g>
<g fill="#d2e7f1">
<circle cx="923.8" cy="444.1" r="6.95"/>
<circle cx="659.6" cy="838.0" r="6.95"/>
<circle cx="401.0" cy="484.3" r="6.95"/>
<circle cx="736.7" cy="1061.4" r="6.95"/>
<circle cx="683.4" cy="1048.5" r="6.95"/>
</g>
<g fill="#d3e7f1">
<circle cx="577.9" cy="306.0" r="6.95"/>
<circle cx="712.4" cy="886.7" r="6.95"/>
<circle cx="535.8" cy="928.8" r="6.95"/>
<circle cx="543.8" cy="854.7" r="6.95"/>
<circle cx="968.1" cy="660.6" r="6.95"/>
<circle cx="541.1" cy="1002.0" r="6.95"/>
<circle cx="972.2" cy="445.0" r="6.95"/>
<circle cx="942.2" cy="796.5" r="6.95"/>
<circle cx="687.9" cy="769.6" r="6.95"/>
<circle cx="355.3" cy="767.9" r="6.95"/>
<circle cx="331.8" cy="422.8" r="6.95"/>
</g>
<g fill="#d4e7f1">
<circle cx="638.3" cy="767.6" r="6.95"/>
<circle cx="935.4" cy="867.9" r="6.95"/>
<circle cx="784.0" cy="752.5" r="6.95"/>
<circle cx="603.8" cy="803.2" r="6.95"/>
<circle cx="816.7" cy="743.6" r="6.95"/>
<circle cx="478.2" cy="244.5" r="6.95"/>
<circle cx="707.3" cy="865.1" r="6.95"/>
<circle cx="274.7" cy="389.3" r="6.95"/>
<circle cx="690.1" cy="965.5" r="6.95"/>
<circle cx="292.0" cy="367.2" r="6.95"/>
<circle cx="540.9" cy="259.8" r="6.95"/>
<circle cx="598.5" cy="754.9" r="6.95"/>
<circle cx="949.7" cy="430.2" r="6.95"/>
<circle cx="516.1" cy="371.2" r="6.95"/>
<circle cx="855.3" cy="943.1" r="6.95"/>
<circle cx="800.1" cy="721.8" r="6.95"/>
<circle cx="580.4" cy="316.1" r="6.95"/>
<circle cx="470.8" cy="755.4" r="6.95"/>
<circle cx="686.7" cy="217.1" r="6.95"/>
</g>
<g fill="#d4e7f2">
<circle cx="487.0" cy="219.3" r="6.95"/>
<circle cx="717.1" cy="303.8" r="6.95"/>
</g>
<g fill="#d4e8f2">
<circle cx="725.4" cy="793.1" r="6.95"/>
<circle cx="373.5" cy="574.5" r="6.95"/>
<circle cx="592.5" cy="299.9" r="6.95"/>
</g>
<g fill="#d5e8f2">
<circle cx="586.7" cy="1069.4" r="6.95"/>
<circle cx="605.8" cy="1037.0" r="6.95"/>
<circle cx="396.8" cy="430.1" r="6.95"/>
<circle cx="404.1" cy="262.6" r="6.95"/>
<circle cx="841.1" cy="587.6" r="6.95"/>
<circle cx="711.7" cy="233.1" r="6.95"/>
<circle cx="940.2" cy="401.5" r="6.95"/>
<circle cx="549.9" cy="854.4" r="6.95"/>
<circle cx="659.5" cy="836.4" r="6.95"/>
<circle cx="801.2" cy="908.8" r="6.95"/>
<circle cx="568.8" cy="911.5" r="6.95"/>
<circle cx="1057.3" cy="389.3" r="6.95"/>
<circle cx="1004.9" cy="798.5" r="6.95"/>
<circle cx="556.5" cy="978.4" r="6.95"/>
<circle cx="407.8" cy="721.1" r="6.95"/>
<circle cx="440.9" cy="867.4" r="6.95"/>
<circle cx="599.3" cy="755.3" r="6.95"/>
<circle cx="519.0" cy="243.5" r="6.95"/>
</g>
<g fill="#d6e8f2">
<circle cx="440.0" cy="699.8" r="6.95"/>
<circle cx="540.3" cy="337.8" r="6.95"/>
<circle cx="818.0" cy="806.7" r="6.95"/>
<circle cx="370.2" cy="376.4" r="6.95"/>
<circle cx="349.8" cy="540.6" r="6.95"/>
<circle cx="689.5" cy="966.6" r="6.95"/>
<circle cx="663.6" cy="937.8" r="6.95"/>
<circle cx="495.6" cy="797.7" r="6.95"/>
<circle cx="764.6" cy="431.1" r="6.95"/>
<circle cx="634.2" cy="944.1" r="6.95"/>
<circle cx="374.3" cy="435.5" r="6.95"/>
<circle cx="389.8" cy="410.1" r="6.95"/>
<circle cx="474.2" cy="290.2" r="6.95"/>
<circle cx="458.0" cy="767.6" r="6.95"/>
<circle cx="321.3" cy="451.1" r="6.95"/>
<circle cx="719.5" cy="670.4" r="6.95"/>
<circle cx="941.1" cy="803.4" r="6.95"/>
<circle cx="648.3" cy="845.1" r="6.95"/>
<circle cx="366.6" cy="504.0" r="6.95"/>
</g>
<g fill="#d6e9f2">
<circle cx="427.5" cy="370.8" r="6.95"/>
<circle cx="530.8" cy="227.3" r="6.95"/>
</g>
<g fill="#d7e9f2">
<circle cx="906.8" cy="398.4" r="6.95"/>
<circle cx="318.5" cy="386.8" r="6.95"/>
<circle cx="361.8" cy="798.2" r="6.95"/>
<circle cx="674.5" cy="268.1" r="6.95"/>
<circle cx="788.3" cy="477.2" r="6.95"/>
<circle cx="736.1" cy="261.9" r="6.95"/>
<circle cx="919.8" cy="302.0" r="6.95"/>
<circle cx="569.4" cy="927.7" r="6.95"/>
<circle cx="679.3" cy="289.9" r="6.95"/>
<circle cx="605.4" cy="748.7" r="6.95"/>
<circle cx="342.3" cy="251.7" r="6.95"/>
<circle cx="386.9" cy="356.9" r="6.95"/>
<circle cx="591.9" cy="310.5" r="6.95"/>
<circle cx="1020.5" cy="332.1" r="6.95"/>
<circle cx="348.4" cy="389.3" r="6.95"/>
<circle cx="790.7" cy="972.3" r="6.95"/>
<circle cx="628.4" cy="850.0" r="6.95"/>
<circle cx="563.7" cy="1074.2" r="6.95"/>
<circle cx="797.3" cy="981.0" r="6.95"/>
<circle cx="608.4" cy="1081.8" r="6.95"/>
<circle cx="609.6" cy="724.5" r="6.95"/>
<circle cx="496.1" cy="223.7" r="6.95"/>
<circle cx="279.5" cy="401.0" r="6.95"/>
<circle cx="1059.6" cy="381.4" r="6.95"/>
<circle cx="650.7" cy="210.6" r="6.95"/>
</g>
<g fill="#d8e9f2">
<circle cx="880.0" cy="409.1" r="6.95"/>
<circle cx="766.6" cy="320.9" r="6.95"/>
<circle cx="548.9" cy="392.0" r="6.95"/>
<circle cx="795.7" cy="746.4" r="6.95"/>
<circle cx="829.5" cy="927.7" r="6.95"/>
<circle cx="550.2" cy="828.9" r="6.95"/>
<circle cx="562.8" cy="287.8" r="6.95"/>
</g>
<g fill="#d8e9f3">
<circle cx="912.9" cy="412.2" r="6.95"/>
<circle cx="491.6" cy="698.3" r="6.95"/>
<circle cx="423.0" cy="742.0" r="6.95"/>
<circle cx="298.2" cy="346.7" r="6.95"/>
<circle cx="783.6" cy="887.3" r="6.95"/>
<circle cx="501.9" cy="295.3" r="6.95"/>
<circle cx="524.3" cy="1013.3" r="6.95"/>
<circle cx="869.9" cy="396.5" r="6.95"/>
<circle cx="654.5" cy="297.1" r="6.95"/>
<circle cx="793.5" cy="831.7" r="6.95"/>
<circle cx="389.0" cy="300.6" r="6.95"/>
<circle cx="734.1" cy="452.1" r="6.95"/>
<circle cx="613.1" cy="798.3" r="6.95"/>
</g>
<g fill="#d8eaf3">
<circle cx="540.4" cy="1016.6" r="6.95"/>
<circle cx="397.9" cy="374.5" r="6.95"/>
<circle cx="377.8" cy="428.0" r="6.95"/>
<circle cx="755.3" cy="239.6" r="6.95"/>
<circle cx="551.4" cy="1031.5" r="6.95"/>
<circle cx="379.7" cy="434.2" r="6.95"/>
<circle cx="328.3" cy="393.1" r="6.95"/>
</g>
<g fill="#d9eaf3">
<circle cx="418.5" cy="366.3" r="6.95"/>
<circle cx="1015.7" cy="496.5" r="6.95"/>
<circle cx="351.5" cy="838.6" r="6.95"/>
<circle cx="504.8" cy="924.9" r="6.95"/>
<circle cx="774.1" cy="666.0" r="6.95"/>
<circle cx="324.3" cy="450.9" r="6.95"/>
<circle cx="581.7" cy="310.6" r="6.95"/>
<circle cx="973.5" cy="304.2" r="6.95"/>
<circle cx="786.7" cy="421.9" r="6.95"/>
<circle cx="579.3" cy="891.3" r="6.95"/>
<circle cx="905.6" cy="419.7" r="6.95"/>
<circle cx="414.9" cy="863.5" r="6.95"/>
<circle cx="833.1" cy="963.8" r="6.95"/>
<circle cx="803.6" cy="942.3" r="6.95"/>
<circle cx="430.2" cy="791.6" r="6.95"/>
<circle cx="683.7" cy="725.0" r="6.95"/>
<circle cx="373.5" cy="842.5" r="6.95"/>
<circle cx="605.2" cy="918.2" r="6.95"/>
<circle cx="378.2" cy="478.6" r="6.95"/>
<circle cx="994.1" cy="492.5" r="6.95"/>
<circle cx="733.6" cy="619.3" r="6.95"/>
<circle cx="273.2" cy="323.6" r="6.95"/>
<circle cx="883.6" cy="942.8" r="6.95"/>
<circle cx="489.7" cy="390.5" r="6.95"/>
<circle cx="556.0" cy="246.8" r="6.95"/>
<circle cx="701.1" cy="231.8" r="6.95"/>
<circle cx="836.8" cy="540.0" r="6.95"/>
<circle cx="430.6" cy="222.5" r="6.95"/>
<circle cx="586.4" cy="302.1" r="6.95"/>
<circle cx="358.3" cy="533.3" r="6.95"/>
<circle cx="836.5" cy="809.2" r="6.95"/>
<circle cx="615.2" cy="321.2" r="6.95"/>
</g>
<g fill="#daeaf3">
<circle cx="1051.3" cy="376.8" r="6.95"/>
<circle cx="344.5" cy="802.5" r="6.95"/>
<circle cx="1000.8" cy="779.1" r="6.95"/>
<circle cx="237.1" cy="303.0" r="6.95"/>
<circle cx="932.2" cy="886.7" r="6.95"/>
<circle cx="875.8" cy="650.4" r="6.95"/>
<circle cx="531.5" cy="328.3" r="6.95"/>
<circle cx="803.1" cy="438.1" r="6.95"/>
<circle cx="924.2" cy="818.8" r="6.95"/>
<circle cx="859.3" cy="647.5" r="6.95"/>
<circle cx="401.4" cy="444.6" r="6.95"/>
<circle cx="745.7" cy="322.4" r="6.95"/>
<circle cx="776.1" cy="849.1" r="6.95"/>
<circle cx="817.7" cy="290.3" r="6.95"/>
<circle cx="718.1" cy="867.6" r="6.95"/>
<circle cx="620.9" cy="808.1" r="6.95"/>
<circle cx="525.2" cy="307.4" r="6.95"/>
<circle cx="668.2" cy="977.7" r="6.95"/>
<circle cx="538.5" cy="239.3" r="6.95"/>
<circle cx="956.5" cy="681.7" r="6.95"/>
<circle cx="363.9" cy="428.1" r="6.95"/>
<circle cx="321.2" cy="408.0" r="6.95"/>
<circle cx="775.9" cy="315.0" r="6.95"/>
</g>
<g fill="#daebf3">
<circle cx="538.3" cy="499.9" r="6.95"/>
<circle cx="276.3" cy="301.5" r="6.95"/>
<circle cx="808.0" cy="944.1" r="6.95"/>
</g>
<g fill="#dbebf3">
<circle cx="649.1" cy="239.6" r="6.95"/>
<circle cx="706.4" cy="780.0" r="6.95"/>
<circle cx="500.3" cy="991.2" r="6.95"/>
<circle cx="916.2" cy="383.3" r="6.95"/>
<circle cx="337.7" cy="819.4" r="6.95"/>
<circle cx="681.0" cy="258.0" r="6.95"/>
<circle cx="516.0" cy="261.6" r="6.95"/>
<circle cx="840.2" cy="355.6" r="6.95"/>
<circle cx="630.4" cy="826.4" r="6.95"/>
<circle cx="427.5" cy="862.0" r="6.95"/>
<circle cx="989.3" cy="780.4" r="6.95"/>
<circle cx="625.8" cy="932.2" r="6.95"/>
<circle cx="720.9" cy="872.4" r="6.95"/>
<circle cx="1024.0" cy="284.2" r="6.95"/>
<circle cx="897.8" cy="602.1" r="6.95"/>
<circle cx="765.1" cy="528.8" r="6.95"/>
<circle cx="977.8" cy="788.9" r="6.95"/>
<circle cx="364.3" cy="950.9" r="6.95"/>
<circle cx="461.1" cy="306.4" r="6.95"/>
</g>
<g fill="#dbebf4">
<circle cx="452.4" cy="844.0" r="6.95"/>
<circle cx="841.9" cy="810.3" r="6.95"/>
<circle cx="362.9" cy="544.1" r="6.95"/>
<circle cx="736.5" cy="510.3" r="6.95"/>
<circle cx="356.6" cy="488.5" r="6.95"/>
</g>
<g fill="#dcebf4">
<circle cx="332.4" cy="827.4" r="6.95"/>
<circle cx="648.8" cy="757.6" r="6.95"/>
<circle cx="793.4" cy="422.8" r="6.95"/>
<circle cx="516.9" cy="377.4" r="6.95"/>
<circle cx="376.7" cy="520.4" r="6.95"/>
<circle cx="371.6" cy="361.1" r="6.95"/>
<circle cx="996.3" cy="318.2" r="6.95"/>
<circle cx="855.1" cy="958.1" r="6.95"/>
<circle cx="1022.7" cy="801.2" r="6.95"/>
<circle cx="845.1" cy="421.3" r="6.95"/>
<circle cx="515.7" cy="1017.0" r="6.95"/>
<circle cx="272.6" cy="390.5" r="6.95"/>
<circle cx="605.0" cy="554.2" r="6.95"/>
<circle cx="631.9" cy="982.6" r="6.95"/>
<circle cx="807.6" cy="273.9" r="6.95"/>
</g>
<g fill="#dcecf4">
<circle cx="351.3" cy="402.9" r="6.95"/>
<circle cx="918.3" cy="521.2" r="6.95"/>
<circle cx="684.9" cy="1064.1" r="6.95"/>
<circle cx="751.5" cy="867.6" r="6.95"/>
<circle cx="1006.4" cy="317.4" r="6.95"/>
<circle cx="223.8" cy="396.5" r="6.95"/>
<circle cx="544.9" cy="961.4" r="6.95"/>
<circle cx="429.0" cy="340.6" r="6.95"/>
</g>
<g fill="#ddecf4">
<circle cx="783.3" cy="273.5" r="6.95"/>
<circle cx="621.7" cy="878.7" r="6.95"/>
<circle cx="246.0" cy="392.5" r="6.95"/>
<circle cx="219.6" cy="371.2" r="6.95"/>
<circle cx="667.2" cy="1009.8" r="6.95"/>
<circle cx="465.3" cy="243.5" r="6.95"/>
<circle cx="415.3" cy="243.6" r="6.95"/>
<circle cx="352.7" cy="445.2" r="6.95"/>
<circle cx="515.2" cy="902.7" r="6.95"/>
<circle cx="424.0" cy="280.5" r="6.95"/>
<circle cx="571.7" cy="442.7" r="6.95"/>
<circle cx="1015.2" cy="286.6" r="6.95"/>
<circle cx="946.4" cy="433.5" r="6.95"/>
<circle cx="816.7" cy="731.1" r="6.95"/>
<circle cx="977.2" cy="479.9" r="6.95"/>
<circle cx="527.1" cy="344.7" r="6.95"/>
<circle cx="394.5" cy="303.9" r="6.95"/>
<circle cx="939.1" cy="664.3" r="6.95"/>
<circle cx="772.0" cy="259.1" r="6.95"/>
<circle cx="758.2" cy="691.1" r="6.95"/>
<circle cx="1052.7" cy="488.6" r="6.95"/>
<circle cx="345.2" cy="390.9" r="6.95"/>
<circle cx="1023.5" cy="817.1" r="6.95"/>
<circle cx="959.3" cy="476.8" r="6.95"/>
</g>
<g fill="#deecf4">
<circle cx="568.2" cy="857.5" r="6.95"/>
<circle cx="801.3" cy="634.1" r="6.95"/>
<circle cx="380.9" cy="741.1" r="6.95"/>
<circle cx="881.5" cy="906.5" r="6.95"/>
<circle cx="1010.0" cy="480.1" r="6.95"/>
<circle cx="752.0" cy="875.3" r="6.95"/>
<circle cx="417.2" cy="380.8" r="6.95"/>
<circle cx="590.7" cy="834.4" r="6.95"/>
<circle cx="228.2" cy="318.6" r="6.95"/>
<circle cx="640.9" cy="940.6" r="6.95"/>
<circle cx="930.3" cy="800.7" r="6.95"/>
<circle cx="487.0" cy="759.5" r="6.95"/>
<circle cx="338.0" cy="441.7" r="6.95"/>
<circle cx="199.6" cy="392.5" r="6.95"/>
<circle cx="1112.1" cy="499.4" r="6.95"/>
<circle cx="705.0" cy="872.0" r="6.95"/>
<circle cx="1118.5" cy="503.4" r="6.95"/>
<circle cx="741.7" cy="317.1" r="6.95"/>
<circle cx="373.8" cy="395.6" r="6.95"/>
<circle cx="543.8" cy="911.0" r="6.95"/>
</g>
<g fill="#deedf4">
<circle cx="709.8" cy="871.2" r="6.95"/>
<circle cx="762.8" cy="872.6" r="6.95"/>
<circle cx="498.3" cy="962.8" r="6.95"/>
<circle cx="699.3" cy="865.7" r="6.95"/>
<circle cx="624.3" cy="833.6" r="6.95"/>
</g>
<g fill="#dfedf4">
<circle cx="361.9" cy="742.9" r="6.95"/>
<circle cx="512.9" cy="868.6" r="6.95"/>
<circle cx="284.7" cy="438.5" r="6.95"/>
<circle cx="500.7" cy="322.3" r="6.95"/>
<circle cx="775.4" cy="938.8" r="6.95"/>
<circle cx="690.4" cy="683.6" r="6.95"/>
<circle cx="723.1" cy="863.8" r="6.95"/>
<circle cx="359.4" cy="844.2" r="6.95"/>
<circle cx="585.0" cy="351.0" r="6.95"/>
<circle cx="580.0" cy="334.0" r="6.95"/>
<circle cx="681.0" cy="349.0" r="6.95"/>
<circle cx="685.0" cy="334.0" r="6.95"/>
<circle cx="712.5" cy="352.5" r="6.95"/>
<circle cx="745.0" cy="350.0" r="6.95"/>
<circle cx="733.0" cy="334.0" r="6.95"/>
<circle cx="696.0" cy="355.0" r="6.95"/>
<circle cx="666.0" cy="377.5" r="6.95"/>
<circle cx="666.0" cy="383.8" r="6.95"/>
<circle cx="693.0" cy="393.0" r="6.95"/>
<circle cx="690.0" cy="376.0" r="6.95"/>
<circle cx="692.8" cy="581.4" r="6.95"/>
<circle cx="819.2" cy="588.2" r="6.95"/>
<circle cx="577.5" cy="657.5" r="6.95"/>
</g>
<g fill="#dfedf5">
<circle cx="751.1" cy="798.6" r="6.95"/>
<circle cx="605.2" cy="957.7" r="6.95"/>
<circle cx="507.9" cy="214.4" r="6.95"/>
<circle cx="866.0" cy="427.3" r="6.95"/>
<circle cx="831.6" cy="811.2" r="6.95"/>
<circle cx="810.1" cy="290.9" r="6.95"/>
<circle cx="338.9" cy="386.9" r="6.95"/>
<circle cx="565.1" cy="443.3" r="6.95"/>
<circle cx="423.7" cy="237.0" r="6.95"/>
<circle cx="303.3" cy="383.3" r="6.95"/>
<circle cx="1060.6" cy="349.1" r="6.95"/>
<circle cx="567.9" cy="272.7" r="6.95"/>
<circle cx="935.8" cy="431.6" r="6.95"/>
<circle cx="335.1" cy="422.3" r="6.95"/>
<circle cx="419.3" cy="937.5" r="6.95"/>
<circle cx="768.8" cy="489.5" r="6.95"/>
<circle cx="418.7" cy="380.0" r="6.95"/>
<circle cx="370.9" cy="243.8" r="6.95"/>
<circle cx="885.8" cy="429.8" r="6.95"/>
<circle cx="363.9" cy="951.0" r="6.95"/>
<circle cx="388.2" cy="936.3" r="6.95"/>
<circle cx="713.3" cy="886.7" r="6.95"/>
<circle cx="310.3" cy="433.3" r="6.95"/>
<circle cx="647.9" cy="239.3" r="6.95"/>
<circle cx="405.6" cy="711.8" r="6.95"/>
<circle cx="442.7" cy="392.7" r="6.95"/>
<circle cx="411.3" cy="353.4" r="6.95"/>
<circle cx="488.7" cy="980.9" r="6.95"/>
<circle cx="735.6" cy="922.3" r="6.95"/>
<circle cx="358.4" cy="504.1" r="6.95"/>
<circle cx="942.9" cy="339.3" r="6.95"/>
<circle cx="714.1" cy="1030.6" r="6.95"/>
<circle cx="955.0" cy="665.2" r="6.95"/>
<circle cx="622.7" cy="316.0" r="6.95"/>
</g>
<g fill="#e0edf5">
<circle cx="351.2" cy="509.8" r="6.95"/>
<circle cx="585.8" cy="1021.0" r="6.95"/>
<circle cx="660.9" cy="970.5" r="6.95"/>
<circle cx="766.7" cy="283.1" r="6.95"/>
<circle cx="1065.2" cy="473.1" r="6.95"/>
<circle cx="272.6" cy="420.4" r="6.95"/>
<circle cx="584.3" cy="444.2" r="6.95"/>
<circle cx="887.0" cy="364.3" r="6.95"/>
<circle cx="632.0" cy="286.6" r="6.95"/>
<circle cx="671.0" cy="317.5" r="6.95"/>
<circle cx="296.6" cy="317.8" r="6.95"/>
<circle cx="916.3" cy="308.8" r="6.95"/>
<circle cx="1001.4" cy="799.6" r="6.95"/>
<circle cx="924.0" cy="878.8" r="6.95"/>
<circle cx="578.5" cy="660.5" r="6.95"/>
<circle cx="822.6" cy="808.5" r="6.95"/>
<circle cx="373.9" cy="702.9" r="6.95"/>
<circle cx="614.7" cy="473.8" r="6.95"/>
<circle cx="478.1" cy="237.0" r="6.95"/>
<circle cx="632.3" cy="889.6" r="6.95"/>
<circle cx="857.9" cy="378.8" r="6.95"/>
<circle cx="997.6" cy="813.6" r="6.95"/>
<circle cx="847.8" cy="641.0" r="6.95"/>
<circle cx="714.1" cy="1015.0" r="6.95"/>
<circle cx="1060.3" cy="481.2" r="6.95"/>
<circle cx="216.6" cy="415.8" r="6.95"/>
<circle cx="789.0" cy="965.6" r="6.95"/>
</g>
<g fill="#e0eef5">
<circle cx="384.8" cy="404.7" r="6.95"/>
<circle cx="872.7" cy="642.2" r="6.95"/>
<circle cx="289.1" cy="424.4" r="6.95"/>
<circle cx="728.8" cy="275.5" r="6.95"/>
<circle cx="693.0" cy="268.6" r="6.95"/>
<circle cx="487.8" cy="402.9" r="6.95"/>
</g>
<g fill="#e1eef5">
<circle cx="830.4" cy="348.5" r="6.95"/>
<circle cx="548.8" cy="982.9" r="6.95"/>
<circle cx="797.3" cy="848.8" r="6.95"/>
<circle cx="438.2" cy="740.3" r="6.95"/>
<circle cx="578.7" cy="763.9" r="6.95"/>
<circle cx="723.0" cy="888.7" r="6.95"/>
<circle cx="945.4" cy="898.0" r="6.95"/>
<circle cx="893.0" cy="316.4" r="6.95"/>
<circle cx="438.5" cy="368.9" r="6.95"/>
<circle cx="659.1" cy="815.9" r="6.95"/>
<circle cx="457.0" cy="229.9" r="6.95"/>
<circle cx="407.2" cy="488.3" r="6.95"/>
<circle cx="807.9" cy="763.4" r="6.95"/>
<circle cx="935.5" cy="298.0" r="6.95"/>
<circle cx="597.5" cy="786.4" r="6.95"/>
<circle cx="771.5" cy="270.1" r="6.95"/>
<circle cx="457.9" cy="288.8" r="6.95"/>
<circle cx="583.2" cy="478.1" r="6.95"/>
<circle cx="456.0" cy="370.1" r="6.95"/>
<circle cx="911.2" cy="821.4" r="6.95"/>
<circle cx="845.9" cy="510.0" r="6.95"/>
<circle cx="769.1" cy="279.2" r="6.95"/>
<circle cx="924.9" cy="794.5" r="6.95"/>
<circle cx="499.8" cy="497.8" r="6.95"/>
<circle cx="835.2" cy="415.6" r="6.95"/>
<circle cx="818.9" cy="844.1" r="6.95"/>
<circle cx="911.8" cy="306.1" r="6.95"/>
<circle cx="366.8" cy="412.9" r="6.95"/>
<circle cx="915.2" cy="440.8" r="6.95"/>
<circle cx="829.8" cy="701.4" r="6.95"/>
<circle cx="1040.7" cy="446.2" r="6.95"/>
<circle cx="536.4" cy="239.9" r="6.95"/>
<circle cx="282.8" cy="413.4" r="6.95"/>
<circle cx="533.9" cy="303.2" r="6.95"/>
<circle cx="680.5" cy="241.3" r="6.95"/>
<circle cx="423.1" cy="293.2" r="6.95"/>
<circle cx="382.8" cy="264.9" r="6.95"/>
<circle cx="427.2" cy="447.1" r="6.95"/>
<circle cx="342.2" cy="755.1" r="6.95"/>
<circle cx="702.2" cy="256.7" r="6.95"/>
<circle cx="507.2" cy="839.3" r="6.95"/>
<circle cx="381.2" cy="493.8" r="6.95"/>
<circle cx="499.2" cy="200.3" r="6.95"/>
<circle cx="1018.9" cy="451.6" r="6.95"/>
</g>
<g fill="#e2eef5">
<circle cx="512.3" cy="853.4" r="6.95"/>
<circle cx="936.6" cy="796.4" r="6.95"/>
<circle cx="737.2" cy="842.3" r="6.95"/>
<circle cx="1037.6" cy="291.3" r="6.95"/>
<circle cx="774.6" cy="512.7" r="6.95"/>
<circle cx="668.8" cy="730.6" r="6.95"/>
<circle cx="554.2" cy="817.6" r="6.95"/>
<circle cx="750.3" cy="252.6" r="6.95"/>
<circle cx="581.0" cy="824.3" r="6.95"/>
<circle cx="739.4" cy="264.7" r="6.95"/>
<circle cx="396.3" cy="441.4" r="6.95"/>
<circle cx="529.9" cy="778.0" r="6.95"/>
<circle cx="732.4" cy="884.9" r="6.95"/>
<circle cx="630.6" cy="1011.2" r="6.95"/>
<circle cx="407.3" cy="219.3" r="6.95"/>
<circle cx="475.7" cy="218.9" r="6.95"/>
<circle cx="824.5" cy="329.0" r="6.95"/>
<circle cx="441.0" cy="414.0" r="6.95"/>
<circle cx="706.3" cy="1073.2" r="6.95"/>
<circle cx="817.8" cy="784.4" r="6.95"/>
<circle cx="198.1" cy="386.5" r="6.95"/>
<circle cx="562.9" cy="917.7" r="6.95"/>
<circle cx="784.8" cy="313.7" r="6.95"/>
<circle cx="663.7" cy="1017.0" r="6.95"/>
<circle cx="703.4" cy="790.4" r="6.95"/>
<circle cx="443.3" cy="238.5" r="6.95"/>
<circle cx="810.0" cy="901.5" r="6.95"/>
<circle cx="802.1" cy="903.0" r="6.95"/>
<circle cx="296.4" cy="392.0" r="6.95"/>
<circle cx="753.1" cy="807.4" r="6.95"/>
<circle cx="686.5" cy="1010.6" r="6.95"/>
<circle cx="587.8" cy="1018.6" r="6.95"/>
<circle cx="790.3" cy="795.3" r="6.95"/>
<circle cx="1053.5" cy="480.8" r="6.95"/>
<circle cx="936.9" cy="861.2" r="6.95"/>
<circle cx="597.0" cy="1049.8" r="6.95"/>
</g>
<g fill="#e2eff5">
<circle cx="328.3" cy="425.7" r="6.95"/>
<circle cx="922.1" cy="921.3" r="6.95"/>
</g>
<g fill="#e3eff5">
<circle cx="816.8" cy="271.1" r="6.95"/>
<circle cx="452.1" cy="313.4" r="6.95"/>
<circle cx="611.5" cy="990.5" r="6.95"/>
<circle cx="1025.9" cy="446.2" r="6.95"/>
<circle cx="481.6" cy="308.1" r="6.95"/>
<circle cx="284.3" cy="493.3" r="6.95"/>
<circle cx="358.8" cy="392.7" r="6.95"/>
<circle cx="758.8" cy="312.3" r="6.95"/>
<circle cx="584.5" cy="874.2" r="6.95"/>
<circle cx="894.6" cy="302.5" r="6.95"/>
<circle cx="396.2" cy="744.3" r="6.95"/>
<circle cx="519.1" cy="247.6" r="6.95"/>
<circle cx="736.8" cy="871.3" r="6.95"/>
<circle cx="865.4" cy="893.2" r="6.95"/>
<circle cx="802.3" cy="963.1" r="6.95"/>
<circle cx="756.3" cy="563.6" r="6.95"/>
<circle cx="533.4" cy="524.3" r="6.95"/>
<circle cx="311.6" cy="441.9" r="6.95"/>
<circle cx="322.7" cy="317.2" r="6.95"/>
<circle cx="909.7" cy="935.8" r="6.95"/>
<circle cx="518.1" cy="318.4" r="6.95"/>
<circle cx="838.0" cy="697.6" r="6.95"/>
<circle cx="414.3" cy="721.5" r="6.95"/>
<circle cx="552.4" cy="912.9" r="6.95"/>
<circle cx="1049.7" cy="463.0" r="6.95"/>
<circle cx="396.9" cy="299.7" r="6.95"/>
<circle cx="337.9" cy="762.7" r="6.95"/>
<circle cx="593.5" cy="868.9" r="6.95"/>
<circle cx="566.7" cy="1045.7" r="6.95"/>
<circle cx="272.8" cy="353.9" r="6.95"/>
<circle cx="877.3" cy="470.6" r="6.95"/>
<circle cx="729.8" cy="309.6" r="6.95"/>
<circle cx="686.0" cy="857.6" r="6.95"/>
<circle cx="651.4" cy="300.0" r="6.95"/>
<circle cx="757.1" cy="321.3" r="6.95"/>
<circle cx="861.3" cy="944.2" r="6.95"/>
<circle cx="806.5" cy="628.5" r="6.95"/>
<circle cx="807.0" cy="314.0" r="6.95"/>
<circle cx="231.2" cy="394.4" r="6.95"/>
<circle cx="613.5" cy="1002.7" r="6.95"/>
<circle cx="388.8" cy="528.9" r="6.95"/>
<circle cx="557.9" cy="242.2" r="6.95"/>
<circle cx="572.4" cy="1035.9" r="6.95"/>
<circle cx="560.3" cy="322.1" r="6.95"/>
<circle cx="713.1" cy="216.2" r="6.95"/>
<circle cx="500.1" cy="206.8" r="6.95"/>
<circle cx="803.2" cy="691.7" r="6.95"/>
<circle cx="328.5" cy="529.0" r="6.95"/>
</g>
<g fill="#e4eff5">
<circle cx="569.2" cy="801.6" r="6.95"/>
<circle cx="694.4" cy="312.9" r="6.95"/>
<circle cx="543.9" cy="956.8" r="6.95"/>
<circle cx="588.0" cy="401.6" r="6.95"/>
<circle cx="541.6" cy="890.4" r="6.95"/>
<circle cx="524.5" cy="896.3" r="6.95"/>
<circle cx="655.8" cy="957.8" r="6.95"/>
<circle cx="551.5" cy="261.5" r="6.95"/>
<circle cx="682.1" cy="297.8" r="6.95"/>
<circle cx="569.5" cy="494.7" r="6.95"/>
<circle cx="688.5" cy="839.1" r="6.95"/>
<circle cx="581.4" cy="830.4" r="6.95"/>
<circle cx="517.4" cy="1042.7" r="6.95"/>
<circle cx="868.1" cy="423.6" r="6.95"/>
<circle cx="929.1" cy="329.3" r="6.95"/>
<circle cx="348.2" cy="481.8" r="6.95"/>
<circle cx="308.5" cy="464.3" r="6.95"/>
<circle cx="990.3" cy="458.6" r="6.95"/>
<circle cx="644.5" cy="266.4" r="6.95"/>
<circle cx="841.1" cy="828.4" r="6.95"/>
<circle cx="558.5" cy="734.1" r="6.95"/>
<circle cx="489.8" cy="308.0" r="6.95"/>
<circle cx="902.0" cy="907.6" r="6.95"/>
<circle cx="679.6" cy="729.1" r="6.95"/>
<circle cx="738.0" cy="877.1" r="6.95"/>
<circle cx="838.8" cy="342.7" r="6.95"/>
<circle cx="843.7" cy="365.1" r="6.95"/>
<circle cx="975.9" cy="867.6" r="6.95"/>
<circle cx="669.6" cy="1010.1" r="6.95"/>
<circle cx="634.6" cy="1031.3" r="6.95"/>
<circle cx="340.6" cy="289.7" r="6.95"/>
<circle cx="552.4" cy="990.2" r="6.95"/>
<circle cx="554.6" cy="1022.1" r="6.95"/>
<circle cx="1054.9" cy="312.6" r="6.95"/>
<circle cx="1005.9" cy="429.8" r="6.95"/>
<circle cx="490.4" cy="968.5" r="6.95"/>
<circle cx="403.2" cy="244.2" r="6.95"/>
<circle cx="416.6" cy="759.0" r="6.95"/>
<circle cx="350.6" cy="418.5" r="6.95"/>
<circle cx="579.5" cy="663.0" r="6.95"/>
<circle cx="449.5" cy="252.7" r="6.95"/>
<circle cx="913.3" cy="429.6" r="6.95"/>
</g>
<g fill="#e4eff6">
<circle cx="835.2" cy="769.8" r="6.95"/>
<circle cx="408.3" cy="733.9" r="6.95"/>
<circle cx="630.2" cy="1049.6" r="6.95"/>
<circle cx="1024.6" cy="305.4" r="6.95"/>
<circle cx="1010.6" cy="272.6" r="6.95"/>
<circle cx="883.7" cy="383.2" r="6.95"/>
<circle cx="707.8" cy="884.4" r="6.95"/>
<circle cx="457.5" cy="723.0" r="6.95"/>
<circle cx="367.2" cy="470.9" r="6.95"/>
<circle cx="376.7" cy="341.0" r="6.95"/>
</g>
<g fill="#e5f0f6">
<circle cx="658.6" cy="965.6" r="6.95"/>
<circle cx="443.4" cy="758.2" r="6.95"/>
<circle cx="911.6" cy="300.8" r="6.95"/>
<circle cx="311.6" cy="473.3" r="6.95"/>
<circle cx="683.6" cy="994.6" r="6.95"/>
<circle cx="731.6" cy="318.7" r="6.95"/>
<circle cx="411.7" cy="379.4" r="6.95"/>
<circle cx="892.8" cy="521.7" r="6.95"/>
<circle cx="996.7" cy="424.1" r="6.95"/>
<circle cx="883.8" cy="397.1" r="6.95"/>
<circle cx="637.2" cy="259.2" r="6.95"/>
<circle cx="363.1" cy="916.0" r="6.95"/>
<circle cx="902.5" cy="337.8" r="6.95"/>
<circle cx="569.8" cy="278.4" r="6.95"/>
<circle cx="935.2" cy="867.4" r="6.95"/>
<circle cx="720.6" cy="668.9" r="6.95"/>
<circle cx="738.8" cy="884.9" r="6.95"/>
<circle cx="815.9" cy="794.9" r="6.95"/>
<circle cx="305.9" cy="363.8" r="6.95"/>
<circle cx="350.5" cy="385.2" r="6.95"/>
<circle cx="346.6" cy="295.8" r="6.95"/>
<circle cx="564.3" cy="816.5" r="6.95"/>
<circle cx="1025.1" cy="301.0" r="6.95"/>
<circle cx="808.8" cy="752.1" r="6.95"/>
<circle cx="517.2" cy="941.9" r="6.95"/>
<circle cx="607.1" cy="1026.9" r="6.95"/>
<circle cx="771.9" cy="650.4" r="6.95"/>
<circle cx="881.8" cy="632.9" r="6.95"/>
<circle cx="469.8" cy="355.9" r="6.95"/>
<circle cx="875.8" cy="672.8" r="6.95"/>
<circle cx="539.1" cy="339.8" r="6.95"/>
<circle cx="974.3" cy="791.1" r="6.95"/>
<circle cx="350.8" cy="388.7" r="6.95"/>
<circle cx="648.9" cy="253.8" r="6.95"/>
<circle cx="735.2" cy="281.2" r="6.95"/>
<circle cx="940.3" cy="434.2" r="6.95"/>
<circle cx="670.2" cy="293.6" r="6.95"/>
<circle cx="580.1" cy="241.4" r="6.95"/>
<circle cx="1028.3" cy="333.0" r="6.95"/>
<circle cx="1063.6" cy="296.3" r="6.95"/>
<circle cx="644.2" cy="880.5" r="6.95"/>
<circle cx="381.7" cy="727.5" r="6.95"/>
<circle cx="442.2" cy="279.1" r="6.95"/>
<circle cx="575.7" cy="458.0" r="6.95"/>
<circle cx="1100.2" cy="461.6" r="6.95"/>
<circle cx="274.0" cy="412.0" r="6.95"/>
<circle cx="258.4" cy="312.2" r="6.95"/>
<circle cx="839.3" cy="779.6" r="6.95"/>
<circle cx="579.0" cy="1057.7" r="6.95"/>
<circle cx="554.9" cy="979.0" r="6.95"/>
<circle cx="651.2" cy="926.6" r="6.95"/>
<circle cx="979.7" cy="412.0" r="6.95"/>
<circle cx="974.7" cy="867.7" r="6.95"/>
<circle cx="1009.4" cy="315.5" r="6.95"/>
<circle cx="1020.2" cy="821.8" r="6.95"/>
<circle cx="905.1" cy="857.3" r="6.95"/>
<circle cx="723.2" cy="826.0" r="6.95"/>
<circle cx="624.0" cy="298.7" r="6.95"/>
<circle cx="943.6" cy="838.8" r="6.95"/>
</g>
<g fill="#e6f0f6">
<circle cx="388.8" cy="335.5" r="6.95"/>
<circle cx="559.9" cy="311.9" r="6.95"/>
<circle cx="649.2" cy="956.2" r="6.95"/>
<circle cx="884.6" cy="548.3" r="6.95"/>
<circle cx="597.5" cy="865.3" r="6.95"/>
<circle cx="589.4" cy="951.7" r="6.95"/>
<circle cx="385.2" cy="353.6" r="6.95"/>
<circle cx="669.8" cy="212.6" r="6.95"/>
<circle cx="543.3" cy="1050.9" r="6.95"/>
<circle cx="1003.1" cy="279.8" r="6.95"/>
<circle cx="381.7" cy="451.5" r="6.95"/>
<circle cx="691.3" cy="820.5" r="6.95"/>
<circle cx="912.6" cy="800.3" r="6.95"/>
<circle cx="556.7" cy="250.0" r="6.95"/>
<circle cx="542.4" cy="340.0" r="6.95"/>
<circle cx="776.9" cy="236.7" r="6.95"/>
<circle cx="600.5" cy="990.3" r="6.95"/>
<circle cx="927.7" cy="337.8" r="6.95"/>
<circle cx="362.3" cy="516.2" r="6.95"/>
<circle cx="786.8" cy="841.5" r="6.95"/>
<circle cx="506.8" cy="962.1" r="6.95"/>
<circle cx="312.6" cy="366.6" r="6.95"/>
<circle cx="746.6" cy="831.5" r="6.95"/>
<circle cx="956.8" cy="829.0" r="6.95"/>
<circle cx="505.2" cy="880.3" r="6.95"/>
<circle cx="834.3" cy="904.8" r="6.95"/>
<circle cx="550.6" cy="316.3" r="6.95"/>
<circle cx="471.3" cy="695.8" r="6.95"/>
<circle cx="843.6" cy="905.1" r="6.95"/>
<circle cx="785.5" cy="648.0" r="6.95"/>
<circle cx="355.6" cy="488.5" r="6.95"/>
<circle cx="852.0" cy="866.8" r="6.95"/>
<circle cx="911.4" cy="308.8" r="6.95"/>
<circle cx="635.8" cy="1020.8" r="6.95"/>
<circle cx="1043.3" cy="271.8" r="6.95"/>
<circle cx="910.0" cy="507.5" r="6.95"/>
<circle cx="288.5" cy="444.2" r="6.95"/>
<circle cx="741.8" cy="623.8" r="6.95"/>
<circle cx="752.5" cy="269.1" r="6.95"/>
<circle cx="224.9" cy="423.7" r="6.95"/>
<circle cx="316.2" cy="420.0" r="6.95"/>
<circle cx="882.4" cy="842.4" r="6.95"/>
<circle cx="704.4" cy="777.8" r="6.95"/>
<circle cx="420.6" cy="725.1" r="6.95"/>
<circle cx="427.7" cy="271.9" r="6.95"/>
<circle cx="921.6" cy="814.4" r="6.95"/>
<circle cx="903.7" cy="443.7" r="6.95"/>
<circle cx="721.5" cy="987.6" r="6.95"/>
<circle cx="862.5" cy="377.7" r="6.95"/>
<circle cx="358.0" cy="951.9" r="6.95"/>
<circle cx="322.2" cy="504.7" r="6.95"/>
<circle cx="602.2" cy="974.4" r="6.95"/>
<circle cx="503.4" cy="317.4" r="6.95"/>
<circle cx="395.5" cy="510.8" r="6.95"/>
<circle cx="945.7" cy="391.8" r="6.95"/>
<circle cx="384.1" cy="308.2" r="6.95"/>
<circle cx="217.3" cy="420.3" r="6.95"/>
<circle cx="822.7" cy="706.1" r="6.95"/>
</g>
<g fill="#e7f0f6">
<circle cx="757.8" cy="1021.5" r="6.95"/>
<circle cx="447.8" cy="804.0" r="6.95"/>
<circle cx="1044.4" cy="291.6" r="6.95"/>
<circle cx="766.7" cy="823.0" r="6.95"/>
</g>
<g fill="#e7f1f6">
<circle cx="551.9" cy="949.0" r="6.95"/>
<circle cx="898.5" cy="280.4" r="6.95"/>
<circle cx="754.1" cy="746.3" r="6.95"/>
<circle cx="686.8" cy="1044.4" r="6.95"/>
<circle cx="932.3" cy="892.3" r="6.95"/>
<circle cx="561.1" cy="738.6" r="6.95"/>
<circle cx="738.3" cy="1048.8" r="6.95"/>
<circle cx="388.6" cy="699.5" r="6.95"/>
<circle cx="377.4" cy="297.1" r="6.95"/>
<circle cx="524.1" cy="377.2" r="6.95"/>
<circle cx="976.2" cy="312.3" r="6.95"/>
<circle cx="589.2" cy="283.1" r="6.95"/>
<circle cx="775.2" cy="497.6" r="6.95"/>
<circle cx="890.1" cy="852.1" r="6.95"/>
<circle cx="630.1" cy="305.4" r="6.95"/>
<circle cx="448.9" cy="231.5" r="6.95"/>
<circle cx="387.1" cy="583.5" r="6.95"/>
<circle cx="399.0" cy="309.5" r="6.95"/>
<circle cx="390.4" cy="373.2" r="6.95"/>
<circle cx="473.8" cy="754.6" r="6.95"/>
<circle cx="889.6" cy="617.4" r="6.95"/>
<circle cx="1052.2" cy="359.9" r="6.95"/>
<circle cx="329.3" cy="518.4" r="6.95"/>
<circle cx="291.4" cy="496.6" r="6.95"/>
<circle cx="647.6" cy="1051.8" r="6.95"/>
<circle cx="727.4" cy="321.5" r="6.95"/>
<circle cx="482.7" cy="363.7" r="6.95"/>
<circle cx="927.1" cy="894.0" r="6.95"/>
<circle cx="557.4" cy="287.8" r="6.95"/>
<circle cx="354.1" cy="496.6" r="6.95"/>
<circle cx="478.5" cy="968.0" r="6.95"/>
<circle cx="343.4" cy="271.5" r="6.95"/>
<circle cx="695.8" cy="1060.7" r="6.95"/>
<circle cx="296.5" cy="331.6" r="6.95"/>
<circle cx="850.5" cy="361.8" r="6.95"/>
<circle cx="899.0" cy="403.4" r="6.95"/>
<circle cx="829.2" cy="850.8" r="6.95"/>
<circle cx="547.6" cy="310.3" r="6.95"/>
<circle cx="695.6" cy="246.7" r="6.95"/>
<circle cx="337.3" cy="375.9" r="6.95"/>
<circle cx="632.4" cy="985.0" r="6.95"/>
<circle cx="583.7" cy="195.6" r="6.95"/>
<circle cx="735.6" cy="749.8" r="6.95"/>
<circle cx="972.2" cy="643.9" r="6.95"/>
<circle cx="243.1" cy="318.2" r="6.95"/>
<circle cx="224.0" cy="323.0" r="6.95"/>
<circle cx="521.0" cy="308.7" r="6.95"/>
<circle cx="921.6" cy="775.0" r="6.95"/>
<circle cx="491.0" cy="306.4" r="6.95"/>
<circle cx="907.9" cy="857.6" r="6.95"/>
<circle cx="628.5" cy="946.3" r="6.95"/>
<circle cx="771.4" cy="741.2" r="6.95"/>
</g>
<g fill="#e8f1f6">
<circle cx="913.5" cy="391.2" r="6.95"/>
<circle cx="587.9" cy="835.8" r="6.95"/>
<circle cx="286.1" cy="377.1" r="6.95"/>
<circle cx="636.2" cy="220.7" r="6.95"/>
<circle cx="516.4" cy="198.5" r="6.95"/>
<circle cx="1051.3" cy="358.0" r="6.95"/>
<circle cx="674.2" cy="847.0" r="6.95"/>
<circle cx="954.3" cy="317.5" r="6.95"/>
<circle cx="824.3" cy="771.2" r="6.95"/>
<circle cx="808.5" cy="792.2" r="6.95"/>
<circle cx="330.4" cy="466.7" r="6.95"/>
<circle cx="340.3" cy="814.6" r="6.95"/>
<circle cx="419.5" cy="230.0" r="6.95"/>
<circle cx="742.0" cy="761.0" r="6.95"/>
<circle cx="564.3" cy="237.5" r="6.95"/>
<circle cx="574.2" cy="1023.3" r="6.95"/>
<circle cx="615.1" cy="235.2" r="6.95"/>
<circle cx="272.8" cy="370.7" r="6.95"/>
<circle cx="712.1" cy="719.2" r="6.95"/>
<circle cx="1055.5" cy="342.4" r="6.95"/>
<circle cx="931.0" cy="871.1" r="6.95"/>
<circle cx="511.9" cy="988.4" r="6.95"/>
<circle cx="1000.7" cy="416.2" r="6.95"/>
<circle cx="619.3" cy="808.0" r="6.95"/>
<circle cx="644.4" cy="819.7" r="6.95"/>
<circle cx="1037.9" cy="280.1" r="6.95"/>
<circle cx="747.5" cy="829.6" r="6.95"/>
<circle cx="848.9" cy="955.8" r="6.95"/>
<circle cx="638.0" cy="303.6" r="6.95"/>
<circle cx="959.3" cy="307.0" r="6.95"/>
<circle cx="276.8" cy="374.2" r="6.95"/>
<circle cx="899.4" cy="492.2" r="6.95"/>
<circle cx="489.2" cy="716.3" r="6.95"/>
<circle cx="736.4" cy="894.7" r="6.95"/>
<circle cx="753.4" cy="296.1" r="6.95"/>
<circle cx="774.5" cy="900.1" r="6.95"/>
<circle cx="950.9" cy="796.3" r="6.95"/>
<circle cx="1018.1" cy="461.6" r="6.95"/>
<circle cx="585.5" cy="762.6" r="6.95"/>
<circle cx="383.5" cy="450.8" r="6.95"/>
<circle cx="500.3" cy="844.0" r="6.95"/>
<circle cx="976.5" cy="839.3" r="6.95"/>
<circle cx="840.3" cy="854.0" r="6.95"/>
<circle cx="592.8" cy="227.6" r="6.95"/>
<circle cx="834.1" cy="872.5" r="6.95"/>
<circle cx="873.8" cy="846.1" r="6.95"/>
<circle cx="615.8" cy="913.6" r="6.95"/>
<circle cx="778.5" cy="454.0" r="6.95"/>
</g>
<g fill="#e9f1f6">
<circle cx="368.9" cy="316.0" r="6.95"/>
<circle cx="905.1" cy="383.4" r="6.95"/>
<circle cx="565.9" cy="306.2" r="6.95"/>
<circle cx="783.4" cy="976.1" r="6.95"/>
<circle cx="636.4" cy="944.4" r="6.95"/>
<circle cx="608.0" cy="1041.6" r="6.95"/>
<circle cx="354.8" cy="818.6" r="6.95"/>
<circle cx="476.7" cy="923.0" r="6.95"/>
<circle cx="319.0" cy="520.9" r="6.95"/>
</g>
<g fill="#e9f2f6">
<circle cx="778.9" cy="300.4" r="6.95"/>
<circle cx="532.4" cy="316.5" r="6.95"/>
<circle cx="873.0" cy="838.0" r="6.95"/>
<circle cx="884.8" cy="390.7" r="6.95"/>
<circle cx="448.0" cy="730.3" r="6.95"/>
<circle cx="1025.5" cy="342.4" r="6.95"/>
<circle cx="386.4" cy="411.1" r="6.95"/>
<circle cx="691.6" cy="866.4" r="6.95"/>
<circle cx="863.5" cy="886.7" r="6.95"/>
<circle cx="365.2" cy="407.4" r="6.95"/>
<circle cx="377.2" cy="363.0" r="6.95"/>
<circle cx="539.1" cy="957.6" r="6.95"/>
<circle cx="767.5" cy="766.4" r="6.95"/>
<circle cx="862.5" cy="563.2" r="6.95"/>
<circle cx="461.7" cy="346.1" r="6.95"/>
<circle cx="1009.2" cy="427.1" r="6.95"/>
<circle cx="589.2" cy="851.7" r="6.95"/>
<circle cx="479.6" cy="312.3" r="6.95"/>
<circle cx="400.3" cy="337.2" r="6.95"/>
<circle cx="594.5" cy="929.1" r="6.95"/>
<circle cx="825.2" cy="733.2" r="6.95"/>
<circle cx="919.7" cy="493.1" r="6.95"/>
<circle cx="397.1" cy="464.3" r="6.95"/>
<circle cx="954.7" cy="413.9" r="6.95"/>
<circle cx="355.1" cy="752.7" r="6.95"/>
<circle cx="948.3" cy="815.4" r="6.95"/>
<circle cx="563.7" cy="183.6" r="6.95"/>
<circle cx="334.4" cy="818.6" r="6.95"/>
<circle cx="814.8" cy="341.3" r="6.95"/>
<circle cx="983.4" cy="788.6" r="6.95"/>
<circle cx="364.2" cy="535.0" r="6.95"/>
<circle cx="565.0" cy="199.1" r="6.95"/>
<circle cx="375.1" cy="517.3" r="6.95"/>
<circle cx="410.6" cy="384.9" r="6.95"/>
<circle cx="846.9" cy="801.1" r="6.95"/>
<circle cx="747.7" cy="652.7" r="6.95"/>
<circle cx="1001.1" cy="308.5" r="6.95"/>
<circle cx="832.3" cy="793.2" r="6.95"/>
<circle cx="339.8" cy="837.1" r="6.95"/>
<circle cx="357.6" cy="400.2" r="6.95"/>
<circle cx="917.7" cy="892.4" r="6.95"/>
</g>
<g fill="#eaf2f6">
<circle cx="964.2" cy="500.8" r="6.95"/>
<circle cx="888.0" cy="832.5" r="6.95"/>
<circle cx="659.1" cy="221.7" r="6.95"/>
<circle cx="914.6" cy="889.4" r="6.95"/>
<circle cx="361.6" cy="252.0" r="6.95"/>
<circle cx="741.2" cy="435.8" r="6.95"/>
<circle cx="481.4" cy="917.8" r="6.95"/>
</g>
<g fill="#eaf2f7">
<circle cx="704.1" cy="787.2" r="6.95"/>
<circle cx="533.3" cy="300.2" r="6.95"/>
<circle cx="1023.7" cy="464.0" r="6.95"/>
<circle cx="945.2" cy="424.3" r="6.95"/>
<circle cx="416.4" cy="335.4" r="6.95"/>
<circle cx="576.3" cy="935.1" r="6.95"/>
<circle cx="1048.7" cy="436.4" r="6.95"/>
<circle cx="915.8" cy="944.2" r="6.95"/>
<circle cx="921.6" cy="922.4" r="6.95"/>
<circle cx="982.7" cy="841.2" r="6.95"/>
<circle cx="687.2" cy="270.9" r="6.95"/>
<circle cx="692.3" cy="264.3" r="6.95"/>
<circle cx="277.7" cy="316.2" r="6.95"/>
<circle cx="568.4" cy="809.5" r="6.95"/>
<circle cx="572.7" cy="833.1" r="6.95"/>
<circle cx="611.3" cy="889.0" r="6.95"/>
<circle cx="790.4" cy="748.6" r="6.95"/>
<circle cx="344.6" cy="393.9" r="6.95"/>
<circle cx="597.0" cy="930.0" r="6.95"/>
<circle cx="981.8" cy="776.8" r="6.95"/>
<circle cx="289.1" cy="383.5" r="6.95"/>
<circle cx="427.8" cy="722.8" r="6.95"/>
<circle cx="616.3" cy="851.2" r="6.95"/>
<circle cx="863.3" cy="652.7" r="6.95"/>
<circle cx="941.4" cy="809.6" r="6.95"/>
<circle cx="846.2" cy="895.2" r="6.95"/>
<circle cx="471.5" cy="230.0" r="6.95"/>
<circle cx="557.2" cy="779.4" r="6.95"/>
<circle cx="897.3" cy="781.8" r="6.95"/>
<circle cx="849.6" cy="863.3" r="6.95"/>
<circle cx="425.1" cy="759.6" r="6.95"/>
<circle cx="373.0" cy="417.8" r="6.95"/>
<circle cx="737.6" cy="889.1" r="6.95"/>
<circle cx="650.1" cy="315.8" r="6.95"/>
<circle cx="728.2" cy="740.4" r="6.95"/>
<circle cx="897.2" cy="914.5" r="6.95"/>
<circle cx="825.0" cy="912.5" r="6.95"/>
<circle cx="941.0" cy="298.9" r="6.95"/>
<circle cx="806.5" cy="952.1" r="6.95"/>
<circle cx="903.5" cy="644.1" r="6.95"/>
<circle cx="855.3" cy="559.1" r="6.95"/>
<circle cx="874.6" cy="815.8" r="6.95"/>
<circle cx="637.7" cy="1048.8" r="6.95"/>
<circle cx="721.9" cy="303.6" r="6.95"/>
<circle cx="790.3" cy="975.7" r="6.95"/>
<circle cx="630.9" cy="227.7" r="6.95"/>
<circle cx="640.9" cy="886.7" r="6.95"/>
<circle cx="1019.0" cy="473.7" r="6.95"/>
<circle cx="980.7" cy="768.4" r="6.95"/>
</g>
<g fill="#ebf2f7">
<circle cx="465.6" cy="242.5" r="6.95"/>
<circle cx="884.1" cy="887.5" r="6.95"/>
<circle cx="885.3" cy="943.4" r="6.95"/>
<circle cx="696.2" cy="1001.4" r="6.95"/>
<circle cx="800.5" cy="948.7" r="6.95"/>
<circle cx="420.3" cy="352.8" r="6.95"/>
<circle cx="388.8" cy="253.6" r="6.95"/>
<circle cx="730.8" cy="845.7" r="6.95"/>
<circle cx="627.4" cy="977.5" r="6.95"/>
<circle cx="1002.4" cy="289.0" r="6.95"/>
<circle cx="307.1" cy="504.6" r="6.95"/>
<circle cx="217.4" cy="383.6" r="6.95"/>
<circle cx="361.6" cy="254.9" r="6.95"/>
<circle cx="898.6" cy="418.3" r="6.95"/>
<circle cx="612.2" cy="927.0" r="6.95"/>
<circle cx="910.7" cy="783.3" r="6.95"/>
</g>
<g fill="#ebf3f7">
<circle cx="616.9" cy="792.4" r="6.95"/>
<circle cx="638.7" cy="1051.2" r="6.95"/>
<circle cx="769.0" cy="908.4" r="6.95"/>
<circle cx="861.5" cy="374.6" r="6.95"/>
<circle cx="293.9" cy="370.5" r="6.95"/>
<circle cx="668.8" cy="804.4" r="6.95"/>
<circle cx="890.3" cy="879.4" r="6.95"/>
<circle cx="664.3" cy="274.5" r="6.95"/>
<circle cx="589.7" cy="933.1" r="6.95"/>
<circle cx="816.6" cy="755.4" r="6.95"/>
<circle cx="600.5" cy="749.1" r="6.95"/>
<circle cx="775.2" cy="260.9" r="6.95"/>
<circle cx="1048.3" cy="445.6" r="6.95"/>
<circle cx="772.8" cy="827.2" r="6.95"/>
<circle cx="938.1" cy="642.8" r="6.95"/>
<circle cx="643.2" cy="1069.4" r="6.95"/>
<circle cx="792.0" cy="933.0" r="6.95"/>
<circle cx="396.7" cy="430.3" r="6.95"/>
<circle cx="291.7" cy="477.2" r="6.95"/>
<circle cx="411.0" cy="441.7" r="6.95"/>
<circle cx="248.8" cy="396.2" r="6.95"/>
<circle cx="665.3" cy="829.1" r="6.95"/>
<circle cx="322.2" cy="380.9" r="6.95"/>
<circle cx="539.6" cy="833.9" r="6.95"/>
<circle cx="843.0" cy="335.3" r="6.95"/>
<circle cx="855.9" cy="576.9" r="6.95"/>
<circle cx="388.4" cy="260.1" r="6.95"/>
<circle cx="426.8" cy="368.4" r="6.95"/>
<circle cx="423.6" cy="390.6" r="6.95"/>
<circle cx="1016.6" cy="260.7" r="6.95"/>
<circle cx="903.7" cy="510.6" r="6.95"/>
<circle cx="342.9" cy="418.0" r="6.95"/>
<circle cx="265.9" cy="365.8" r="6.95"/>
<circle cx="305.3" cy="425.0" r="6.95"/>
<circle cx="709.3" cy="1054.4" r="6.95"/>
<circle cx="924.2" cy="511.2" r="6.95"/>
<circle cx="698.6" cy="860.3" r="6.95"/>
<circle cx="900.2" cy="902.3" r="6.95"/>
<circle cx="271.9" cy="301.2" r="6.95"/>
</g>
<g fill="#ecf3f7">
<circle cx="770.8" cy="284.2" r="6.95"/>
<circle cx="457.4" cy="840.2" r="6.95"/>
<circle cx="350.9" cy="438.5" r="6.95"/>
<circle cx="677.8" cy="1049.2" r="6.95"/>
<circle cx="918.0" cy="517.6" r="6.95"/>
<circle cx="744.1" cy="226.6" r="6.95"/>
<circle cx="562.0" cy="903.2" r="6.95"/>
<circle cx="363.3" cy="537.0" r="6.95"/>
<circle cx="433.5" cy="749.6" r="6.95"/>
<circle cx="523.2" cy="930.1" r="6.95"/>
<circle cx="656.4" cy="202.1" r="6.95"/>
<circle cx="971.0" cy="307.9" r="6.95"/>
<circle cx="872.8" cy="518.1" r="6.95"/>
<circle cx="889.8" cy="864.4" r="6.95"/>
<circle cx="539.4" cy="845.5" r="6.95"/>
<circle cx="612.9" cy="792.6" r="6.95"/>
<circle cx="969.7" cy="311.5" r="6.95"/>
<circle cx="583.5" cy="806.5" r="6.95"/>
<circle cx="945.9" cy="878.9" r="6.95"/>
<circle cx="597.5" cy="847.9" r="6.95"/>
<circle cx="1016.7" cy="823.5" r="6.95"/>
<circle cx="654.0" cy="776.7" r="6.95"/>
<circle cx="502.0" cy="984.1" r="6.95"/>
<circle cx="968.9" cy="681.0" r="6.95"/>
<circle cx="285.6" cy="332.5" r="6.95"/>
<circle cx="391.3" cy="541.8" r="6.95"/>
<circle cx="541.8" cy="999.2" r="6.95"/>
<circle cx="873.6" cy="943.8" r="6.95"/>
<circle cx="391.2" cy="293.4" r="6.95"/>
<circle cx="302.8" cy="450.2" r="6.95"/>
<circle cx="360.0" cy="452.0" r="6.95"/>
<circle cx="217.9" cy="444.7" r="6.95"/>
<circle cx="552.9" cy="269.0" r="6.95"/>
<circle cx="979.4" cy="851.8" r="6.95"/>
<circle cx="360.7" cy="258.2" r="6.95"/>
<circle cx="730.7" cy="284.4" r="6.95"/>
<circle cx="860.0" cy="813.0" r="6.95"/>
<circle cx="1045.3" cy="342.0" r="6.95"/>
<circle cx="893.4" cy="794.1" r="6.95"/>
<circle cx="636.7" cy="1027.8" r="6.95"/>
<circle cx="844.7" cy="848.4" r="6.95"/>
<circle cx="263.2" cy="409.4" r="6.95"/>
<circle cx="614.4" cy="1034.4" r="6.95"/>
<circle cx="1114.0" cy="493.9" r="6.95"/>
<circle cx="851.9" cy="883.0" r="6.95"/>
<circle cx="374.2" cy="460.4" r="6.95"/>
<circle cx="731.9" cy="1010.8" r="6.95"/>
<circle cx="279.8" cy="372.1" r="6.95"/>
<circle cx="657.8" cy="990.2" r="6.95"/>
<circle cx="506.8" cy="347.7" r="6.95"/>
<circle cx="1021.0" cy="802.9" r="6.95"/>
<circle cx="346.9" cy="361.4" r="6.95"/>
</g>
<g fill="#edf3f7">
<circle cx="787.1" cy="905.6" r="6.95"/>
<circle cx="967.8" cy="785.7" r="6.95"/>
<circle cx="1101.8" cy="482.9" r="6.95"/>
<circle cx="418.5" cy="328.9" r="6.95"/>
<circle cx="463.7" cy="769.0" r="6.95"/>
<circle cx="785.5" cy="965.7" r="6.95"/>
<circle cx="453.9" cy="366.3" r="6.95"/>
<circle cx="577.2" cy="814.9" r="6.95"/>
<circle cx="213.7" cy="402.2" r="6.95"/>
<circle cx="800.2" cy="755.6" r="6.95"/>
<circle cx="579.4" cy="1075.3" r="6.95"/>
<circle cx="477.7" cy="230.8" r="6.95"/>
<circle cx="430.3" cy="255.9" r="6.95"/>
<circle cx="672.1" cy="252.3" r="6.95"/>
<circle cx="1024.1" cy="800.2" r="6.95"/>
<circle cx="542.6" cy="222.4" r="6.95"/>
<circle cx="769.7" cy="833.8" r="6.95"/>
<circle cx="516.1" cy="950.5" r="6.95"/>
<circle cx="415.7" cy="456.9" r="6.95"/>
<circle cx="705.9" cy="220.7" r="6.95"/>
<circle cx="296.8" cy="386.3" r="6.95"/>
<circle cx="612.3" cy="737.3" r="6.95"/>
<circle cx="1016.4" cy="416.1" r="6.95"/>
<circle cx="507.7" cy="691.5" r="6.95"/>
<circle cx="623.0" cy="250.7" r="6.95"/>
<circle cx="585.7" cy="809.5" r="6.95"/>
<circle cx="849.4" cy="635.8" r="6.95"/>
<circle cx="890.9" cy="644.5" r="6.95"/>
<circle cx="603.1" cy="239.7" r="6.95"/>
</g>
<g fill="#edf4f7">
<circle cx="623.1" cy="972.6" r="6.95"/>
<circle cx="620.2" cy="999.5" r="6.95"/>
<circle cx="473.0" cy="334.6" r="6.95"/>
<circle cx="636.2" cy="752.5" r="6.95"/>
<circle cx="883.5" cy="872.3" r="6.95"/>
<circle cx="368.6" cy="554.6" r="6.95"/>
<circle cx="607.1" cy="875.6" r="6.95"/>
<circle cx="430.3" cy="837.2" r="6.95"/>
<circle cx="664.7" cy="273.0" r="6.95"/>
<circle cx="550.3" cy="1003.5" r="6.95"/>
<circle cx="961.8" cy="303.8" r="6.95"/>
<circle cx="758.8" cy="281.7" r="6.95"/>
<circle cx="785.5" cy="742.5" r="6.95"/>
<circle cx="952.0" cy="285.6" r="6.95"/>
<circle cx="757.1" cy="959.5" r="6.95"/>
<circle cx="391.2" cy="254.6" r="6.95"/>
<circle cx="368.3" cy="807.4" r="6.95"/>
<circle cx="1057.4" cy="382.1" r="6.95"/>
<circle cx="497.6" cy="930.0" r="6.95"/>
<circle cx="681.2" cy="1057.1" r="6.95"/>
<circle cx="904.0" cy="794.4" r="6.95"/>
<circle cx="704.9" cy="998.8" r="6.95"/>
<circle cx="565.5" cy="1050.6" r="6.95"/>
<circle cx="341.4" cy="331.7" r="6.95"/>
<circle cx="645.3" cy="1034.5" r="6.95"/>
<circle cx="342.2" cy="479.3" r="6.95"/>
<circle cx="656.9" cy="257.1" r="6.95"/>
<circle cx="832.6" cy="281.5" r="6.95"/>
</g>
<g fill="#eef4f7">
<circle cx="1041.5" cy="359.5" r="6.95"/>
<circle cx="812.5" cy="830.2" r="6.95"/>
<circle cx="784.1" cy="943.5" r="6.95"/>
<circle cx="664.5" cy="822.6" r="6.95"/>
<circle cx="878.9" cy="893.8" r="6.95"/>
<circle cx="661.0" cy="272.4" r="6.95"/>
<circle cx="609.9" cy="788.1" r="6.95"/>
<circle cx="691.1" cy="825.2" r="6.95"/>
<circle cx="924.0" cy="422.7" r="6.95"/>
<circle cx="524.8" cy="898.4" r="6.95"/>
<circle cx="629.4" cy="298.8" r="6.95"/>
<circle cx="737.8" cy="912.3" r="6.95"/>
<circle cx="370.4" cy="939.0" r="6.95"/>
<circle cx="1001.8" cy="790.6" r="6.95"/>
<circle cx="1001.5" cy="272.6" r="6.95"/>
<circle cx="345.6" cy="787.0" r="6.95"/>
<circle cx="957.8" cy="407.4" r="6.95"/>
<circle cx="549.4" cy="1018.2" r="6.95"/>
<circle cx="784.2" cy="621.3" r="6.95"/>
<circle cx="975.3" cy="861.9" r="6.95"/>
<circle cx="780.8" cy="959.1" r="6.95"/>
<circle cx="443.1" cy="361.4" r="6.95"/>
<circle cx="764.2" cy="992.9" r="6.95"/>
<circle cx="633.0" cy="792.0" r="6.95"/>
<circle cx="612.4" cy="221.1" r="6.95"/>
<circle cx="310.5" cy="343.5" r="6.95"/>
<circle cx="821.6" cy="963.1" r="6.95"/>
<circle cx="800.3" cy="419.9" r="6.95"/>
<circle cx="385.8" cy="407.4" r="6.95"/>
<circle cx="488.0" cy="254.5" r="6.95"/>
<circle cx="992.1" cy="822.5" r="6.95"/>
<circle cx="554.2" cy="316.5" r="6.95"/>
<circle cx="661.2" cy="309.8" r="6.95"/>
<circle cx="344.6" cy="954.7" r="6.95"/>
<circle cx="784.1" cy="312.6" r="6.95"/>
<circle cx="400.1" cy="766.5" r="6.95"/>
<circle cx="365.1" cy="322.7" r="6.95"/>
<circle cx="903.2" cy="517.6" r="6.95"/>
<circle cx="401.8" cy="354.9" r="6.95"/>
<circle cx="340.3" cy="256.2" r="6.95"/>
<circle cx="863.9" cy="344.0" r="6.95"/>
<circle cx="888.4" cy="490.8" r="6.95"/>
<circle cx="661.1" cy="272.1" r="6.95"/>
<circle cx="294.0" cy="292.1" r="6.95"/>
<circle cx="417.0" cy="354.5" r="6.95"/>
<circle cx="527.9" cy="273.8" r="6.95"/>
</g>
<g fill="#eff4f7">
<circle cx="726.8" cy="726.4" r="6.95"/>
<circle cx="997.3" cy="273.7" r="6.95"/>
<circle cx="630.7" cy="977.7" r="6.95"/>
<circle cx="215.8" cy="380.7" r="6.95"/>
<circle cx="775.3" cy="298.3" r="6.95"/>
<circle cx="704.6" cy="1018.7" r="6.95"/>
<circle cx="815.6" cy="961.5" r="6.95"/>
<circle cx="739.3" cy="738.4" r="6.95"/>
<circle cx="628.4" cy="1062.9" r="6.95"/>
<circle cx="918.6" cy="408.8" r="6.95"/>
<circle cx="434.2" cy="838.2" r="6.95"/>
<circle cx="747.8" cy="306.6" r="6.95"/>
<circle cx="765.0" cy="887.7" r="6.95"/>
<circle cx="611.5" cy="981.3" r="6.95"/>
<circle cx="681.3" cy="1017.8" r="6.95"/>
<circle cx="893.8" cy="844.1" r="6.95"/>
<circle cx="741.6" cy="821.6" r="6.95"/>
<circle cx="274.7" cy="352.0" r="6.95"/>
<circle cx="1003.7" cy="270.7" r="6.95"/>
<circle cx="531.4" cy="871.3" r="6.95"/>
<circle cx="634.8" cy="772.5" r="6.95"/>
<circle cx="402.5" cy="749.0" r="6.95"/>
<circle cx="495.0" cy="314.4" r="6.95"/>
<circle cx="830.8" cy="547.5" r="6.95"/>
<circle cx="367.9" cy="536.7" r="6.95"/>
<circle cx="707.2" cy="817.0" r="6.95"/>
<circle cx="663.8" cy="264.5" r="6.95"/>
<circle cx="613.3" cy="276.3" r="6.95"/>
<circle cx="386.0" cy="544.6" r="6.95"/>
<circle cx="800.8" cy="965.8" r="6.95"/>
<circle cx="851.1" cy="575.5" r="6.95"/>
<circle cx="847.3" cy="376.2" r="6.95"/>
<circle cx="343.1" cy="463.2" r="6.95"/>
<circle cx="580.2" cy="866.3" r="6.95"/>
</g>
<g fill="#eff5f8">
<circle cx="634.6" cy="1022.6" r="6.95"/>
<circle cx="881.0" cy="853.2" r="6.95"/>
<circle cx="809.7" cy="920.9" r="6.95"/>
<circle cx="1045.0" cy="306.6" r="6.95"/>
<circle cx="276.9" cy="317.8" r="6.95"/>
<circle cx="448.2" cy="341.6" r="6.95"/>
<circle cx="615.6" cy="1064.5" r="6.95"/>
<circle cx="805.8" cy="667.1" r="6.95"/>
<circle cx="638.9" cy="970.0" r="6.95"/>
<circle cx="549.3" cy="268.5" r="6.95"/>
<circle cx="1012.5" cy="443.5" r="6.95"/>
<circle cx="369.6" cy="741.4" r="6.95"/>
<circle cx="956.7" cy="315.5" r="6.95"/>
<circle cx="1026.0" cy="502.5" r="6.95"/>
<circle cx="620.2" cy="746.7" r="6.95"/>
<circle cx="730.6" cy="787.6" r="6.95"/>
<circle cx="795.0" cy="932.9" r="6.95"/>
<circle cx="770.6" cy="799.2" r="6.95"/>
<circle cx="310.3" cy="492.2" r="6.95"/>
<circle cx="484.6" cy="918.9" r="6.95"/>
<circle cx="404.9" cy="460.0" r="6.95"/>
</g>
<g fill="#f0f5f8">
<circle cx="450.9" cy="290.5" r="6.95"/>
<circle cx="922.0" cy="323.6" r="6.95"/>
<circle cx="830.5" cy="320.2" r="6.95"/>
<circle cx="287.6" cy="336.4" r="6.95"/>
<circle cx="864.1" cy="826.6" r="6.95"/>
<circle cx="680.8" cy="825.7" r="6.95"/>
<circle cx="630.1" cy="1036.1" r="6.95"/>
<circle cx="813.5" cy="835.2" r="6.95"/>
<circle cx="685.5" cy="270.8" r="6.95"/>
<circle cx="367.6" cy="285.9" r="6.95"/>
<circle cx="695.9" cy="721.7" r="6.95"/>
<circle cx="779.4" cy="307.2" r="6.95"/>
<circle cx="318.9" cy="296.2" r="6.95"/>
<circle cx="774.9" cy="875.0" r="6.95"/>
<circle cx="660.8" cy="241.2" r="6.95"/>
<circle cx="208.3" cy="418.4" r="6.95"/>
<circle cx="752.6" cy="649.5" r="6.95"/>
<circle cx="332.2" cy="294.7" r="6.95"/>
<circle cx="749.6" cy="276.5" r="6.95"/>
<circle cx="689.3" cy="824.8" r="6.95"/>
<circle cx="808.3" cy="861.8" r="6.95"/>
<circle cx="709.8" cy="773.4" r="6.95"/>
<circle cx="399.7" cy="281.2" r="6.95"/>
<circle cx="989.0" cy="494.4" r="6.95"/>
<circle cx="787.1" cy="871.7" r="6.95"/>
<circle cx="498.6" cy="997.7" r="6.95"/>
<circle cx="886.8" cy="512.1" r="6.95"/>
<circle cx="841.9" cy="803.7" r="6.95"/>
<circle cx="401.5" cy="923.9" r="6.95"/>
<circle cx="450.2" cy="243.1" r="6.95"/>
<circle cx="303.7" cy="358.8" r="6.95"/>
<circle cx="415.8" cy="446.8" r="6.95"/>
<circle cx="783.0" cy="769.6" r="6.95"/>
<circle cx="642.9" cy="282.4" r="6.95"/>
<circle cx="572.7" cy="988.2" r="6.95"/>
<circle cx="650.8" cy="866.2" r="6.95"/>
<circle cx="902.6" cy="842.2" r="6.95"/>
<circle cx="395.6" cy="264.9" r="6.95"/>
<circle cx="914.7" cy="852.8" r="6.95"/>
<circle cx="947.2" cy="848.1" r="6.95"/>
<circle cx="347.8" cy="384.3" r="6.95"/>
<circle cx="218.2" cy="461.4" r="6.95"/>
<circle cx="564.0" cy="938.6" r="6.95"/>
<circle cx="891.9" cy="439.8" r="6.95"/>
<circle cx="467.0" cy="309.4" r="6.95"/>
<circle cx="778.6" cy="315.5" r="6.95"/>
<circle cx="506.9" cy="302.3" r="6.95"/>
<circle cx="794.8" cy="275.6" r="6.95"/>
<circle cx="859.1" cy="355.3" r="6.95"/>
<circle cx="728.5" cy="792.9" r="6.95"/>
<circle cx="612.4" cy="1048.1" r="6.95"/>
<circle cx="534.5" cy="1030.2" r="6.95"/>
<circle cx="536.7" cy="209.8" r="6.95"/>
<circle cx="894.3" cy="492.4" r="6.95"/>
<circle cx="380.2" cy="727.2" r="6.95"/>
<circle cx="327.4" cy="349.6" r="6.95"/>
<circle cx="369.5" cy="454.3" r="6.95"/>
<circle cx="453.1" cy="234.7" r="6.95"/>
<circle cx="413.3" cy="235.9" r="6.95"/>
</g>
<g fill="#f1f5f8">
<circle cx="214.0" cy="412.7" r="6.95"/>
<circle cx="612.2" cy="723.3" r="6.95"/>
<circle cx="1061.4" cy="498.5" r="6.95"/>
<circle cx="956.2" cy="307.9" r="6.95"/>
<circle cx="530.7" cy="962.7" r="6.95"/>
<circle cx="1031.9" cy="491.1" r="6.95"/>
<circle cx="528.3" cy="444.6" r="6.95"/>
<circle cx="539.6" cy="941.0" r="6.95"/>
<circle cx="792.0" cy="758.1" r="6.95"/>
<circle cx="395.7" cy="756.5" r="6.95"/>
<circle cx="622.6" cy="229.1" r="6.95"/>
<circle cx="1009.4" cy="441.4" r="6.95"/>
<circle cx="411.7" cy="326.7" r="6.95"/>
<circle cx="891.5" cy="850.3" r="6.95"/>
<circle cx="351.5" cy="565.3" r="6.95"/>
<circle cx="1035.4" cy="260.4" r="6.95"/>
<circle cx="742.5" cy="300.2" r="6.95"/>
<circle cx="814.0" cy="973.5" r="6.95"/>
<circle cx="804.2" cy="835.0" r="6.95"/>
<circle cx="782.1" cy="805.1" r="6.95"/>
<circle cx="1042.7" cy="367.5" r="6.95"/>
<circle cx="673.6" cy="302.5" r="6.95"/>
<circle cx="350.9" cy="961.6" r="6.95"/>
<circle cx="478.1" cy="906.1" r="6.95"/>
<circle cx="372.0" cy="408.1" r="6.95"/>
<circle cx="946.4" cy="299.6" r="6.95"/>
<circle cx="565.3" cy="771.9" r="6.95"/>
<circle cx="326.3" cy="480.2" r="6.95"/>
<circle cx="816.3" cy="283.7" r="6.95"/>
<circle cx="896.7" cy="540.1" r="6.95"/>
<circle cx="617.3" cy="1062.4" r="6.95"/>
<circle cx="285.1" cy="334.6" r="6.95"/>
<circle cx="388.8" cy="404.9" r="6.95"/>
<circle cx="906.2" cy="314.6" r="6.95"/>
<circle cx="400.5" cy="432.1" r="6.95"/>
<circle cx="1015.3" cy="328.6" r="6.95"/>
<circle cx="780.2" cy="855.3" r="6.95"/>
<circle cx="443.7" cy="357.9" r="6.95"/>
</g>
<g fill="#f1f6f8">
<circle cx="931.1" cy="447.5" r="6.95"/>
<circle cx="1042.9" cy="300.4" r="6.95"/>
<circle cx="388.1" cy="321.8" r="6.95"/>
<circle cx="837.0" cy="346.5" r="6.95"/>
<circle cx="1031.5" cy="480.0" r="6.95"/>
<circle cx="723.3" cy="1067.8" r="6.95"/>
<circle cx="684.6" cy="786.9" r="6.95"/>
<circle cx="506.9" cy="914.2" r="6.95"/>
<circle cx="404.0" cy="385.1" r="6.95"/>
<circle cx="990.2" cy="822.2" r="6.95"/>
<circle cx="407.0" cy="411.6" r="6.95"/>
<circle cx="640.6" cy="966.8" r="6.95"/>
<circle cx="538.1" cy="997.7" r="6.95"/>
<circle cx="540.5" cy="1056.3" r="6.95"/>
<circle cx="764.3" cy="1036.9" r="6.95"/>
</g>
<g fill="#f2f6f8">
<circle cx="690.5" cy="264.3" r="6.95"/>
<circle cx="661.9" cy="202.7" r="6.95"/>
<circle cx="506.2" cy="895.1" r="6.95"/>
<circle cx="693.9" cy="297.9" r="6.95"/>
<circle cx="896.6" cy="400.9" r="6.95"/>
<circle cx="800.6" cy="794.9" r="6.95"/>
<circle cx="940.6" cy="374.2" r="6.95"/>
<circle cx="596.3" cy="275.0" r="6.95"/>
<circle cx="497.1" cy="268.4" r="6.95"/>
<circle cx="600.9" cy="1080.7" r="6.95"/>
<circle cx="1058.4" cy="400.5" r="6.95"/>
<circle cx="907.1" cy="495.9" r="6.95"/>
<circle cx="314.0" cy="514.6" r="6.95"/>
<circle cx="851.2" cy="583.1" r="6.95"/>
<circle cx="485.3" cy="264.3" r="6.95"/>
<circle cx="741.7" cy="869.0" r="6.95"/>
<circle cx="652.9" cy="1047.8" r="6.95"/>
<circle cx="556.8" cy="206.8" r="6.95"/>
<circle cx="563.3" cy="856.8" r="6.95"/>
<circle cx="1081.8" cy="443.5" r="6.95"/>
<circle cx="920.9" cy="539.0" r="6.95"/>
<circle cx="433.9" cy="381.2" r="6.95"/>
<circle cx="765.9" cy="844.3" r="6.95"/>
<circle cx="353.5" cy="354.5" r="6.95"/>
<circle cx="714.5" cy="826.3" r="6.95"/>
<circle cx="1010.1" cy="307.8" r="6.95"/>
<circle cx="670.7" cy="729.0" r="6.95"/>
<circle cx="893.0" cy="861.4" r="6.95"/>
<circle cx="738.0" cy="264.9" r="6.95"/>
<circle cx="1059.9" cy="479.0" r="6.95"/>
<circle cx="510.5" cy="912.4" r="6.95"/>
<circle cx="827.9" cy="839.6" r="6.95"/>
<circle cx="393.8" cy="331.3" r="6.95"/>
<circle cx="346.8" cy="755.0" r="6.95"/>
<circle cx="813.9" cy="738.3" r="6.95"/>
<circle cx="218.6" cy="448.4" r="6.95"/>
<circle cx="387.2" cy="339.5" r="6.95"/>
<circle cx="798.3" cy="930.1" r="6.95"/>
</g>
<g fill="#f3f6f8">
<circle cx="779.7" cy="884.3" r="6.95"/>
<circle cx="825.0" cy="339.9" r="6.95"/>
<circle cx="262.2" cy="376.1" r="6.95"/>
<circle cx="633.3" cy="806.0" r="6.95"/>
<circle cx="356.0" cy="406.5" r="6.95"/>
<circle cx="599.9" cy="277.2" r="6.95"/>
<circle cx="684.7" cy="291.6" r="6.95"/>
<circle cx="382.4" cy="537.3" r="6.95"/>
<circle cx="507.0" cy="212.8" r="6.95"/>
<circle cx="718.6" cy="879.8" r="6.95"/>
<circle cx="845.4" cy="633.7" r="6.95"/>
<circle cx="919.4" cy="517.2" r="6.95"/>
<circle cx="934.6" cy="407.1" r="6.95"/>
<circle cx="341.6" cy="817.1" r="6.95"/>
<circle cx="274.9" cy="322.0" r="6.95"/>
<circle cx="1058.3" cy="402.8" r="6.95"/>
<circle cx="558.2" cy="1042.2" r="6.95"/>
<circle cx="384.5" cy="248.7" r="6.95"/>
<circle cx="412.9" cy="390.1" r="6.95"/>
<circle cx="348.7" cy="920.0" r="6.95"/>
<circle cx="893.0" cy="490.9" r="6.95"/>
<circle cx="488.9" cy="224.8" r="6.95"/>
<circle cx="792.1" cy="695.3" r="6.95"/>
<circle cx="356.9" cy="316.3" r="6.95"/>
<circle cx="508.7" cy="285.5" r="6.95"/>
<circle cx="355.6" cy="435.5" r="6.95"/>
<circle cx="753.6" cy="847.2" r="6.95"/>
<circle cx="837.7" cy="365.3" r="6.95"/>
<circle cx="646.1" cy="277.3" r="6.95"/>
<circle cx="599.5" cy="961.7" r="6.95"/>
<circle cx="453.6" cy="324.8" r="6.95"/>
<circle cx="587.9" cy="1078.9" r="6.95"/>
<circle cx="725.4" cy="1063.7" r="6.95"/>
<circle cx="567.1" cy="713.6" r="6.95"/>
</g>
<g fill="#f3f7f8">
<circle cx="350.2" cy="813.6" r="6.95"/>
<circle cx="475.0" cy="282.7" r="6.95"/>
<circle cx="574.1" cy="1038.0" r="6.95"/>
<circle cx="920.8" cy="901.9" r="6.95"/>
<circle cx="284.1" cy="343.7" r="6.95"/>
<circle cx="926.5" cy="475.7" r="6.95"/>
<circle cx="563.0" cy="295.3" r="6.95"/>
</g>
<g fill="#f4f7f8">
<circle cx="580.8" cy="790.3" r="6.95"/>
<circle cx="629.3" cy="789.4" r="6.95"/>
<circle cx="627.0" cy="946.9" r="6.95"/>
<circle cx="229.3" cy="374.6" r="6.95"/>
<circle cx="635.8" cy="298.8" r="6.95"/>
<circle cx="680.9" cy="307.2" r="6.95"/>
<circle cx="962.8" cy="321.4" r="6.95"/>
<circle cx="434.6" cy="306.2" r="6.95"/>
<circle cx="578.2" cy="1006.5" r="6.95"/>
<circle cx="327.2" cy="306.0" r="6.95"/>
<circle cx="629.8" cy="1044.8" r="6.95"/>
<circle cx="567.6" cy="318.0" r="6.95"/>
<circle cx="670.6" cy="878.2" r="6.95"/>
<circle cx="771.9" cy="423.1" r="6.95"/>
<circle cx="303.1" cy="326.2" r="6.95"/>
<circle cx="900.6" cy="829.6" r="6.95"/>
<circle cx="921.9" cy="379.5" r="6.95"/>
<circle cx="449.2" cy="302.3" r="6.95"/>
<circle cx="752.6" cy="660.6" r="6.95"/>
<circle cx="992.6" cy="498.4" r="6.95"/>
<circle cx="1053.7" cy="316.6" r="6.95"/>
<circle cx="771.0" cy="966.4" r="6.95"/>
<circle cx="615.5" cy="1017.9" r="6.95"/>
<circle cx="737.3" cy="718.9" r="6.95"/>
<circle cx="604.0" cy="713.7" r="6.95"/>
<circle cx="391.4" cy="359.8" r="6.95"/>
<circle cx="569.1" cy="758.1" r="6.95"/>
<circle cx="924.0" cy="921.7" r="6.95"/>
<circle cx="651.2" cy="337.5" r="6.95"/>
<circle cx="718.0" cy="335.0" r="6.95"/>
<circle cx="622.5" cy="365.0" r="6.95"/>
<circle cx="573.8" cy="386.2" r="6.95"/>
<circle cx="686.0" cy="385.0" r="6.95"/>
<circle cx="680.0" cy="375.0" r="6.95"/>
<circle cx="685.0" cy="398.8" r="6.95"/>
<circle cx="700.0" cy="398.0" r="6.95"/>
<circle cx="736.2" cy="702.7" r="6.95"/>
<circle cx="376.3" cy="273.4" r="6.95"/>
<circle cx="457.3" cy="276.4" r="6.95"/>
<circle cx="617.3" cy="705.9" r="6.95"/>
<circle cx="955.1" cy="280.3" r="6.95"/>
<circle cx="630.9" cy="243.3" r="6.95"/>
<circle cx="817.9" cy="294.6" r="6.95"/>
<circle cx="611.8" cy="764.4" r="6.95"/>
<circle cx="491.0" cy="334.0" r="6.95"/>
<circle cx="584.1" cy="280.7" r="6.95"/>
<circle cx="347.2" cy="279.6" r="6.95"/>
<circle cx="445.1" cy="319.9" r="6.95"/>
<circle cx="533.4" cy="1008.8" r="6.95"/>
<circle cx="986.2" cy="323.2" r="6.95"/>
<circle cx="693.3" cy="803.8" r="6.95"/>
<circle cx="982.5" cy="343.3" r="6.95"/>
<circle cx="350.6" cy="824.4" r="6.95"/>
<circle cx="918.6" cy="502.1" r="6.95"/>
<circle cx="996.4" cy="822.4" r="6.95"/>
<circle cx="347.4" cy="355.8" r="6.95"/>
<circle cx="606.1" cy="1041.0" r="6.95"/>
<circle cx="435.7" cy="260.3" r="6.95"/>
<circle cx="761.9" cy="962.7" r="6.95"/>
<circle cx="556.0" cy="794.4" r="6.95"/>
<circle cx="382.2" cy="375.1" r="6.95"/>
<circle cx="996.4" cy="802.4" r="6.95"/>
<circle cx="507.7" cy="281.6" r="6.95"/>
<circle cx="527.5" cy="292.5" r="6.95"/>
<circle cx="954.7" cy="290.5" r="6.95"/>
<circle cx="623.5" cy="1013.1" r="6.95"/>
</g>
<g fill="#f5f7f9">
<circle cx="398.4" cy="428.8" r="6.95"/>
<circle cx="425.5" cy="924.9" r="6.95"/>
<circle cx="604.9" cy="975.7" r="6.95"/>
<circle cx="848.3" cy="426.9" r="6.95"/>
<circle cx="561.6" cy="276.3" r="6.95"/>
<circle cx="619.9" cy="924.2" r="6.95"/>
<circle cx="780.7" cy="853.7" r="6.95"/>
<circle cx="385.8" cy="294.9" r="6.95"/>
<circle cx="658.7" cy="719.9" r="6.95"/>
<circle cx="824.7" cy="800.5" r="6.95"/>
<circle cx="721.1" cy="669.9" r="6.95"/>
<circle cx="767.4" cy="289.4" r="6.95"/>
<circle cx="521.6" cy="1040.4" r="6.95"/>
<circle cx="537.9" cy="221.9" r="6.95"/>
<circle cx="726.3" cy="228.3" r="6.95"/>
<circle cx="578.0" cy="1060.1" r="6.95"/>
<circle cx="866.0" cy="362.7" r="6.95"/>
<circle cx="355.1" cy="925.5" r="6.95"/>
<circle cx="609.2" cy="258.9" r="6.95"/>
<circle cx="827.0" cy="911.0" r="6.95"/>
<circle cx="871.5" cy="934.6" r="6.95"/>
<circle cx="941.7" cy="862.1" r="6.95"/>
<circle cx="728.7" cy="722.8" r="6.95"/>
<circle cx="829.2" cy="896.6" r="6.95"/>
<circle cx="825.3" cy="790.0" r="6.95"/>
<circle cx="870.1" cy="379.6" r="6.95"/>
<circle cx="736.4" cy="267.1" r="6.95"/>
<circle cx="884.2" cy="415.0" r="6.95"/>
<circle cx="629.6" cy="1001.3" r="6.95"/>
<circle cx="423.1" cy="333.5" r="6.95"/>
<circle cx="747.4" cy="904.7" r="6.95"/>
<circle cx="321.7" cy="826.8" r="6.95"/>
<circle cx="304.3" cy="328.7" r="6.95"/>
<circle cx="502.2" cy="218.5" r="6.95"/>
<circle cx="976.4" cy="328.0" r="6.95"/>
<circle cx="770.3" cy="913.2" r="6.95"/>
<circle cx="953.6" cy="783.5" r="6.95"/>
<circle cx="617.4" cy="922.4" r="6.95"/>
<circle cx="769.0" cy="741.8" r="6.95"/>
<circle cx="643.1" cy="279.9" r="6.95"/>
<circle cx="610.8" cy="309.4" r="6.95"/>
<circle cx="683.5" cy="284.4" r="6.95"/>
<circle cx="802.4" cy="628.2" r="6.95"/>
<circle cx="373.0" cy="361.7" r="6.95"/>
<circle cx="563.5" cy="822.8" r="6.95"/>
<circle cx="339.2" cy="299.6" r="6.95"/>
<circle cx="571.3" cy="985.6" r="6.95"/>
<circle cx="874.8" cy="379.2" r="6.95"/>
<circle cx="909.8" cy="782.3" r="6.95"/>
<circle cx="586.6" cy="814.5" r="6.95"/>
<circle cx="613.8" cy="844.1" r="6.95"/>
</g>
<g fill="#f5f8f9">
<circle cx="421.7" cy="389.8" r="6.95"/>
<circle cx="661.1" cy="1069.9" r="6.95"/>
<circle cx="683.8" cy="482.6" r="6.95"/>
<circle cx="281.7" cy="425.9" r="6.95"/>
<circle cx="791.3" cy="738.9" r="6.95"/>
</g>
<g fill="#f6f8f9">
<circle cx="987.5" cy="258.4" r="6.95"/>
<circle cx="513.3" cy="318.7" r="6.95"/>
<circle cx="606.2" cy="251.2" r="6.95"/>
<circle cx="347.3" cy="413.0" r="6.95"/>
<circle cx="356.2" cy="344.7" r="6.95"/>
<circle cx="731.9" cy="893.6" r="6.95"/>
<circle cx="945.4" cy="639.3" r="6.95"/>
<circle cx="340.3" cy="737.8" r="6.95"/>
<circle cx="1049.6" cy="476.0" r="6.95"/>
<circle cx="278.4" cy="305.7" r="6.95"/>
<circle cx="421.5" cy="417.7" r="6.95"/>
<circle cx="646.0" cy="997.1" r="6.95"/>
<circle cx="536.9" cy="899.0" r="6.95"/>
<circle cx="662.0" cy="225.8" r="6.95"/>
<circle cx="560.1" cy="242.8" r="6.95"/>
<circle cx="436.9" cy="223.4" r="6.95"/>
<circle cx="740.0" cy="238.8" r="6.95"/>
<circle cx="718.9" cy="220.3" r="6.95"/>
<circle cx="734.2" cy="730.7" r="6.95"/>
<circle cx="929.4" cy="429.6" r="6.95"/>
<circle cx="779.9" cy="312.1" r="6.95"/>
<circle cx="578.6" cy="1006.0" r="6.95"/>
<circle cx="292.4" cy="317.6" r="6.95"/>
<circle cx="879.7" cy="510.8" r="6.95"/>
<circle cx="679.7" cy="1008.5" r="6.95"/>
<circle cx="320.9" cy="368.0" r="6.95"/>
<circle cx="855.9" cy="631.8" r="6.95"/>
<circle cx="536.5" cy="974.0" r="6.95"/>
<circle cx="372.1" cy="284.0" r="6.95"/>
<circle cx="479.8" cy="903.4" r="6.95"/>
<circle cx="562.2" cy="263.7" r="6.95"/>
<circle cx="683.2" cy="830.5" r="6.95"/>
<circle cx="379.7" cy="728.0" r="6.95"/>
<circle cx="895.2" cy="844.1" r="6.95"/>
<circle cx="906.5" cy="292.4" r="6.95"/>
<circle cx="891.7" cy="877.7" r="6.95"/>
<circle cx="411.6" cy="259.6" r="6.95"/>
<circle cx="876.0" cy="899.6" r="6.95"/>
<circle cx="833.2" cy="703.4" r="6.95"/>
<circle cx="511.3" cy="893.7" r="6.95"/>
<circle cx="360.2" cy="454.0" r="6.95"/>
<circle cx="553.5" cy="263.3" r="6.95"/>
<circle cx="236.4" cy="310.8" r="6.95"/>
<circle cx="443.7" cy="310.3" r="6.95"/>
<circle cx="780.6" cy="295.2" r="6.95"/>
<circle cx="884.2" cy="872.0" r="6.95"/>
<circle cx="823.7" cy="741.3" r="6.95"/>
<circle cx="661.0" cy="813.7" r="6.95"/>
<circle cx="409.8" cy="255.6" r="6.95"/>
<circle cx="945.9" cy="819.0" r="6.95"/>
<circle cx="348.6" cy="491.3" r="6.95"/>
<circle cx="527.4" cy="942.5" r="6.95"/>
<circle cx="414.9" cy="303.5" r="6.95"/>
<circle cx="339.8" cy="356.9" r="6.95"/>
<circle cx="607.8" cy="744.0" r="6.95"/>
<circle cx="676.9" cy="809.0" r="6.95"/>
</g>
<g fill="#f7f8f9">
<circle cx="515.9" cy="206.4" r="6.95"/>
<circle cx="344.4" cy="310.4" r="6.95"/>
<circle cx="733.9" cy="867.9" r="6.95"/>
<circle cx="909.8" cy="292.9" r="6.95"/>
<circle cx="497.0" cy="953.7" r="6.95"/>
<circle cx="451.4" cy="217.5" r="6.95"/>
<circle cx="616.1" cy="306.8" r="6.95"/>
<circle cx="382.5" cy="467.4" r="6.95"/>
<circle cx="784.7" cy="947.9" r="6.95"/>
<circle cx="296.4" cy="345.7" r="6.95"/>
<circle cx="1087.8" cy="455.3" r="6.95"/>
<circle cx="739.3" cy="305.7" r="6.95"/>
<circle cx="217.9" cy="349.7" r="6.95"/>
<circle cx="859.0" cy="358.7" r="6.95"/>
<circle cx="726.5" cy="254.8" r="6.95"/>
<circle cx="401.7" cy="538.0" r="6.95"/>
<circle cx="902.6" cy="926.2" r="6.95"/>
<circle cx="347.8" cy="765.7" r="6.95"/>
<circle cx="568.1" cy="875.8" r="6.95"/>
<circle cx="538.4" cy="200.5" r="6.95"/>
<circle cx="892.7" cy="778.7" r="6.95"/>
<circle cx="772.3" cy="731.2" r="6.95"/>
<circle cx="995.0" cy="462.0" r="6.95"/>
<circle cx="661.6" cy="798.4" r="6.95"/>
<circle cx="985.4" cy="435.0" r="6.95"/>
<circle cx="929.3" cy="824.1" r="6.95"/>
<circle cx="415.0" cy="362.7" r="6.95"/>
<circle cx="770.0" cy="834.1" r="6.95"/>
<circle cx="626.7" cy="925.3" r="6.95"/>
<circle cx="676.0" cy="999.0" r="6.95"/>
<circle cx="967.3" cy="800.6" r="6.95"/>
<circle cx="584.6" cy="998.9" r="6.95"/>
<circle cx="631.2" cy="680.9" r="6.95"/>
<circle cx="332.6" cy="398.7" r="6.95"/>
<circle cx="476.8" cy="270.6" r="6.95"/>
<circle cx="978.3" cy="301.0" r="6.95"/>
<circle cx="572.2" cy="250.0" r="6.95"/>
<circle cx="471.8" cy="287.8" r="6.95"/>
<circle cx="862.3" cy="526.9" r="6.95"/>
<circle cx="774.9" cy="996.1" r="6.95"/>
<circle cx="333.8" cy="359.3" r="6.95"/>
<circle cx="497.2" cy="897.1" r="6.95"/>
<circle cx="540.7" cy="240.6" r="6.95"/>
<circle cx="652.5" cy="1037.7" r="6.95"/>
<circle cx="875.2" cy="415.3" r="6.95"/>
<circle cx="755.8" cy="903.2" r="6.95"/>
<circle cx="837.9" cy="923.1" r="6.95"/>
<circle cx="483.4" cy="338.7" r="6.95"/>
</g>
<g fill="#f8f9f9">
<circle cx="764.0" cy="264.7" r="6.95"/>
<circle cx="564.3" cy="882.3" r="6.95"/>
<circle cx="547.9" cy="305.9" r="6.95"/>
<circle cx="398.5" cy="426.0" r="6.95"/>
<circle cx="731.1" cy="815.7" r="6.95"/>
<circle cx="656.8" cy="798.7" r="6.95"/>
<circle cx="791.3" cy="780.8" r="6.95"/>
<circle cx="551.1" cy="868.6" r="6.95"/>
<circle cx="1033.2" cy="273.4" r="6.95"/>
<circle cx="317.3" cy="548.1" r="6.95"/>
<circle cx="878.2" cy="941.3" r="6.95"/>
<circle cx="542.3" cy="912.3" r="6.95"/>
<circle cx="325.3" cy="465.8" r="6.95"/>
<circle cx="316.9" cy="367.6" r="6.95"/>
<circle cx="666.9" cy="835.7" r="6.95"/>
<circle cx="445.8" cy="747.3" r="6.95"/>
<circle cx="358.1" cy="461.3" r="6.95"/>
<circle cx="619.4" cy="1037.8" r="6.95"/>
<circle cx="379.3" cy="733.3" r="6.95"/>
<circle cx="681.9" cy="781.6" r="6.95"/>
<circle cx="400.7" cy="744.5" r="6.95"/>
<circle cx="891.0" cy="377.9" r="6.95"/>
<circle cx="1013.0" cy="300.9" r="6.95"/>
<circle cx="1014.0" cy="415.8" r="6.95"/>
<circle cx="530.9" cy="335.8" r="6.95"/>
<circle cx="760.7" cy="917.6" r="6.95"/>
<circle cx="558.3" cy="977.5" r="6.95"/>
<circle cx="597.9" cy="262.1" r="6.95"/>
<circle cx="775.8" cy="792.5" r="6.95"/>
<circle cx="319.4" cy="790.0" r="6.95"/>
<circle cx="416.7" cy="221.8" r="6.95"/>
<circle cx="562.3" cy="890.1" r="6.95"/>
<circle cx="698.1" cy="884.3" r="6.95"/>
<circle cx="701.7" cy="830.2" r="6.95"/>
<circle cx="548.5" cy="1015.6" r="6.95"/>
<circle cx="380.2" cy="747.5" r="6.95"/>
<circle cx="622.3" cy="967.5" r="6.95"/>
<circle cx="394.0" cy="541.1" r="6.95"/>
<circle cx="373.8" cy="262.9" r="6.95"/>
<circle cx="364.3" cy="505.6" r="6.95"/>
<circle cx="742.8" cy="715.8" r="6.95"/>
<circle cx="969.2" cy="320.2" r="6.95"/>
<circle cx="869.6" cy="902.4" r="6.95"/>
<circle cx="674.7" cy="986.6" r="6.95"/>
<circle cx="926.3" cy="805.7" r="6.95"/>
<circle cx="310.9" cy="382.8" r="6.95"/>
<circle cx="330.8" cy="330.4" r="6.95"/>
<circle cx="516.2" cy="1016.7" r="6.95"/>
</g>
<g fill="#f9f9f9">
<circle cx="516.6" cy="985.0" r="6.95"/>
<circle cx="370.8" cy="936.7" r="6.95"/>
<circle cx="904.9" cy="917.3" r="6.95"/>
<circle cx="555.3" cy="986.1" r="6.95"/>
<circle cx="783.8" cy="653.9" r="6.95"/>
<circle cx="367.8" cy="377.1" r="6.95"/>
<circle cx="700.4" cy="321.1" r="6.95"/>
<circle cx="692.0" cy="844.9" r="6.95"/>
<circle cx="890.6" cy="397.1" r="6.95"/>
<circle cx="811.5" cy="946.5" r="6.95"/>
<circle cx="434.2" cy="315.1" r="6.95"/>
<circle cx="783.5" cy="950.3" r="6.95"/>
<circle cx="774.6" cy="831.3" r="6.95"/>
<circle cx="442.5" cy="367.9" r="6.95"/>
<circle cx="541.0" cy="903.0" r="6.95"/>
<circle cx="552.2" cy="972.7" r="6.95"/>
<circle cx="326.8" cy="307.0" r="6.95"/>
<circle cx="946.0" cy="417.1" r="6.95"/>
<circle cx="757.1" cy="1017.8" r="6.95"/>
<circle cx="296.2" cy="488.4" r="6.95"/>
<circle cx="993.4" cy="466.6" r="6.95"/>
<circle cx="399.5" cy="407.0" r="6.95"/>
<circle cx="626.3" cy="287.6" r="6.95"/>
<circle cx="617.5" cy="960.2" r="6.95"/>
<circle cx="734.2" cy="864.4" r="6.95"/>
<circle cx="782.5" cy="943.2" r="6.95"/>
<circle cx="444.5" cy="324.0" r="6.95"/>
<circle cx="697.7" cy="238.5" r="6.95"/>
<circle cx="710.4" cy="772.9" r="6.95"/>
<circle cx="810.0" cy="265.2" r="6.95"/>
<circle cx="254.3" cy="337.6" r="6.95"/>
<circle cx="541.0" cy="335.5" r="6.95"/>
<circle cx="434.1" cy="219.2" r="6.95"/>
<circle cx="375.6" cy="302.8" r="6.95"/>
<circle cx="526.5" cy="1010.1" r="6.95"/>
<circle cx="875.4" cy="449.8" r="6.95"/>
<circle cx="718.0" cy="826.6" r="6.95"/>
<circle cx="393.7" cy="288.6" r="6.95"/>
<circle cx="1054.0" cy="365.2" r="6.95"/>
<circle cx="225.4" cy="384.0" r="6.95"/>
<circle cx="862.6" cy="347.5" r="6.95"/>
<circle cx="654.4" cy="777.6" r="6.95"/>
<circle cx="523.2" cy="364.0" r="6.95"/>
<circle cx="636.5" cy="275.4" r="6.95"/>
<circle cx="496.2" cy="227.8" r="6.95"/>
<circle cx="522.2" cy="243.1" r="6.95"/>
<circle cx="627.6" cy="835.0" r="6.95"/>
<circle cx="550.8" cy="889.3" r="6.95"/>
<circle cx="715.6" cy="1056.7" r="6.95"/>
<circle cx="526.3" cy="912.7" r="6.95"/>
<circle cx="958.9" cy="878.7" r="6.95"/>
<circle cx="565.7" cy="853.9" r="6.95"/>
<circle cx="735.9" cy="248.1" r="6.95"/>
<circle cx="508.5" cy="267.1" r="6.95"/>
<circle cx="728.5" cy="786.4" r="6.95"/>
<circle cx="990.8" cy="310.1" r="6.95"/>
<circle cx="472.4" cy="753.6" r="6.95"/>
<circle cx="364.4" cy="312.5" r="6.95"/>
<circle cx="1085.0" cy="495.0" r="6.95"/>
<circle cx="424.4" cy="292.9" r="6.95"/>
<circle cx="758.0" cy="876.4" r="6.95"/>
<circle cx="695.1" cy="743.7" r="6.95"/>
<circle cx="364.4" cy="282.5" r="6.95"/>
<circle cx="861.9" cy="500.4" r="6.95"/>
<circle cx="628.8" cy="774.6" r="6.95"/>
<circle cx="998.9" cy="822.7" r="6.95"/>
<circle cx="683.5" cy="974.3" r="6.95"/>
<circle cx="241.4" cy="317.2" r="6.95"/>
<circle cx="735.4" cy="236.6" r="6.95"/>
<circle cx="1047.2" cy="310.1" r="6.95"/>
<circle cx="322.8" cy="315.2" r="6.95"/>
<circle cx="923.9" cy="770.2" r="6.95"/>
</g>
<g fill="#faf9f9">
<circle cx="553.7" cy="239.2" r="6.95"/>
<circle cx="289.0" cy="369.5" r="6.95"/>
<circle cx="914.3" cy="875.1" r="6.95"/>
<circle cx="840.3" cy="639.1" r="6.95"/>
</g>
<g fill="#faf9f8">
<circle cx="668.8" cy="1012.7" r="6.95"/>
<circle cx="693.2" cy="757.6" r="6.95"/>
<circle cx="529.8" cy="274.8" r="6.95"/>
<circle cx="610.1" cy="229.2" r="6.95"/>
<circle cx="485.0" cy="217.1" r="6.95"/>
<circle cx="554.6" cy="830.5" r="6.95"/>
<circle cx="720.1" cy="1073.1" r="6.95"/>
<circle cx="669.8" cy="839.2" r="6.95"/>
<circle cx="885.5" cy="888.0" r="6.95"/>
<circle cx="714.0" cy="729.1" r="6.95"/>
<circle cx="651.2" cy="740.8" r="6.95"/>
<circle cx="583.9" cy="813.9" r="6.95"/>
<circle cx="379.7" cy="263.0" r="6.95"/>
<circle cx="1062.8" cy="433.7" r="6.95"/>
<circle cx="446.1" cy="246.6" r="6.95"/>
<circle cx="503.2" cy="941.6" r="6.95"/>
<circle cx="682.0" cy="1044.8" r="6.95"/>
<circle cx="346.2" cy="426.0" r="6.95"/>
<circle cx="622.1" cy="890.9" r="6.95"/>
<circle cx="749.4" cy="787.0" r="6.95"/>
<circle cx="578.2" cy="1078.5" r="6.95"/>
<circle cx="481.2" cy="273.2" r="6.95"/>
<circle cx="632.5" cy="731.1" r="6.95"/>
<circle cx="541.1" cy="340.5" r="6.95"/>
<circle cx="795.6" cy="836.0" r="6.95"/>
<circle cx="325.9" cy="408.8" r="6.95"/>
<circle cx="961.9" cy="799.8" r="6.95"/>
<circle cx="571.9" cy="1004.4" r="6.95"/>
<circle cx="750.6" cy="289.9" r="6.95"/>
<circle cx="964.3" cy="889.4" r="6.95"/>
<circle cx="653.5" cy="254.3" r="6.95"/>
<circle cx="339.7" cy="420.7" r="6.95"/>
</g>
<g fill="#faf8f8">
<circle cx="223.3" cy="333.1" r="6.95"/>
<circle cx="378.1" cy="504.9" r="6.95"/>
<circle cx="1060.5" cy="372.1" r="6.95"/>
<circle cx="410.4" cy="283.7" r="6.95"/>
<circle cx="712.0" cy="282.0" r="6.95"/>
<circle cx="592.6" cy="993.2" r="6.95"/>
<circle cx="390.2" cy="345.6" r="6.95"/>
<circle cx="553.4" cy="206.7" r="6.95"/>
<circle cx="645.1" cy="768.3" r="6.95"/>
<circle cx="558.9" cy="1032.4" r="6.95"/>
<circle cx="904.6" cy="825.4" r="6.95"/>
<circle cx="929.2" cy="339.1" r="6.95"/>
<circle cx="1007.7" cy="828.5" r="6.95"/>
</g>
<g fill="#faf8f7">
<circle cx="758.2" cy="897.0" r="6.95"/>
<circle cx="319.9" cy="450.3" r="6.95"/>
<circle cx="399.5" cy="402.6" r="6.95"/>
<circle cx="339.6" cy="763.3" r="6.95"/>
<circle cx="600.8" cy="994.3" r="6.95"/>
<circle cx="381.6" cy="503.5" r="6.95"/>
<circle cx="281.8" cy="363.0" r="6.95"/>
<circle cx="381.4" cy="540.9" r="6.95"/>
<circle cx="764.3" cy="907.4" r="6.95"/>
<circle cx="440.9" cy="272.6" r="6.95"/>
<circle cx="764.1" cy="1012.6" r="6.95"/>
<circle cx="852.7" cy="828.9" r="6.95"/>
<circle cx="651.3" cy="750.2" r="6.95"/>
<circle cx="577.0" cy="873.2" r="6.95"/>
<circle cx="901.5" cy="933.3" r="6.95"/>
<circle cx="413.5" cy="537.7" r="6.95"/>
<circle cx="698.4" cy="840.4" r="6.95"/>
<circle cx="728.6" cy="230.0" r="6.95"/>
<circle cx="560.3" cy="289.2" r="6.95"/>
<circle cx="1012.2" cy="456.7" r="6.95"/>
<circle cx="484.5" cy="916.9" r="6.95"/>
<circle cx="680.7" cy="247.7" r="6.95"/>
<circle cx="403.9" cy="231.4" r="6.95"/>
<circle cx="384.1" cy="915.7" r="6.95"/>
<circle cx="700.6" cy="1032.7" r="6.95"/>
<circle cx="693.2" cy="993.6" r="6.95"/>
<circle cx="739.2" cy="750.9" r="6.95"/>
<circle cx="875.0" cy="404.3" r="6.95"/>
<circle cx="566.5" cy="735.9" r="6.95"/>
<circle cx="485.5" cy="262.8" r="6.95"/>
<circle cx="720.8" cy="804.7" r="6.95"/>
<circle cx="467.3" cy="754.6" r="6.95"/>
<circle cx="921.6" cy="296.5" r="6.95"/>
<circle cx="1010.3" cy="821.9" r="6.95"/>
<circle cx="559.8" cy="768.9" r="6.95"/>
<circle cx="765.5" cy="897.7" r="6.95"/>
<circle cx="528.6" cy="259.9" r="6.95"/>
<circle cx="334.9" cy="285.4" r="6.95"/>
<circle cx="211.9" cy="400.1" r="6.95"/>
<circle cx="879.1" cy="860.0" r="6.95"/>
</g>
<g fill="#faf8f6">
<circle cx="367.8" cy="371.2" r="6.95"/>
<circle cx="531.7" cy="719.1" r="6.95"/>
<circle cx="381.0" cy="333.4" r="6.95"/>
<circle cx="544.1" cy="1022.9" r="6.95"/>
<circle cx="550.7" cy="934.8" r="6.95"/>
<circle cx="333.0" cy="430.8" r="6.95"/>
<circle cx="719.7" cy="652.9" r="6.95"/>
<circle cx="947.0" cy="906.5" r="6.95"/>
<circle cx="781.7" cy="867.1" r="6.95"/>
<circle cx="872.2" cy="918.3" r="6.95"/>
<circle cx="471.6" cy="310.2" r="6.95"/>
<circle cx="879.6" cy="914.5" r="6.95"/>
<circle cx="670.5" cy="1030.7" r="6.95"/>
<circle cx="907.1" cy="542.0" r="6.95"/>
<circle cx="518.0" cy="342.1" r="6.95"/>
</g>
<g fill="#faf7f6">
<circle cx="545.2" cy="842.2" r="6.95"/>
<circle cx="495.4" cy="255.7" r="6.95"/>
<circle cx="516.6" cy="913.1" r="6.95"/>
<circle cx="695.2" cy="753.2" r="6.95"/>
<circle cx="449.6" cy="286.4" r="6.95"/>
<circle cx="865.5" cy="928.7" r="6.95"/>
<circle cx="693.9" cy="798.9" r="6.95"/>
<circle cx="879.8" cy="825.3" r="6.95"/>
<circle cx="890.8" cy="803.8" r="6.95"/>
<circle cx="394.2" cy="247.3" r="6.95"/>
<circle cx="835.4" cy="907.6" r="6.95"/>
<circle cx="684.1" cy="1005.7" r="6.95"/>
<circle cx="590.5" cy="218.0" r="6.95"/>
<circle cx="765.5" cy="807.8" r="6.95"/>
<circle cx="605.1" cy="1029.3" r="6.95"/>
<circle cx="786.1" cy="296.8" r="6.95"/>
<circle cx="336.1" cy="509.2" r="6.95"/>
<circle cx="917.1" cy="926.9" r="6.95"/>
<circle cx="551.3" cy="1069.1" r="6.95"/>
<circle cx="797.9" cy="300.5" r="6.95"/>
<circle cx="623.3" cy="899.8" r="6.95"/>
<circle cx="980.9" cy="451.1" r="6.95"/>
<circle cx="210.5" cy="396.6" r="6.95"/>
<circle cx="612.2" cy="815.0" r="6.95"/>
<circle cx="939.5" cy="314.2" r="6.95"/>
<circle cx="578.8" cy="774.4" r="6.95"/>
<circle cx="1039.7" cy="318.1" r="6.95"/>
<circle cx="662.8" cy="1034.7" r="6.95"/>
</g>
<g fill="#faf7f5">
<circle cx="715.6" cy="712.1" r="6.95"/>
<circle cx="575.9" cy="1052.2" r="6.95"/>
<circle cx="655.8" cy="244.8" r="6.95"/>
<circle cx="373.8" cy="745.4" r="6.95"/>
<circle cx="584.0" cy="860.5" r="6.95"/>
<circle cx="705.8" cy="1023.0" r="6.95"/>
<circle cx="404.8" cy="455.6" r="6.95"/>
<circle cx="457.9" cy="349.8" r="6.95"/>
<circle cx="299.8" cy="344.6" r="6.95"/>
<circle cx="1059.7" cy="407.2" r="6.95"/>
<circle cx="495.0" cy="891.2" r="6.95"/>
<circle cx="417.5" cy="329.0" r="6.95"/>
<circle cx="294.8" cy="357.1" r="6.95"/>
<circle cx="605.0" cy="988.2" r="6.95"/>
<circle cx="703.9" cy="323.8" r="6.95"/>
<circle cx="793.0" cy="302.3" r="6.95"/>
<circle cx="655.0" cy="260.9" r="6.95"/>
<circle cx="763.1" cy="897.7" r="6.95"/>
<circle cx="561.3" cy="861.6" r="6.95"/>
<circle cx="578.3" cy="891.4" r="6.95"/>
<circle cx="338.4" cy="920.6" r="6.95"/>
<circle cx="593.0" cy="762.1" r="6.95"/>
<circle cx="733.0" cy="767.2" r="6.95"/>
<circle cx="564.9" cy="1040.0" r="6.95"/>
<circle cx="832.9" cy="915.4" r="6.95"/>
<circle cx="301.1" cy="434.0" r="6.95"/>
<circle cx="930.9" cy="499.7" r="6.95"/>
<circle cx="476.3" cy="900.5" r="6.95"/>
<circle cx="735.8" cy="730.5" r="6.95"/>
<circle cx="953.4" cy="805.3" r="6.95"/>
<circle cx="472.0" cy="324.4" r="6.95"/>
<circle cx="421.0" cy="401.0" r="6.95"/>
<circle cx="721.3" cy="654.0" r="6.95"/>
<circle cx="373.3" cy="932.0" r="6.95"/>
<circle cx="690.0" cy="236.5" r="6.95"/>
<circle cx="889.4" cy="478.7" r="6.95"/>
<circle cx="333.4" cy="534.0" r="6.95"/>
<circle cx="926.4" cy="439.8" r="6.95"/>
<circle cx="625.3" cy="818.1" r="6.95"/>
<circle cx="681.8" cy="268.8" r="6.95"/>
<circle cx="507.4" cy="245.7" r="6.95"/>
<circle cx="380.0" cy="266.9" r="6.95"/>
<circle cx="841.0" cy="632.8" r="6.95"/>
</g>
<g fill="#faf7f4">
<circle cx="367.8" cy="235.6" r="6.95"/>
<circle cx="713.5" cy="263.2" r="6.95"/>
<circle cx="874.5" cy="858.3" r="6.95"/>
</g>
<g fill="#faf6f4">
<circle cx="639.6" cy="754.0" r="6.95"/>
<circle cx="531.2" cy="889.3" r="6.95"/>
<circle cx="670.0" cy="207.1" r="6.95"/>
<circle cx="316.1" cy="333.8" r="6.95"/>
<circle cx="1109.8" cy="490.0" r="6.95"/>
<circle cx="513.2" cy="357.9" r="6.95"/>
<circle cx="727.0" cy="797.4" r="6.95"/>
<circle cx="890.5" cy="850.0" r="6.95"/>
<circle cx="769.8" cy="865.3" r="6.95"/>
<circle cx="818.8" cy="698.0" r="6.95"/>
<circle cx="555.5" cy="998.1" r="6.95"/>
<circle cx="365.1" cy="839.4" r="6.95"/>
<circle cx="382.7" cy="450.8" r="6.95"/>
<circle cx="612.3" cy="884.7" r="6.95"/>
<circle cx="375.5" cy="493.7" r="6.95"/>
<circle cx="828.0" cy="757.9" r="6.95"/>
<circle cx="512.7" cy="273.6" r="6.95"/>
<circle cx="751.2" cy="1010.1" r="6.95"/>
<circle cx="631.7" cy="888.7" r="6.95"/>
<circle cx="661.3" cy="299.9" r="6.95"/>
<circle cx="746.9" cy="726.1" r="6.95"/>
<circle cx="804.3" cy="288.0" r="6.95"/>
<circle cx="301.2" cy="508.6" r="6.95"/>
<circle cx="314.2" cy="513.9" r="6.95"/>
<circle cx="384.0" cy="284.1" r="6.95"/>
<circle cx="677.9" cy="741.1" r="6.95"/>
<circle cx="866.6" cy="831.4" r="6.95"/>
<circle cx="673.3" cy="1015.1" r="6.95"/>
<circle cx="716.6" cy="1060.4" r="6.95"/>
<circle cx="526.2" cy="435.6" r="6.95"/>
<circle cx="935.3" cy="383.8" r="6.95"/>
<circle cx="348.7" cy="501.6" r="6.95"/>
<circle cx="931.3" cy="322.7" r="6.95"/>
</g>
<g fill="#faf6f3">
<circle cx="336.6" cy="443.9" r="6.95"/>
<circle cx="735.2" cy="251.3" r="6.95"/>
<circle cx="592.3" cy="934.8" r="6.95"/>
<circle cx="671.5" cy="1067.1" r="6.95"/>
<circle cx="941.2" cy="395.7" r="6.95"/>
<circle cx="715.6" cy="1041.7" r="6.95"/>
<circle cx="802.3" cy="745.0" r="6.95"/>
<circle cx="365.4" cy="505.8" r="6.95"/>
<circle cx="803.1" cy="881.8" r="6.95"/>
<circle cx="961.3" cy="815.6" r="6.95"/>
<circle cx="701.3" cy="800.4" r="6.95"/>
<circle cx="334.8" cy="400.9" r="6.95"/>
<circle cx="502.0" cy="299.0" r="6.95"/>
<circle cx="627.8" cy="829.5" r="6.95"/>
<circle cx="637.4" cy="241.2" r="6.95"/>
<circle cx="615.7" cy="231.9" r="6.95"/>
<circle cx="404.8" cy="448.6" r="6.95"/>
<circle cx="613.2" cy="960.8" r="6.95"/>
<circle cx="899.6" cy="880.8" r="6.95"/>
<circle cx="964.5" cy="883.2" r="6.95"/>
<circle cx="795.9" cy="653.0" r="6.95"/>
<circle cx="550.3" cy="556.0" r="6.95"/>
<circle cx="435.3" cy="216.3" r="6.95"/>
<circle cx="670.7" cy="220.6" r="6.95"/>
<circle cx="958.5" cy="307.3" r="6.95"/>
<circle cx="608.1" cy="280.3" r="6.95"/>
<circle cx="511.6" cy="325.7" r="6.95"/>
<circle cx="1025.6" cy="424.2" r="6.95"/>
<circle cx="1001.0" cy="440.1" r="6.95"/>
<circle cx="885.5" cy="491.3" r="6.95"/>
<circle cx="862.7" cy="497.0" r="6.95"/>
<circle cx="1026.0" cy="448.6" r="6.95"/>
</g>
<g fill="#faf5f3">
<circle cx="564.4" cy="877.5" r="6.95"/>
<circle cx="751.0" cy="842.4" r="6.95"/>
<circle cx="904.1" cy="770.2" r="6.95"/>
<circle cx="752.8" cy="1031.5" r="6.95"/>
<circle cx="809.8" cy="278.5" r="6.95"/>
<circle cx="642.7" cy="219.3" r="6.95"/>
<circle cx="407.0" cy="352.1" r="6.95"/>
</g>
<g fill="#faf5f2">
<circle cx="611.7" cy="245.5" r="6.95"/>
<circle cx="743.6" cy="1046.1" r="6.95"/>
<circle cx="963.4" cy="844.1" r="6.95"/>
<circle cx="833.4" cy="858.4" r="6.95"/>
<circle cx="1020.5" cy="275.8" r="6.95"/>
<circle cx="599.5" cy="772.1" r="6.95"/>
<circle cx="544.2" cy="1036.3" r="6.95"/>
<circle cx="416.0" cy="262.4" r="6.95"/>
<circle cx="811.0" cy="298.5" r="6.95"/>
<circle cx="365.9" cy="820.3" r="6.95"/>
<circle cx="741.7" cy="659.5" r="6.95"/>
<circle cx="648.1" cy="778.9" r="6.95"/>
<circle cx="560.9" cy="1033.3" r="6.95"/>
<circle cx="527.9" cy="982.2" r="6.95"/>
<circle cx="652.8" cy="306.2" r="6.95"/>
<circle cx="461.5" cy="306.5" r="6.95"/>
<circle cx="328.1" cy="282.2" r="6.95"/>
<circle cx="376.4" cy="470.3" r="6.95"/>
<circle cx="766.8" cy="844.7" r="6.95"/>
<circle cx="397.3" cy="394.7" r="6.95"/>
<circle cx="732.1" cy="298.9" r="6.95"/>
<circle cx="521.6" cy="849.9" r="6.95"/>
<circle cx="486.7" cy="345.8" r="6.95"/>
<circle cx="908.7" cy="379.9" r="6.95"/>
<circle cx="880.3" cy="875.6" r="6.95"/>
<circle cx="689.2" cy="976.6" r="6.95"/>
<circle cx="698.8" cy="258.1" r="6.95"/>
<circle cx="467.8" cy="280.3" r="6.95"/>
<circle cx="372.8" cy="373.7" r="6.95"/>
<circle cx="803.2" cy="928.2" r="6.95"/>
<circle cx="751.9" cy="320.6" r="6.95"/>
<circle cx="645.6" cy="299.3" r="6.95"/>
<circle cx="432.0" cy="308.8" r="6.95"/>
<circle cx="1017.0" cy="818.3" r="6.95"/>
<circle cx="959.9" cy="325.8" r="6.95"/>
<circle cx="668.7" cy="708.3" r="6.95"/>
<circle cx="941.4" cy="327.0" r="6.95"/>
<circle cx="993.8" cy="454.3" r="6.95"/>
<circle cx="1016.7" cy="283.9" r="6.95"/>
<circle cx="606.2" cy="783.6" r="6.95"/>
<circle cx="307.7" cy="447.4" r="6.95"/>
</g>
<g fill="#faf5f1">
<circle cx="874.5" cy="839.5" r="6.95"/>
<circle cx="917.1" cy="312.4" r="6.95"/>
<circle cx="895.7" cy="378.0" r="6.95"/>
<circle cx="785.7" cy="986.2" r="6.95"/>
<circle cx="794.2" cy="910.5" r="6.95"/>
<circle cx="566.0" cy="843.2" r="6.95"/>
<circle cx="425.3" cy="764.6" r="6.95"/>
<circle cx="692.4" cy="970.9" r="6.95"/>
<circle cx="971.2" cy="436.7" r="6.95"/>
<circle cx="389.4" cy="292.3" r="6.95"/>
<circle cx="926.8" cy="886.3" r="6.95"/>
<circle cx="633.1" cy="981.2" r="6.95"/>
<circle cx="1011.2" cy="485.5" r="6.95"/>
<circle cx="915.2" cy="500.9" r="6.95"/>
<circle cx="1031.6" cy="280.3" r="6.95"/>
<circle cx="510.2" cy="195.7" r="6.95"/>
<circle cx="865.4" cy="845.9" r="6.95"/>
<circle cx="783.6" cy="741.0" r="6.95"/>
<circle cx="868.4" cy="651.6" r="6.95"/>
<circle cx="1020.3" cy="333.2" r="6.95"/>
</g>
<g fill="#faf4f1">
<circle cx="717.6" cy="242.8" r="6.95"/>
<circle cx="605.7" cy="235.3" r="6.95"/>
<circle cx="397.9" cy="531.8" r="6.95"/>
<circle cx="393.3" cy="322.3" r="6.95"/>
<circle cx="380.5" cy="499.7" r="6.95"/>
<circle cx="686.5" cy="741.0" r="6.95"/>
<circle cx="1084.4" cy="460.3" r="6.95"/>
<circle cx="875.8" cy="415.8" r="6.95"/>
<circle cx="518.8" cy="217.7" r="6.95"/>
<circle cx="524.8" cy="298.6" r="6.95"/>
<circle cx="693.4" cy="1034.3" r="6.95"/>
<circle cx="647.5" cy="786.1" r="6.95"/>
<circle cx="536.6" cy="208.4" r="6.95"/>
<circle cx="598.9" cy="814.9" r="6.95"/>
<circle cx="696.7" cy="323.5" r="6.95"/>
<circle cx="521.0" cy="197.6" r="6.95"/>
<circle cx="378.7" cy="426.7" r="6.95"/>
<circle cx="724.6" cy="750.3" r="6.95"/>
<circle cx="853.8" cy="278.7" r="6.95"/>
<circle cx="941.0" cy="856.8" r="6.95"/>
<circle cx="584.1" cy="767.6" r="6.95"/>
<circle cx="743.9" cy="656.0" r="6.95"/>
<circle cx="623.3" cy="306.3" r="6.95"/>
</g>
<g fill="#fbf4f1">
<circle cx="546.7" cy="231.0" r="6.95"/>
<circle cx="736.5" cy="836.8" r="6.95"/>
<circle cx="797.0" cy="263.1" r="6.95"/>
<circle cx="992.8" cy="784.9" r="6.95"/>
<circle cx="465.8" cy="256.3" r="6.95"/>
<circle cx="449.8" cy="326.9" r="6.95"/>
<circle cx="369.8" cy="297.4" r="6.95"/>
<circle cx="867.0" cy="894.7" r="6.95"/>
<circle cx="694.3" cy="881.1" r="6.95"/>
</g>
<g fill="#fbf4f0">
<circle cx="950.3" cy="653.3" r="6.95"/>
<circle cx="948.6" cy="499.6" r="6.95"/>
<circle cx="592.6" cy="822.2" r="6.95"/>
<circle cx="753.4" cy="851.8" r="6.95"/>
<circle cx="693.0" cy="1024.1" r="6.95"/>
<circle cx="939.6" cy="351.5" r="6.95"/>
<circle cx="676.4" cy="724.2" r="6.95"/>
<circle cx="935.9" cy="349.6" r="6.95"/>
<circle cx="381.4" cy="768.3" r="6.95"/>
<circle cx="572.1" cy="249.6" r="6.95"/>
<circle cx="502.7" cy="971.7" r="6.95"/>
<circle cx="816.5" cy="914.8" r="6.95"/>
<circle cx="552.2" cy="806.0" r="6.95"/>
<circle cx="623.2" cy="250.6" r="6.95"/>
<circle cx="681.4" cy="771.6" r="6.95"/>
<circle cx="639.6" cy="282.1" r="6.95"/>
<circle cx="939.8" cy="346.8" r="6.95"/>
<circle cx="538.1" cy="1015.8" r="6.95"/>
<circle cx="272.4" cy="358.8" r="6.95"/>
<circle cx="540.3" cy="318.3" r="6.95"/>
<circle cx="517.3" cy="282.2" r="6.95"/>
<circle cx="948.7" cy="817.0" r="6.95"/>
<circle cx="777.0" cy="288.3" r="6.95"/>
<circle cx="516.1" cy="974.4" r="6.95"/>
<circle cx="311.5" cy="348.5" r="6.95"/>
<circle cx="546.2" cy="891.3" r="6.95"/>
<circle cx="711.6" cy="853.4" r="6.95"/>
<circle cx="700.5" cy="284.0" r="6.95"/>
<circle cx="840.2" cy="905.8" r="6.95"/>
<circle cx="401.0" cy="532.2" r="6.95"/>
<circle cx="697.8" cy="757.6" r="6.95"/>
<circle cx="589.7" cy="824.8" r="6.95"/>
<circle cx="631.8" cy="767.5" r="6.95"/>
<circle cx="400.1" cy="258.5" r="6.95"/>
<circle cx="429.1" cy="538.5" r="6.95"/>
<circle cx="951.1" cy="858.9" r="6.95"/>
<circle cx="360.8" cy="297.3" r="6.95"/>
<circle cx="849.1" cy="871.7" r="6.95"/>
<circle cx="622.4" cy="1039.1" r="6.95"/>
<circle cx="439.9" cy="348.3" r="6.95"/>
<circle cx="954.0" cy="792.1" r="6.95"/>
<circle cx="922.1" cy="838.4" r="6.95"/>
<circle cx="859.3" cy="555.4" r="6.95"/>
<circle cx="340.6" cy="509.0" r="6.95"/>
<circle cx="893.5" cy="520.7" r="6.95"/>
<circle cx="885.3" cy="885.2" r="6.95"/>
<circle cx="489.2" cy="387.4" r="6.95"/>
<circle cx="343.6" cy="286.9" r="6.95"/>
<circle cx="1054.8" cy="453.5" r="6.95"/>
<circle cx="336.3" cy="340.4" r="6.95"/>
<circle cx="670.3" cy="257.2" r="6.95"/>
<circle cx="390.6" cy="490.8" r="6.95"/>
<circle cx="496.6" cy="951.6" r="6.95"/>
</g>
<g fill="#fbf4ef">
<circle cx="770.5" cy="877.3" r="6.95"/>
<circle cx="409.2" cy="324.3" r="6.95"/>
<circle cx="354.3" cy="749.6" r="6.95"/>
<circle cx="862.2" cy="396.8" r="6.95"/>
<circle cx="899.0" cy="539.1" r="6.95"/>
<circle cx="323.9" cy="362.4" r="6.95"/>
<circle cx="905.1" cy="398.9" r="6.95"/>
<circle cx="966.1" cy="668.2" r="6.95"/>
</g>
<g fill="#fbf3ef">
<circle cx="572.2" cy="980.2" r="6.95"/>
<circle cx="913.4" cy="505.5" r="6.95"/>
<circle cx="553.3" cy="190.7" r="6.95"/>
<circle cx="465.2" cy="257.7" r="6.95"/>
<circle cx="320.6" cy="444.6" r="6.95"/>
<circle cx="364.8" cy="327.4" r="6.95"/>
<circle cx="863.8" cy="392.3" r="6.95"/>
<circle cx="523.4" cy="304.6" r="6.95"/>
<circle cx="395.0" cy="337.6" r="6.95"/>
<circle cx="681.2" cy="688.9" r="6.95"/>
<circle cx="791.5" cy="853.1" r="6.95"/>
<circle cx="585.5" cy="810.1" r="6.95"/>
<circle cx="577.1" cy="959.5" r="6.95"/>
<circle cx="745.1" cy="851.3" r="6.95"/>
<circle cx="627.2" cy="862.0" r="6.95"/>
<circle cx="688.2" cy="224.5" r="6.95"/>
<circle cx="860.9" cy="410.2" r="6.95"/>
<circle cx="759.7" cy="304.6" r="6.95"/>
<circle cx="1089.8" cy="495.6" r="6.95"/>
<circle cx="797.6" cy="963.4" r="6.95"/>
<circle cx="539.5" cy="203.9" r="6.95"/>
<circle cx="411.4" cy="221.7" r="6.95"/>
<circle cx="731.6" cy="667.9" r="6.95"/>
<circle cx="971.7" cy="837.2" r="6.95"/>
<circle cx="686.7" cy="1050.1" r="6.95"/>
<circle cx="785.8" cy="766.3" r="6.95"/>
</g>
<g fill="#fbf3ee">
<circle cx="1109.8" cy="499.9" r="6.95"/>
<circle cx="545.3" cy="922.9" r="6.95"/>
<circle cx="614.8" cy="893.9" r="6.95"/>
<circle cx="494.0" cy="246.5" r="6.95"/>
<circle cx="663.1" cy="1055.4" r="6.95"/>
<circle cx="297.4" cy="302.2" r="6.95"/>
<circle cx="315.0" cy="321.7" r="6.95"/>
<circle cx="442.7" cy="339.9" r="6.95"/>
<circle cx="783.6" cy="912.0" r="6.95"/>
<circle cx="592.6" cy="962.1" r="6.95"/>
<circle cx="629.9" cy="206.4" r="6.95"/>
<circle cx="1048.7" cy="311.4" r="6.95"/>
<circle cx="1002.2" cy="421.8" r="6.95"/>
<circle cx="666.1" cy="227.5" r="6.95"/>
<circle cx="720.7" cy="841.3" r="6.95"/>
<circle cx="931.9" cy="829.8" r="6.95"/>
<circle cx="920.9" cy="390.0" r="6.95"/>
<circle cx="820.1" cy="869.9" r="6.95"/>
<circle cx="426.3" cy="250.4" r="6.95"/>
<circle cx="765.1" cy="859.5" r="6.95"/>
<circle cx="741.4" cy="723.4" r="6.95"/>
<circle cx="306.4" cy="369.0" r="6.95"/>
<circle cx="990.8" cy="468.8" r="6.95"/>
<circle cx="546.1" cy="904.1" r="6.95"/>
<circle cx="533.6" cy="945.5" r="6.95"/>
</g>
<g fill="#fbf2ee">
<circle cx="883.8" cy="389.4" r="6.95"/>
<circle cx="872.5" cy="549.8" r="6.95"/>
<circle cx="976.9" cy="803.1" r="6.95"/>
</g>
<g fill="#fbf2ed">
<circle cx="617.8" cy="936.7" r="6.95"/>
<circle cx="927.9" cy="383.8" r="6.95"/>
<circle cx="628.3" cy="988.2" r="6.95"/>
<circle cx="315.8" cy="316.7" r="6.95"/>
<circle cx="976.9" cy="416.4" r="6.95"/>
<circle cx="977.1" cy="420.6" r="6.95"/>
<circle cx="380.8" cy="517.6" r="6.95"/>
<circle cx="492.2" cy="235.7" r="6.95"/>
<circle cx="313.0" cy="477.9" r="6.95"/>
<circle cx="726.3" cy="239.8" r="6.95"/>
<circle cx="971.1" cy="854.2" r="6.95"/>
<circle cx="349.6" cy="476.3" r="6.95"/>
<circle cx="1043.5" cy="466.7" r="6.95"/>
<circle cx="771.8" cy="290.4" r="6.95"/>
<circle cx="550.6" cy="1023.0" r="6.95"/>
<circle cx="752.1" cy="731.2" r="6.95"/>
<circle cx="844.5" cy="844.8" r="6.95"/>
<circle cx="523.0" cy="250.9" r="6.95"/>
<circle cx="346.3" cy="318.5" r="6.95"/>
<circle cx="964.6" cy="775.9" r="6.95"/>
<circle cx="656.8" cy="1066.6" r="6.95"/>
<circle cx="290.3" cy="321.8" r="6.95"/>
<circle cx="450.2" cy="282.9" r="6.95"/>
<circle cx="398.4" cy="763.6" r="6.95"/>
<circle cx="675.4" cy="730.9" r="6.95"/>
<circle cx="209.7" cy="416.0" r="6.95"/>
<circle cx="1006.5" cy="494.5" r="6.95"/>
<circle cx="936.4" cy="902.5" r="6.95"/>
<circle cx="612.0" cy="738.5" r="6.95"/>
<circle cx="407.1" cy="762.9" r="6.95"/>
<circle cx="631.6" cy="254.6" r="6.95"/>
<circle cx="387.7" cy="438.4" r="6.95"/>
<circle cx="484.0" cy="230.7" r="6.95"/>
<circle cx="576.6" cy="767.0" r="6.95"/>
<circle cx="648.5" cy="785.6" r="6.95"/>
<circle cx="298.3" cy="469.2" r="6.95"/>
</g>
<g fill="#fbf2ec">
<circle cx="292.2" cy="429.5" r="6.95"/>
<circle cx="803.4" cy="670.7" r="6.95"/>
<circle cx="811.2" cy="755.0" r="6.95"/>
<circle cx="1010.7" cy="483.3" r="6.95"/>
<circle cx="548.3" cy="246.9" r="6.95"/>
<circle cx="258.0" cy="402.9" r="6.95"/>
<circle cx="629.1" cy="845.7" r="6.95"/>
<circle cx="807.5" cy="303.4" r="6.95"/>
<circle cx="499.8" cy="1002.5" r="6.95"/>
<circle cx="540.3" cy="871.3" r="6.95"/>
<circle cx="741.0" cy="751.1" r="6.95"/>
<circle cx="339.6" cy="326.4" r="6.95"/>
<circle cx="858.5" cy="345.1" r="6.95"/>
<circle cx="587.3" cy="1057.8" r="6.95"/>
<circle cx="742.4" cy="741.1" r="6.95"/>
<circle cx="542.6" cy="910.6" r="6.95"/>
<circle cx="670.0" cy="346.0" r="6.95"/>
<circle cx="694.0" cy="349.0" r="6.95"/>
<circle cx="706.0" cy="350.0" r="6.95"/>
<circle cx="680.0" cy="367.5" r="6.95"/>
<circle cx="708.8" cy="366.2" r="6.95"/>
<circle cx="695.0" cy="405.0" r="6.95"/>
<circle cx="623.8" cy="812.0" r="6.95"/>
<circle cx="557.1" cy="840.0" r="6.95"/>
<circle cx="643.7" cy="744.2" r="6.95"/>
<circle cx="817.4" cy="697.0" r="6.95"/>
</g>
<g fill="#fbf1ec">
<circle cx="1107.0" cy="509.3" r="6.95"/>
<circle cx="1059.5" cy="482.4" r="6.95"/>
<circle cx="386.7" cy="277.1" r="6.95"/>
<circle cx="593.2" cy="246.1" r="6.95"/>
<circle cx="513.3" cy="246.7" r="6.95"/>
<circle cx="396.9" cy="279.3" r="6.95"/>
<circle cx="581.1" cy="987.6" r="6.95"/>
<circle cx="823.1" cy="891.2" r="6.95"/>
<circle cx="774.8" cy="743.9" r="6.95"/>
</g>
<g fill="#fbf1eb">
<circle cx="850.8" cy="498.4" r="6.95"/>
<circle cx="873.1" cy="534.3" r="6.95"/>
<circle cx="746.4" cy="233.5" r="6.95"/>
<circle cx="405.4" cy="383.7" r="6.95"/>
<circle cx="642.9" cy="213.0" r="6.95"/>
<circle cx="872.7" cy="841.7" r="6.95"/>
<circle cx="584.1" cy="860.2" r="6.95"/>
<circle cx="880.8" cy="503.8" r="6.95"/>
<circle cx="353.3" cy="367.9" r="6.95"/>
<circle cx="668.1" cy="725.9" r="6.95"/>
<circle cx="613.5" cy="1013.1" r="6.95"/>
<circle cx="663.6" cy="283.6" r="6.95"/>
<circle cx="476.9" cy="312.1" r="6.95"/>
<circle cx="378.2" cy="925.7" r="6.95"/>
<circle cx="591.7" cy="815.4" r="6.95"/>
<circle cx="464.9" cy="294.8" r="6.95"/>
<circle cx="686.4" cy="870.7" r="6.95"/>
<circle cx="525.3" cy="1023.6" r="6.95"/>
<circle cx="692.8" cy="1034.6" r="6.95"/>
<circle cx="433.5" cy="269.9" r="6.95"/>
<circle cx="997.9" cy="447.7" r="6.95"/>
<circle cx="341.3" cy="813.9" r="6.95"/>
<circle cx="708.7" cy="1029.5" r="6.95"/>
<circle cx="894.8" cy="806.6" r="6.95"/>
<circle cx="310.3" cy="364.0" r="6.95"/>
<circle cx="990.7" cy="473.5" r="6.95"/>
<circle cx="841.4" cy="863.5" r="6.95"/>
<circle cx="979.5" cy="740.0" r="6.95"/>
<circle cx="558.9" cy="1061.8" r="6.95"/>
<circle cx="757.9" cy="256.7" r="6.95"/>
<circle cx="737.4" cy="797.4" r="6.95"/>
<circle cx="708.3" cy="753.0" r="6.95"/>
<circle cx="363.9" cy="953.7" r="6.95"/>
<circle cx="765.5" cy="305.3" r="6.95"/>
<circle cx="541.9" cy="217.6" r="6.95"/>
<circle cx="358.2" cy="320.5" r="6.95"/>
<circle cx="335.3" cy="464.5" r="6.95"/>
<circle cx="417.0" cy="250.0" r="6.95"/>
</g>
<g fill="#fbf1ea">
<circle cx="699.0" cy="841.1" r="6.95"/>
<circle cx="655.2" cy="757.7" r="6.95"/>
<circle cx="886.8" cy="944.5" r="6.95"/>
<circle cx="1059.5" cy="306.5" r="6.95"/>
<circle cx="1057.6" cy="369.7" r="6.95"/>
<circle cx="863.7" cy="838.4" r="6.95"/>
<circle cx="527.5" cy="311.4" r="6.95"/>
<circle cx="400.1" cy="466.5" r="6.95"/>
<circle cx="857.3" cy="900.9" r="6.95"/>
<circle cx="510.5" cy="272.9" r="6.95"/>
<circle cx="915.0" cy="811.6" r="6.95"/>
<circle cx="640.1" cy="227.0" r="6.95"/>
<circle cx="559.8" cy="1067.7" r="6.95"/>
<circle cx="420.4" cy="750.3" r="6.95"/>
<circle cx="632.3" cy="994.3" r="6.95"/>
<circle cx="391.9" cy="265.4" r="6.95"/>
<circle cx="999.4" cy="262.9" r="6.95"/>
<circle cx="708.2" cy="1030.4" r="6.95"/>
<circle cx="811.1" cy="702.7" r="6.95"/>
</g>
<g fill="#fbf0ea">
<circle cx="730.4" cy="1047.3" r="6.95"/>
<circle cx="453.6" cy="796.3" r="6.95"/>
<circle cx="604.7" cy="968.0" r="6.95"/>
<circle cx="459.6" cy="234.6" r="6.95"/>
<circle cx="1030.0" cy="325.1" r="6.95"/>
<circle cx="850.4" cy="837.6" r="6.95"/>
<circle cx="574.5" cy="1000.3" r="6.95"/>
<circle cx="901.9" cy="508.9" r="6.95"/>
<circle cx="695.5" cy="1028.9" r="6.95"/>
<circle cx="773.8" cy="732.5" r="6.95"/>
<circle cx="582.2" cy="755.1" r="6.95"/>
<circle cx="561.8" cy="815.2" r="6.95"/>
<circle cx="377.6" cy="479.0" r="6.95"/>
</g>
<g fill="#fbf0e9">
<circle cx="758.5" cy="744.0" r="6.95"/>
<circle cx="896.0" cy="884.7" r="6.95"/>
<circle cx="619.4" cy="232.4" r="6.95"/>
<circle cx="783.5" cy="647.3" r="6.95"/>
<circle cx="790.7" cy="975.0" r="6.95"/>
<circle cx="834.8" cy="933.9" r="6.95"/>
<circle cx="300.3" cy="282.3" r="6.95"/>
<circle cx="297.7" cy="398.5" r="6.95"/>
<circle cx="417.1" cy="305.3" r="6.95"/>
<circle cx="383.9" cy="451.7" r="6.95"/>
<circle cx="356.4" cy="251.9" r="6.95"/>
<circle cx="636.5" cy="826.3" r="6.95"/>
<circle cx="584.2" cy="258.6" r="6.95"/>
<circle cx="729.5" cy="760.3" r="6.95"/>
<circle cx="438.5" cy="360.4" r="6.95"/>
<circle cx="546.7" cy="395.1" r="6.95"/>
<circle cx="482.7" cy="905.4" r="6.95"/>
<circle cx="625.7" cy="1006.6" r="6.95"/>
<circle cx="465.6" cy="344.5" r="6.95"/>
<circle cx="776.0" cy="289.8" r="6.95"/>
<circle cx="387.9" cy="545.7" r="6.95"/>
<circle cx="351.7" cy="294.9" r="6.95"/>
<circle cx="617.2" cy="215.9" r="6.95"/>
<circle cx="609.0" cy="762.9" r="6.95"/>
<circle cx="506.4" cy="978.9" r="6.95"/>
<circle cx="374.5" cy="331.6" r="6.95"/>
<circle cx="762.1" cy="273.4" r="6.95"/>
<circle cx="1015.7" cy="807.7" r="6.95"/>
<circle cx="949.8" cy="407.0" r="6.95"/>
<circle cx="569.7" cy="833.9" r="6.95"/>
<circle cx="629.2" cy="211.1" r="6.95"/>
<circle cx="550.7" cy="1013.9" r="6.95"/>
<circle cx="942.5" cy="831.8" r="6.95"/>
<circle cx="926.8" cy="830.6" r="6.95"/>
<circle cx="862.7" cy="875.2" r="6.95"/>
<circle cx="872.4" cy="350.1" r="6.95"/>
<circle cx="966.6" cy="825.3" r="6.95"/>
<circle cx="296.6" cy="403.1" r="6.95"/>
<circle cx="352.9" cy="285.8" r="6.95"/>
</g>
<g fill="#fcf0e9">
<circle cx="327.0" cy="385.9" r="6.95"/>
<circle cx="641.3" cy="807.7" r="6.95"/>
<circle cx="384.0" cy="449.5" r="6.95"/>
<circle cx="987.5" cy="778.0" r="6.95"/>
</g>
<g fill="#fcf0e8">
<circle cx="803.9" cy="763.5" r="6.95"/>
</g>
<g fill="#fcefe8">
<circle cx="712.2" cy="1063.4" r="6.95"/>
<circle cx="1014.8" cy="266.7" r="6.95"/>
<circle cx="330.8" cy="293.0" r="6.95"/>
<circle cx="668.0" cy="1022.5" r="6.95"/>
<circle cx="314.5" cy="501.2" r="6.95"/>
<circle cx="761.6" cy="857.4" r="6.95"/>
<circle cx="981.9" cy="860.1" r="6.95"/>
<circle cx="359.5" cy="753.6" r="6.95"/>
<circle cx="378.1" cy="518.4" r="6.95"/>
<circle cx="865.0" cy="877.9" r="6.95"/>
<circle cx="840.9" cy="830.2" r="6.95"/>
<circle cx="734.5" cy="309.4" r="6.95"/>
<circle cx="840.5" cy="843.4" r="6.95"/>
<circle cx="486.4" cy="719.5" r="6.95"/>
<circle cx="980.3" cy="428.7" r="6.95"/>
<circle cx="366.2" cy="754.8" r="6.95"/>
<circle cx="579.9" cy="274.2" r="6.95"/>
<circle cx="848.8" cy="343.3" r="6.95"/>
<circle cx="330.6" cy="340.4" r="6.95"/>
<circle cx="655.9" cy="1049.0" r="6.95"/>
<circle cx="761.0" cy="819.2" r="6.95"/>
<circle cx="798.4" cy="306.2" r="6.95"/>
<circle cx="420.7" cy="297.8" r="6.95"/>
<circle cx="686.2" cy="806.7" r="6.95"/>
<circle cx="570.8" cy="993.4" r="6.95"/>
</g>
<g fill="#fcefe7">
<circle cx="851.4" cy="527.3" r="6.95"/>
<circle cx="911.2" cy="866.7" r="6.95"/>
<circle cx="538.6" cy="216.0" r="6.95"/>
<circle cx="685.8" cy="827.4" r="6.95"/>
<circle cx="905.5" cy="800.8" r="6.95"/>
<circle cx="716.8" cy="759.5" r="6.95"/>
<circle cx="871.9" cy="442.9" r="6.95"/>
<circle cx="824.1" cy="314.3" r="6.95"/>
<circle cx="803.5" cy="796.5" r="6.95"/>
<circle cx="858.5" cy="812.2" r="6.95"/>
<circle cx="869.4" cy="350.7" r="6.95"/>
<circle cx="695.5" cy="294.8" r="6.95"/>
<circle cx="599.6" cy="982.1" r="6.95"/>
<circle cx="802.1" cy="716.9" r="6.95"/>
<circle cx="397.6" cy="386.7" r="6.95"/>
<circle cx="785.7" cy="821.2" r="6.95"/>
<circle cx="343.3" cy="335.4" r="6.95"/>
<circle cx="590.4" cy="844.2" r="6.95"/>
<circle cx="682.4" cy="766.5" r="6.95"/>
<circle cx="935.2" cy="291.2" r="6.95"/>
<circle cx="920.0" cy="923.5" r="6.95"/>
<circle cx="716.4" cy="269.3" r="6.95"/>
<circle cx="509.0" cy="908.9" r="6.95"/>
<circle cx="575.6" cy="952.4" r="6.95"/>
<circle cx="849.8" cy="915.4" r="6.95"/>
<circle cx="846.7" cy="870.8" r="6.95"/>
<circle cx="473.2" cy="864.1" r="6.95"/>
<circle cx="854.6" cy="912.3" r="6.95"/>
<circle cx="739.6" cy="842.2" r="6.95"/>
<circle cx="356.7" cy="302.1" r="6.95"/>
<circle cx="534.0" cy="987.6" r="6.95"/>
<circle cx="399.2" cy="354.9" r="6.95"/>
<circle cx="698.8" cy="815.5" r="6.95"/>
<circle cx="475.0" cy="257.5" r="6.95"/>
</g>
<g fill="#fceee7">
<circle cx="950.0" cy="882.0" r="6.95"/>
<circle cx="888.9" cy="823.0" r="6.95"/>
<circle cx="1022.3" cy="481.8" r="6.95"/>
<circle cx="432.2" cy="537.0" r="6.95"/>
<circle cx="774.7" cy="791.6" r="6.95"/>
<circle cx="856.8" cy="816.0" r="6.95"/>
<circle cx="554.1" cy="765.5" r="6.95"/>
<circle cx="744.3" cy="240.3" r="6.95"/>
<circle cx="327.0" cy="325.1" r="6.95"/>
</g>
<g fill="#fceee6">
<circle cx="586.6" cy="856.2" r="6.95"/>
<circle cx="810.7" cy="337.4" r="6.95"/>
<circle cx="690.5" cy="839.7" r="6.95"/>
<circle cx="530.7" cy="303.3" r="6.95"/>
<circle cx="640.3" cy="807.4" r="6.95"/>
<circle cx="675.7" cy="880.8" r="6.95"/>
<circle cx="1001.9" cy="435.5" r="6.95"/>
<circle cx="656.1" cy="1019.7" r="6.95"/>
<circle cx="664.8" cy="976.5" r="6.95"/>
<circle cx="1048.1" cy="475.0" r="6.95"/>
<circle cx="884.2" cy="452.9" r="6.95"/>
<circle cx="986.1" cy="461.8" r="6.95"/>
<circle cx="531.0" cy="205.1" r="6.95"/>
<circle cx="525.9" cy="968.0" r="6.95"/>
<circle cx="915.3" cy="411.6" r="6.95"/>
<circle cx="407.4" cy="403.5" r="6.95"/>
<circle cx="531.2" cy="283.3" r="6.95"/>
<circle cx="624.3" cy="834.8" r="6.95"/>
<circle cx="279.8" cy="346.5" r="6.95"/>
<circle cx="533.3" cy="323.5" r="6.95"/>
<circle cx="501.9" cy="929.8" r="6.95"/>
<circle cx="759.1" cy="1025.6" r="6.95"/>
<circle cx="564.8" cy="866.6" r="6.95"/>
<circle cx="545.7" cy="975.7" r="6.95"/>
<circle cx="206.3" cy="410.1" r="6.95"/>
<circle cx="480.6" cy="267.1" r="6.95"/>
<circle cx="811.8" cy="293.2" r="6.95"/>
<circle cx="768.5" cy="770.3" r="6.95"/>
<circle cx="845.2" cy="542.7" r="6.95"/>
<circle cx="1004.3" cy="807.9" r="6.95"/>
<circle cx="614.1" cy="779.8" r="6.95"/>
<circle cx="744.8" cy="237.3" r="6.95"/>
<circle cx="753.3" cy="668.7" r="6.95"/>
<circle cx="580.5" cy="751.3" r="6.95"/>
<circle cx="560.9" cy="205.7" r="6.95"/>
<circle cx="1056.3" cy="469.4" r="6.95"/>
</g>
<g fill="#fceee5">
<circle cx="638.0" cy="216.6" r="6.95"/>
<circle cx="1064.7" cy="467.6" r="6.95"/>
<circle cx="391.1" cy="308.6" r="6.95"/>
<circle cx="604.4" cy="281.4" r="6.95"/>
<circle cx="299.7" cy="426.2" r="6.95"/>
<circle cx="555.9" cy="494.4" r="6.95"/>
<circle cx="349.8" cy="433.0" r="6.95"/>
<circle cx="1012.4" cy="328.1" r="6.95"/>
<circle cx="929.0" cy="812.6" r="6.95"/>
<circle cx="338.0" cy="507.6" r="6.95"/>
<circle cx="733.8" cy="793.7" r="6.95"/>
<circle cx="748.0" cy="786.7" r="6.95"/>
<circle cx="905.0" cy="938.0" r="6.95"/>
<circle cx="584.7" cy="789.8" r="6.95"/>
<circle cx="974.3" cy="295.7" r="6.95"/>
</g>
<g fill="#fcede5">
<circle cx="534.0" cy="1028.2" r="6.95"/>
<circle cx="227.5" cy="327.2" r="6.95"/>
<circle cx="636.1" cy="950.2" r="6.95"/>
<circle cx="994.0" cy="457.0" r="6.95"/>
<circle cx="720.5" cy="718.4" r="6.95"/>
<circle cx="574.4" cy="950.2" r="6.95"/>
<circle cx="336.6" cy="366.8" r="6.95"/>
<circle cx="436.6" cy="251.1" r="6.95"/>
<circle cx="669.0" cy="831.5" r="6.95"/>
<circle cx="920.3" cy="856.2" r="6.95"/>
<circle cx="996.7" cy="316.6" r="6.95"/>
<circle cx="821.0" cy="342.5" r="6.95"/>
<circle cx="839.6" cy="284.3" r="6.95"/>
<circle cx="924.8" cy="913.6" r="6.95"/>
<circle cx="817.3" cy="287.8" r="6.95"/>
<circle cx="218.4" cy="389.1" r="6.95"/>
<circle cx="632.0" cy="810.7" r="6.95"/>
<circle cx="572.6" cy="884.4" r="6.95"/>
<circle cx="973.7" cy="430.8" r="6.95"/>
<circle cx="414.5" cy="753.5" r="6.95"/>
<circle cx="630.6" cy="995.1" r="6.95"/>
</g>
<g fill="#fcede4">
<circle cx="431.9" cy="290.3" r="6.95"/>
<circle cx="605.2" cy="1004.0" r="6.95"/>
<circle cx="941.3" cy="878.0" r="6.95"/>
<circle cx="838.1" cy="894.1" r="6.95"/>
<circle cx="940.5" cy="842.5" r="6.95"/>
<circle cx="793.5" cy="957.8" r="6.95"/>
<circle cx="1064.0" cy="469.7" r="6.95"/>
<circle cx="1117.3" cy="476.1" r="6.95"/>
<circle cx="463.7" cy="755.7" r="6.95"/>
<circle cx="672.6" cy="279.9" r="6.95"/>
<circle cx="577.0" cy="262.7" r="6.95"/>
<circle cx="697.1" cy="740.5" r="6.95"/>
<circle cx="973.7" cy="806.8" r="6.95"/>
<circle cx="703.4" cy="816.3" r="6.95"/>
<circle cx="548.0" cy="293.7" r="6.95"/>
<circle cx="961.8" cy="423.6" r="6.95"/>
<circle cx="575.5" cy="1061.1" r="6.95"/>
<circle cx="837.5" cy="840.3" r="6.95"/>
<circle cx="783.1" cy="922.7" r="6.95"/>
<circle cx="759.3" cy="1016.9" r="6.95"/>
<circle cx="309.9" cy="382.9" r="6.95"/>
<circle cx="952.7" cy="674.1" r="6.95"/>
<circle cx="875.9" cy="387.4" r="6.95"/>
<circle cx="439.3" cy="264.6" r="6.95"/>
<circle cx="820.5" cy="324.3" r="6.95"/>
<circle cx="677.0" cy="1068.2" r="6.95"/>
<circle cx="991.4" cy="261.5" r="6.95"/>
<circle cx="461.4" cy="759.6" r="6.95"/>
<circle cx="596.2" cy="1029.5" r="6.95"/>
<circle cx="950.2" cy="340.0" r="6.95"/>
<circle cx="773.8" cy="260.2" r="6.95"/>
</g>
<g fill="#fcede3">
<circle cx="547.2" cy="969.2" r="6.95"/>
<circle cx="1073.4" cy="488.2" r="6.95"/>
<circle cx="533.6" cy="1032.5" r="6.95"/>
<circle cx="665.2" cy="827.6" r="6.95"/>
<circle cx="330.6" cy="452.2" r="6.95"/>
<circle cx="384.9" cy="280.3" r="6.95"/>
</g>
<g fill="#fcece3">
<circle cx="912.4" cy="848.3" r="6.95"/>
<circle cx="361.6" cy="275.8" r="6.95"/>
<circle cx="733.5" cy="770.8" r="6.95"/>
<circle cx="425.4" cy="261.7" r="6.95"/>
<circle cx="524.3" cy="217.2" r="6.95"/>
<circle cx="948.1" cy="790.4" r="6.95"/>
<circle cx="1066.8" cy="443.6" r="6.95"/>
<circle cx="200.4" cy="424.0" r="6.95"/>
<circle cx="680.4" cy="705.6" r="6.95"/>
<circle cx="680.7" cy="1064.7" r="6.95"/>
<circle cx="573.4" cy="831.7" r="6.95"/>
<circle cx="1042.6" cy="270.9" r="6.95"/>
<circle cx="988.5" cy="772.9" r="6.95"/>
<circle cx="591.3" cy="988.6" r="6.95"/>
<circle cx="911.3" cy="322.8" r="6.95"/>
<circle cx="546.0" cy="879.4" r="6.95"/>
<circle cx="789.3" cy="890.6" r="6.95"/>
<circle cx="677.2" cy="697.2" r="6.95"/>
<circle cx="515.7" cy="197.1" r="6.95"/>
<circle cx="863.1" cy="944.6" r="6.95"/>
<circle cx="875.5" cy="818.2" r="6.95"/>
<circle cx="956.6" cy="887.2" r="6.95"/>
</g>
<g fill="#fcece2">
<circle cx="410.4" cy="395.8" r="6.95"/>
<circle cx="343.8" cy="465.8" r="6.95"/>
<circle cx="645.5" cy="963.6" r="6.95"/>
<circle cx="710.0" cy="719.1" r="6.95"/>
<circle cx="312.6" cy="356.1" r="6.95"/>
<circle cx="587.7" cy="776.6" r="6.95"/>
<circle cx="932.3" cy="821.6" r="6.95"/>
<circle cx="479.1" cy="898.8" r="6.95"/>
<circle cx="987.6" cy="312.6" r="6.95"/>
<circle cx="900.0" cy="792.7" r="6.95"/>
<circle cx="645.9" cy="1084.3" r="6.95"/>
<circle cx="980.9" cy="409.1" r="6.95"/>
<circle cx="1051.7" cy="448.9" r="6.95"/>
<circle cx="499.6" cy="313.3" r="6.95"/>
<circle cx="715.2" cy="826.0" r="6.95"/>
<circle cx="595.0" cy="783.5" r="6.95"/>
<circle cx="384.6" cy="329.2" r="6.95"/>
<circle cx="621.1" cy="242.9" r="6.95"/>
<circle cx="505.3" cy="286.5" r="6.95"/>
<circle cx="299.3" cy="392.7" r="6.95"/>
<circle cx="639.2" cy="975.2" r="6.95"/>
<circle cx="696.4" cy="579.2" r="6.95"/>
<circle cx="793.8" cy="890.6" r="6.95"/>
<circle cx="848.7" cy="818.8" r="6.95"/>
<circle cx="753.2" cy="768.7" r="6.95"/>
<circle cx="576.7" cy="234.4" r="6.95"/>
<circle cx="856.6" cy="948.4" r="6.95"/>
<circle cx="391.8" cy="412.1" r="6.95"/>
<circle cx="900.9" cy="375.2" r="6.95"/>
<circle cx="545.4" cy="930.0" r="6.95"/>
</g>
<g fill="#fcebe2">
<circle cx="1033.3" cy="454.9" r="6.95"/>
<circle cx="957.4" cy="284.6" r="6.95"/>
<circle cx="722.4" cy="275.8" r="6.95"/>
<circle cx="843.9" cy="816.1" r="6.95"/>
</g>
<g fill="#fcebe1">
<circle cx="338.0" cy="505.3" r="6.95"/>
<circle cx="603.9" cy="809.2" r="6.95"/>
<circle cx="336.3" cy="404.0" r="6.95"/>
<circle cx="649.3" cy="968.9" r="6.95"/>
<circle cx="355.1" cy="423.0" r="6.95"/>
<circle cx="577.7" cy="983.4" r="6.95"/>
<circle cx="912.8" cy="808.9" r="6.95"/>
<circle cx="995.0" cy="776.2" r="6.95"/>
<circle cx="904.7" cy="934.1" r="6.95"/>
<circle cx="835.8" cy="877.7" r="6.95"/>
<circle cx="292.6" cy="330.8" r="6.95"/>
<circle cx="762.4" cy="772.1" r="6.95"/>
<circle cx="447.9" cy="293.4" r="6.95"/>
<circle cx="421.3" cy="862.1" r="6.95"/>
<circle cx="1094.8" cy="486.7" r="6.95"/>
<circle cx="403.5" cy="308.7" r="6.95"/>
<circle cx="952.8" cy="869.2" r="6.95"/>
<circle cx="827.4" cy="760.6" r="6.95"/>
<circle cx="407.4" cy="233.7" r="6.95"/>
<circle cx="442.3" cy="361.1" r="6.95"/>
<circle cx="336.1" cy="390.9" r="6.95"/>
</g>
<g fill="#fdebe1">
<circle cx="960.6" cy="426.1" r="6.95"/>
<circle cx="390.0" cy="843.0" r="6.95"/>
<circle cx="550.5" cy="966.9" r="6.95"/>
</g>
<g fill="#fdebe0">
<circle cx="378.1" cy="371.4" r="6.95"/>
<circle cx="625.6" cy="213.0" r="6.95"/>
<circle cx="220.4" cy="395.0" r="6.95"/>
<circle cx="543.2" cy="970.3" r="6.95"/>
<circle cx="551.2" cy="954.9" r="6.95"/>
<circle cx="681.0" cy="704.9" r="6.95"/>
<circle cx="690.1" cy="1061.2" r="6.95"/>
<circle cx="432.5" cy="342.7" r="6.95"/>
<circle cx="607.6" cy="810.6" r="6.95"/>
<circle cx="742.0" cy="802.0" r="6.95"/>
<circle cx="644.5" cy="1069.7" r="6.95"/>
<circle cx="526.2" cy="196.8" r="6.95"/>
<circle cx="333.4" cy="461.4" r="6.95"/>
<circle cx="805.6" cy="853.9" r="6.95"/>
<circle cx="824.1" cy="937.6" r="6.95"/>
<circle cx="416.6" cy="396.3" r="6.95"/>
<circle cx="628.9" cy="826.5" r="6.95"/>
</g>
<g fill="#fdeae0">
<circle cx="903.7" cy="934.5" r="6.95"/>
<circle cx="594.4" cy="987.5" r="6.95"/>
<circle cx="694.3" cy="775.1" r="6.95"/>
<circle cx="746.3" cy="283.9" r="6.95"/>
<circle cx="811.8" cy="337.0" r="6.95"/>
<circle cx="374.7" cy="361.2" r="6.95"/>
<circle cx="888.9" cy="364.9" r="6.95"/>
<circle cx="748.2" cy="658.2" r="6.95"/>
<circle cx="332.5" cy="282.7" r="6.95"/>
<circle cx="604.5" cy="294.9" r="6.95"/>
<circle cx="658.4" cy="723.3" r="6.95"/>
</g>
<g fill="#fdeadf">
<circle cx="784.1" cy="825.0" r="6.95"/>
<circle cx="581.4" cy="932.0" r="6.95"/>
<circle cx="913.2" cy="390.4" r="6.95"/>
<circle cx="636.1" cy="795.7" r="6.95"/>
<circle cx="807.0" cy="850.8" r="6.95"/>
<circle cx="1000.4" cy="789.7" r="6.95"/>
<circle cx="650.2" cy="1069.4" r="6.95"/>
<circle cx="324.7" cy="335.9" r="6.95"/>
<circle cx="594.6" cy="235.7" r="6.95"/>
<circle cx="583.6" cy="280.7" r="6.95"/>
<circle cx="357.9" cy="299.0" r="6.95"/>
<circle cx="799.4" cy="294.5" r="6.95"/>
<circle cx="925.8" cy="780.3" r="6.95"/>
<circle cx="420.9" cy="925.2" r="6.95"/>
<circle cx="630.5" cy="749.6" r="6.95"/>
<circle cx="960.6" cy="895.0" r="6.95"/>
<circle cx="1023.5" cy="478.2" r="6.95"/>
<circle cx="329.5" cy="345.1" r="6.95"/>
<circle cx="972.0" cy="318.1" r="6.95"/>
<circle cx="322.8" cy="498.2" r="6.95"/>
<circle cx="384.0" cy="374.9" r="6.95"/>
<circle cx="977.4" cy="328.0" r="6.95"/>
<circle cx="1023.9" cy="303.7" r="6.95"/>
<circle cx="632.5" cy="1054.7" r="6.95"/>
<circle cx="873.7" cy="381.9" r="6.95"/>
<circle cx="671.9" cy="846.6" r="6.95"/>
<circle cx="534.3" cy="933.8" r="6.95"/>
<circle cx="619.0" cy="756.8" r="6.95"/>
<circle cx="734.1" cy="817.3" r="6.95"/>
<circle cx="807.0" cy="747.1" r="6.95"/>
<circle cx="458.8" cy="291.8" r="6.95"/>
</g>
<g fill="#fdeade">
<circle cx="919.1" cy="836.3" r="6.95"/>
<circle cx="364.8" cy="334.9" r="6.95"/>
<circle cx="597.8" cy="1021.4" r="6.95"/>
<circle cx="562.3" cy="955.3" r="6.95"/>
<circle cx="878.6" cy="855.8" r="6.95"/>
<circle cx="592.4" cy="958.3" r="6.95"/>
<circle cx="350.3" cy="274.8" r="6.95"/>
<circle cx="478.4" cy="338.6" r="6.95"/>
<circle cx="312.7" cy="306.2" r="6.95"/>
<circle cx="405.4" cy="456.0" r="6.95"/>
<circle cx="547.2" cy="308.1" r="6.95"/>
<circle cx="819.3" cy="838.8" r="6.95"/>
<circle cx="727.2" cy="745.6" r="6.95"/>
<circle cx="1029.2" cy="823.1" r="6.95"/>
<circle cx="970.9" cy="822.6" r="6.95"/>
</g>
<g fill="#fde9de">
<circle cx="631.3" cy="732.1" r="6.95"/>
<circle cx="1074.2" cy="481.2" r="6.95"/>
<circle cx="787.4" cy="880.0" r="6.95"/>
<circle cx="879.6" cy="505.4" r="6.95"/>
<circle cx="646.3" cy="235.9" r="6.95"/>
<circle cx="783.9" cy="800.3" r="6.95"/>
<circle cx="379.3" cy="328.6" r="6.95"/>
<circle cx="1030.8" cy="326.9" r="6.95"/>
<circle cx="839.7" cy="852.7" r="6.95"/>
<circle cx="539.7" cy="203.0" r="6.95"/>
<circle cx="792.1" cy="279.9" r="6.95"/>
<circle cx="642.7" cy="1028.2" r="6.95"/>
<circle cx="811.5" cy="286.7" r="6.95"/>
<circle cx="940.2" cy="459.7" r="6.95"/>
<circle cx="892.4" cy="847.5" r="6.95"/>
<circle cx="698.4" cy="844.9" r="6.95"/>
<circle cx="873.7" cy="919.1" r="6.95"/>
<circle cx="840.2" cy="948.6" r="6.95"/>
<circle cx="909.8" cy="875.7" r="6.95"/>
</g>
<g fill="#fde9dd">
<circle cx="678.3" cy="211.9" r="6.95"/>
<circle cx="854.0" cy="514.9" r="6.95"/>
<circle cx="717.8" cy="836.6" r="6.95"/>
<circle cx="1072.1" cy="481.5" r="6.95"/>
<circle cx="603.2" cy="297.3" r="6.95"/>
<circle cx="888.7" cy="526.9" r="6.95"/>
<circle cx="590.6" cy="259.6" r="6.95"/>
<circle cx="369.9" cy="484.2" r="6.95"/>
<circle cx="828.9" cy="862.2" r="6.95"/>
<circle cx="986.5" cy="844.3" r="6.95"/>
<circle cx="530.9" cy="289.2" r="6.95"/>
<circle cx="874.1" cy="927.8" r="6.95"/>
<circle cx="601.0" cy="226.2" r="6.95"/>
<circle cx="775.4" cy="764.7" r="6.95"/>
<circle cx="1046.0" cy="323.7" r="6.95"/>
<circle cx="688.5" cy="762.9" r="6.95"/>
<circle cx="689.4" cy="1075.0" r="6.95"/>
<circle cx="578.7" cy="863.6" r="6.95"/>
<circle cx="624.8" cy="733.9" r="6.95"/>
<circle cx="780.6" cy="932.6" r="6.95"/>
</g>
<g fill="#fde9dc">
<circle cx="1003.3" cy="781.4" r="6.95"/>
<circle cx="685.2" cy="776.9" r="6.95"/>
</g>
<g fill="#fde8dc">
<circle cx="505.2" cy="259.5" r="6.95"/>
<circle cx="323.7" cy="279.1" r="6.95"/>
<circle cx="419.4" cy="273.7" r="6.95"/>
<circle cx="408.2" cy="324.8" r="6.95"/>
<circle cx="957.7" cy="843.5" r="6.95"/>
<circle cx="816.5" cy="958.0" r="6.95"/>
<circle cx="1056.7" cy="438.7" r="6.95"/>
<circle cx="614.0" cy="737.7" r="6.95"/>
<circle cx="839.2" cy="819.0" r="6.95"/>
<circle cx="794.5" cy="892.8" r="6.95"/>
<circle cx="960.4" cy="815.1" r="6.95"/>
<circle cx="721.6" cy="794.2" r="6.95"/>
<circle cx="584.4" cy="1083.2" r="6.95"/>
<circle cx="695.2" cy="1067.5" r="6.95"/>
<circle cx="529.0" cy="933.3" r="6.95"/>
<circle cx="631.8" cy="264.1" r="6.95"/>
<circle cx="932.0" cy="403.6" r="6.95"/>
</g>
<g fill="#fde8db">
<circle cx="906.8" cy="923.9" r="6.95"/>
<circle cx="1080.7" cy="481.1" r="6.95"/>
<circle cx="678.6" cy="756.4" r="6.95"/>
<circle cx="548.7" cy="272.4" r="6.95"/>
<circle cx="1032.7" cy="461.2" r="6.95"/>
<circle cx="824.6" cy="806.6" r="6.95"/>
<circle cx="783.4" cy="863.8" r="6.95"/>
<circle cx="1011.0" cy="327.1" r="6.95"/>
<circle cx="812.8" cy="663.9" r="6.95"/>
<circle cx="498.7" cy="287.1" r="6.95"/>
<circle cx="769.6" cy="313.1" r="6.95"/>
<circle cx="778.3" cy="963.8" r="6.95"/>
<circle cx="626.4" cy="731.3" r="6.95"/>
<circle cx="674.5" cy="236.1" r="6.95"/>
<circle cx="395.1" cy="245.1" r="6.95"/>
<circle cx="1042.6" cy="327.8" r="6.95"/>
</g>
<g fill="#fde7db">
<circle cx="658.9" cy="749.8" r="6.95"/>
<circle cx="360.5" cy="396.9" r="6.95"/>
<circle cx="738.4" cy="755.8" r="6.95"/>
<circle cx="591.7" cy="947.6" r="6.95"/>
<circle cx="911.1" cy="488.8" r="6.95"/>
<circle cx="515.8" cy="1022.2" r="6.95"/>
<circle cx="738.4" cy="797.4" r="6.95"/>
<circle cx="778.6" cy="891.9" r="6.95"/>
</g>
<g fill="#fde7da">
<circle cx="830.2" cy="851.3" r="6.95"/>
<circle cx="745.9" cy="250.7" r="6.95"/>
<circle cx="658.0" cy="732.1" r="6.95"/>
<circle cx="818.6" cy="963.7" r="6.95"/>
<circle cx="487.9" cy="282.7" r="6.95"/>
<circle cx="326.4" cy="294.1" r="6.95"/>
<circle cx="689.0" cy="320.5" r="6.95"/>
<circle cx="894.8" cy="814.9" r="6.95"/>
<circle cx="514.2" cy="966.0" r="6.95"/>
<circle cx="1024.4" cy="319.6" r="6.95"/>
<circle cx="483.1" cy="256.2" r="6.95"/>
<circle cx="790.4" cy="777.5" r="6.95"/>
<circle cx="403.4" cy="242.8" r="6.95"/>
<circle cx="658.1" cy="752.2" r="6.95"/>
<circle cx="880.8" cy="855.7" r="6.95"/>
<circle cx="655.2" cy="879.5" r="6.95"/>
<circle cx="824.8" cy="318.4" r="6.95"/>
<circle cx="1020.2" cy="779.8" r="6.95"/>
<circle cx="419.3" cy="248.4" r="6.95"/>
<circle cx="762.6" cy="650.2" r="6.95"/>
<circle cx="782.4" cy="763.0" r="6.95"/>
<circle cx="940.8" cy="443.6" r="6.95"/>
<circle cx="956.5" cy="659.3" r="6.95"/>
<circle cx="300.5" cy="307.1" r="6.95"/>
<circle cx="1011.6" cy="263.3" r="6.95"/>
<circle cx="651.2" cy="764.6" r="6.95"/>
<circle cx="952.8" cy="876.6" r="6.95"/>
<circle cx="359.4" cy="377.3" r="6.95"/>
<circle cx="520.3" cy="258.3" r="6.95"/>
<circle cx="713.3" cy="748.3" r="6.95"/>
</g>
<g fill="#fde7d9">
<circle cx="733.3" cy="795.4" r="6.95"/>
<circle cx="543.3" cy="400.2" r="6.95"/>
<circle cx="579.5" cy="1076.4" r="6.95"/>
<circle cx="571.6" cy="267.2" r="6.95"/>
<circle cx="689.7" cy="794.6" r="6.95"/>
<circle cx="612.9" cy="260.5" r="6.95"/>
<circle cx="642.2" cy="291.9" r="6.95"/>
<circle cx="789.9" cy="936.7" r="6.95"/>
<circle cx="679.8" cy="249.4" r="6.95"/>
<circle cx="757.0" cy="317.4" r="6.95"/>
<circle cx="928.9" cy="320.6" r="6.95"/>
<circle cx="866.9" cy="405.9" r="6.95"/>
<circle cx="584.2" cy="802.9" r="6.95"/>
<circle cx="798.9" cy="827.6" r="6.95"/>
<circle cx="721.6" cy="1061.0" r="6.95"/>
<circle cx="724.8" cy="752.7" r="6.95"/>
</g>
<g fill="#fde6d9">
<circle cx="545.0" cy="222.3" r="6.95"/>
<circle cx="652.7" cy="1002.1" r="6.95"/>
<circle cx="725.8" cy="816.2" r="6.95"/>
<circle cx="588.6" cy="795.6" r="6.95"/>
<circle cx="446.1" cy="335.5" r="6.95"/>
<circle cx="946.5" cy="294.0" r="6.95"/>
<circle cx="807.3" cy="856.9" r="6.95"/>
<circle cx="294.6" cy="381.7" r="6.95"/>
<circle cx="665.4" cy="1016.7" r="6.95"/>
<circle cx="778.6" cy="839.4" r="6.95"/>
</g>
<g fill="#fee6d9">
<circle cx="388.7" cy="929.7" r="6.95"/>
<circle cx="325.2" cy="285.0" r="6.95"/>
</g>
<g fill="#fee6d8">
<circle cx="571.1" cy="245.6" r="6.95"/>
<circle cx="621.0" cy="1064.4" r="6.95"/>
<circle cx="450.0" cy="276.9" r="6.95"/>
<circle cx="909.7" cy="881.6" r="6.95"/>
<circle cx="616.8" cy="973.0" r="6.95"/>
<circle cx="813.3" cy="263.0" r="6.95"/>
<circle cx="552.5" cy="988.0" r="6.95"/>
<circle cx="807.9" cy="834.6" r="6.95"/>
<circle cx="767.6" cy="822.7" r="6.95"/>
<circle cx="800.3" cy="827.0" r="6.95"/>
<circle cx="806.8" cy="804.4" r="6.95"/>
<circle cx="460.1" cy="318.5" r="6.95"/>
<circle cx="388.6" cy="488.0" r="6.95"/>
<circle cx="492.8" cy="910.5" r="6.95"/>
<circle cx="701.0" cy="376.0" r="6.95"/>
<circle cx="706.0" cy="391.0" r="6.95"/>
<circle cx="414.4" cy="755.0" r="6.95"/>
<circle cx="917.4" cy="878.4" r="6.95"/>
</g>
<g fill="#fee6d7">
<circle cx="564.9" cy="945.9" r="6.95"/>
<circle cx="952.5" cy="420.3" r="6.95"/>
<circle cx="483.3" cy="291.0" r="6.95"/>
<circle cx="566.4" cy="948.3" r="6.95"/>
</g>
<g fill="#fee5d7">
<circle cx="403.4" cy="364.9" r="6.95"/>
<circle cx="501.2" cy="972.5" r="6.95"/>
<circle cx="840.3" cy="920.0" r="6.95"/>
<circle cx="677.8" cy="311.3" r="6.95"/>
<circle cx="867.5" cy="516.5" r="6.95"/>
<circle cx="423.8" cy="241.3" r="6.95"/>
<circle cx="660.0" cy="783.2" r="6.95"/>
</g>
<g fill="#fde5d7">
<circle cx="716.3" cy="268.3" r="6.95"/>
<circle cx="1057.7" cy="386.3" r="6.95"/>
<circle cx="493.9" cy="894.6" r="6.95"/>
<circle cx="720.2" cy="275.9" r="6.95"/>
<circle cx="530.3" cy="1045.4" r="6.95"/>
<circle cx="798.2" cy="853.4" r="6.95"/>
<circle cx="598.5" cy="967.4" r="6.95"/>
</g>
<g fill="#fde5d6">
<circle cx="664.6" cy="223.4" r="6.95"/>
<circle cx="805.9" cy="917.2" r="6.95"/>
<circle cx="1013.7" cy="271.5" r="6.95"/>
<circle cx="557.2" cy="226.1" r="6.95"/>
<circle cx="590.4" cy="1012.6" r="6.95"/>
<circle cx="885.7" cy="406.5" r="6.95"/>
<circle cx="825.8" cy="853.1" r="6.95"/>
<circle cx="405.6" cy="326.2" r="6.95"/>
</g>
<g fill="#fde4d6">
<circle cx="321.0" cy="517.4" r="6.95"/>
<circle cx="642.9" cy="805.7" r="6.95"/>
<circle cx="1066.7" cy="448.6" r="6.95"/>
<circle cx="784.3" cy="265.4" r="6.95"/>
<circle cx="752.4" cy="256.6" r="6.95"/>
<circle cx="352.4" cy="363.2" r="6.95"/>
<circle cx="720.0" cy="251.8" r="6.95"/>
<circle cx="916.3" cy="831.4" r="6.95"/>
<circle cx="895.2" cy="917.0" r="6.95"/>
<circle cx="791.9" cy="874.6" r="6.95"/>
<circle cx="797.5" cy="269.7" r="6.95"/>
</g>
<g fill="#fde4d5">
<circle cx="866.9" cy="869.5" r="6.95"/>
<circle cx="922.1" cy="395.6" r="6.95"/>
<circle cx="814.7" cy="797.6" r="6.95"/>
<circle cx="713.8" cy="772.4" r="6.95"/>
</g>
<g fill="#fde3d5">
<circle cx="485.6" cy="247.1" r="6.95"/>
<circle cx="678.5" cy="704.5" r="6.95"/>
<circle cx="885.6" cy="915.6" r="6.95"/>
<circle cx="490.1" cy="989.8" r="6.95"/>
<circle cx="619.7" cy="760.3" r="6.95"/>
</g>
<g fill="#fde3d4">
<circle cx="666.6" cy="768.3" r="6.95"/>
<circle cx="992.1" cy="443.0" r="6.95"/>
<circle cx="970.6" cy="878.9" r="6.95"/>
<circle cx="975.9" cy="439.3" r="6.95"/>
<circle cx="376.5" cy="919.9" r="6.95"/>
<circle cx="731.2" cy="313.3" r="6.95"/>
<circle cx="670.4" cy="727.9" r="6.95"/>
<circle cx="972.5" cy="798.8" r="6.95"/>
<circle cx="710.6" cy="861.0" r="6.95"/>
<circle cx="509.9" cy="201.2" r="6.95"/>
<circle cx="382.3" cy="942.9" r="6.95"/>
<circle cx="377.2" cy="757.9" r="6.95"/>
<circle cx="919.2" cy="382.8" r="6.95"/>
<circle cx="949.2" cy="871.0" r="6.95"/>
<circle cx="990.5" cy="294.9" r="6.95"/>
<circle cx="655.3" cy="833.6" r="6.95"/>
<circle cx="752.1" cy="787.3" r="6.95"/>
</g>
<g fill="#fde2d3">
<circle cx="809.6" cy="878.5" r="6.95"/>
<circle cx="520.1" cy="960.4" r="6.95"/>
<circle cx="1023.4" cy="433.9" r="6.95"/>
<circle cx="222.0" cy="462.3" r="6.95"/>
<circle cx="984.6" cy="814.1" r="6.95"/>
<circle cx="920.9" cy="515.0" r="6.95"/>
<circle cx="503.2" cy="916.4" r="6.95"/>
<circle cx="738.4" cy="1031.9" r="6.95"/>
<circle cx="750.1" cy="751.6" r="6.95"/>
<circle cx="451.6" cy="267.5" r="6.95"/>
<circle cx="829.2" cy="899.2" r="6.95"/>
<circle cx="559.7" cy="825.0" r="6.95"/>
<circle cx="516.7" cy="258.0" r="6.95"/>
<circle cx="647.1" cy="245.2" r="6.95"/>
<circle cx="803.5" cy="970.8" r="6.95"/>
<circle cx="496.3" cy="941.7" r="6.95"/>
<circle cx="423.8" cy="275.1" r="6.95"/>
<circle cx="787.6" cy="318.3" r="6.95"/>
<circle cx="783.1" cy="835.7" r="6.95"/>
</g>
<g fill="#fde2d2">
<circle cx="318.3" cy="378.7" r="6.95"/>
<circle cx="790.1" cy="879.8" r="6.95"/>
<circle cx="892.2" cy="360.6" r="6.95"/>
</g>
<g fill="#fde1d2">
<circle cx="717.7" cy="832.9" r="6.95"/>
<circle cx="1070.2" cy="497.9" r="6.95"/>
<circle cx="888.5" cy="400.5" r="6.95"/>
<circle cx="494.5" cy="975.6" r="6.95"/>
<circle cx="608.6" cy="218.8" r="6.95"/>
<circle cx="465.9" cy="265.1" r="6.95"/>
<circle cx="332.4" cy="303.9" r="6.95"/>
<circle cx="475.5" cy="312.4" r="6.95"/>
<circle cx="613.5" cy="952.3" r="6.95"/>
<circle cx="517.2" cy="313.1" r="6.95"/>
<circle cx="394.5" cy="366.5" r="6.95"/>
<circle cx="429.1" cy="334.3" r="6.95"/>
<circle cx="303.0" cy="294.8" r="6.95"/>
</g>
<g fill="#fde1d1">
<circle cx="672.6" cy="691.0" r="6.95"/>
<circle cx="536.9" cy="280.6" r="6.95"/>
<circle cx="599.7" cy="945.3" r="6.95"/>
<circle cx="395.1" cy="733.2" r="6.95"/>
<circle cx="444.4" cy="284.6" r="6.95"/>
<circle cx="796.3" cy="777.3" r="6.95"/>
<circle cx="526.6" cy="313.4" r="6.95"/>
<circle cx="508.1" cy="287.8" r="6.95"/>
<circle cx="773.9" cy="916.1" r="6.95"/>
<circle cx="673.0" cy="217.4" r="6.95"/>
<circle cx="498.4" cy="938.6" r="6.95"/>
<circle cx="332.5" cy="332.2" r="6.95"/>
<circle cx="661.0" cy="248.2" r="6.95"/>
</g>
<g fill="#fde0d1">
<circle cx="880.2" cy="367.8" r="6.95"/>
<circle cx="1083.2" cy="490.6" r="6.95"/>
<circle cx="396.7" cy="273.2" r="6.95"/>
<circle cx="415.8" cy="454.0" r="6.95"/>
<circle cx="565.9" cy="871.9" r="6.95"/>
<circle cx="625.5" cy="278.9" r="6.95"/>
<circle cx="952.2" cy="839.8" r="6.95"/>
<circle cx="410.5" cy="239.7" r="6.95"/>
<circle cx="966.8" cy="807.0" r="6.95"/>
<circle cx="659.6" cy="782.9" r="6.95"/>
<circle cx="1000.6" cy="316.9" r="6.95"/>
<circle cx="735.1" cy="302.4" r="6.95"/>
<circle cx="661.5" cy="739.8" r="6.95"/>
</g>
<g fill="#fde0d0">
<circle cx="838.4" cy="278.5" r="6.95"/>
<circle cx="718.0" cy="822.1" r="6.95"/>
<circle cx="703.8" cy="752.5" r="6.95"/>
<circle cx="501.0" cy="244.6" r="6.95"/>
<circle cx="365.8" cy="331.3" r="6.95"/>
<circle cx="935.7" cy="501.4" r="6.95"/>
<circle cx="355.8" cy="275.0" r="6.95"/>
<circle cx="633.6" cy="1050.2" r="6.95"/>
<circle cx="840.5" cy="935.5" r="6.95"/>
<circle cx="437.4" cy="270.9" r="6.95"/>
<circle cx="782.7" cy="785.9" r="6.95"/>
</g>
<g fill="#fddfd0">
<circle cx="525.1" cy="928.8" r="6.95"/>
<circle cx="571.2" cy="771.1" r="6.95"/>
<circle cx="355.5" cy="756.3" r="6.95"/>
<circle cx="863.2" cy="864.1" r="6.95"/>
</g>
<g fill="#fddfcf">
<circle cx="426.4" cy="291.1" r="6.95"/>
</g>
<g fill="#fcdfcf">
<circle cx="742.1" cy="866.3" r="6.95"/>
<circle cx="297.1" cy="308.7" r="6.95"/>
<circle cx="980.1" cy="825.2" r="6.95"/>
<circle cx="513.5" cy="282.9" r="6.95"/>
<circle cx="648.7" cy="787.5" r="6.95"/>
<circle cx="824.7" cy="884.5" r="6.95"/>
<circle cx="786.6" cy="262.1" r="6.95"/>
<circle cx="361.1" cy="460.7" r="6.95"/>
<circle cx="586.5" cy="795.5" r="6.95"/>
<circle cx="715.8" cy="656.6" r="6.95"/>
</g>
<g fill="#fcdece">
<circle cx="1045.5" cy="445.0" r="6.95"/>
<circle cx="911.1" cy="481.0" r="6.95"/>
<circle cx="996.6" cy="488.0" r="6.95"/>
<circle cx="380.6" cy="473.9" r="6.95"/>
<circle cx="562.8" cy="255.4" r="6.95"/>
<circle cx="508.6" cy="247.3" r="6.95"/>
<circle cx="752.0" cy="815.8" r="6.95"/>
<circle cx="679.5" cy="974.5" r="6.95"/>
<circle cx="601.8" cy="760.1" r="6.95"/>
<circle cx="1020.1" cy="341.4" r="6.95"/>
<circle cx="671.9" cy="763.2" r="6.95"/>
<circle cx="731.9" cy="322.3" r="6.95"/>
</g>
<g fill="#fcdecd">
<circle cx="697.0" cy="721.2" r="6.95"/>
<circle cx="665.9" cy="1044.0" r="6.95"/>
</g>
<g fill="#fcddcd">
<circle cx="658.5" cy="997.9" r="6.95"/>
<circle cx="336.6" cy="476.1" r="6.95"/>
<circle cx="604.4" cy="220.8" r="6.95"/>
<circle cx="788.0" cy="770.8" r="6.95"/>
<circle cx="773.5" cy="927.8" r="6.95"/>
</g>
<g fill="#fcddcc">
<circle cx="528.8" cy="952.6" r="6.95"/>
<circle cx="732.4" cy="754.7" r="6.95"/>
<circle cx="969.2" cy="844.5" r="6.95"/>
<circle cx="338.9" cy="309.6" r="6.95"/>
<circle cx="872.8" cy="419.3" r="6.95"/>
<circle cx="555.0" cy="908.6" r="6.95"/>
</g>
<g fill="#fcdccc">
<circle cx="936.4" cy="900.4" r="6.95"/>
<circle cx="916.2" cy="888.4" r="6.95"/>
<circle cx="1107.6" cy="483.9" r="6.95"/>
<circle cx="602.8" cy="802.4" r="6.95"/>
<circle cx="869.9" cy="924.0" r="6.95"/>
<circle cx="760.3" cy="762.4" r="6.95"/>
</g>
<g fill="#fcdccb">
<circle cx="705.0" cy="316.9" r="6.95"/>
<circle cx="865.0" cy="399.8" r="6.95"/>
<circle cx="765.1" cy="306.6" r="6.95"/>
<circle cx="859.4" cy="865.3" r="6.95"/>
<circle cx="783.6" cy="649.3" r="6.95"/>
<circle cx="750.0" cy="762.4" r="6.95"/>
<circle cx="927.5" cy="421.3" r="6.95"/>
<circle cx="513.1" cy="214.5" r="6.95"/>
<circle cx="820.7" cy="879.3" r="6.95"/>
</g>
<g fill="#fcdbcb">
<circle cx="826.3" cy="830.4" r="6.95"/>
<circle cx="308.1" cy="459.4" r="6.95"/>
</g>
<g fill="#fcdbca">
<circle cx="907.3" cy="904.6" r="6.95"/>
<circle cx="400.7" cy="412.4" r="6.95"/>
<circle cx="949.0" cy="880.3" r="6.95"/>
<circle cx="964.5" cy="811.4" r="6.95"/>
<circle cx="323.3" cy="446.5" r="6.95"/>
<circle cx="629.7" cy="264.8" r="6.95"/>
<circle cx="702.3" cy="732.2" r="6.95"/>
<circle cx="301.3" cy="330.5" r="6.95"/>
<circle cx="762.9" cy="253.4" r="6.95"/>
<circle cx="597.1" cy="243.6" r="6.95"/>
<circle cx="983.9" cy="803.1" r="6.95"/>
</g>
<g fill="#fcdbc9">
<circle cx="394.3" cy="347.8" r="6.95"/>
<circle cx="981.3" cy="842.1" r="6.95"/>
<circle cx="699.8" cy="1049.6" r="6.95"/>
<circle cx="946.7" cy="314.1" r="6.95"/>
<circle cx="464.4" cy="238.3" r="6.95"/>
</g>
<g fill="#fcdac9">
<circle cx="853.8" cy="508.0" r="6.95"/>
<circle cx="600.2" cy="931.2" r="6.95"/>
<circle cx="814.0" cy="906.6" r="6.95"/>
<circle cx="602.6" cy="289.7" r="6.95"/>
<circle cx="1095.3" cy="482.5" r="6.95"/>
<circle cx="417.0" cy="281.9" r="6.95"/>
<circle cx="507.1" cy="269.7" r="6.95"/>
<circle cx="490.6" cy="313.7" r="6.95"/>
</g>
<g fill="#fcdac8">
<circle cx="981.4" cy="814.5" r="6.95"/>
<circle cx="381.7" cy="929.4" r="6.95"/>
<circle cx="556.0" cy="964.8" r="6.95"/>
<circle cx="472.1" cy="313.4" r="6.95"/>
<circle cx="700.6" cy="1034.2" r="6.95"/>
<circle cx="886.2" cy="503.8" r="6.95"/>
<circle cx="623.3" cy="289.4" r="6.95"/>
<circle cx="720.5" cy="831.3" r="6.95"/>
<circle cx="357.9" cy="263.7" r="6.95"/>
<circle cx="652.6" cy="723.7" r="6.95"/>
</g>
<g fill="#fcd9c8">
<circle cx="851.5" cy="512.0" r="6.95"/>
<circle cx="679.7" cy="228.5" r="6.95"/>
<circle cx="544.8" cy="889.4" r="6.95"/>
<circle cx="397.9" cy="271.0" r="6.95"/>
</g>
<g fill="#fbd9c7">
<circle cx="1037.2" cy="333.0" r="6.95"/>
<circle cx="756.8" cy="292.9" r="6.95"/>
<circle cx="329.0" cy="489.6" r="6.95"/>
<circle cx="739.1" cy="802.3" r="6.95"/>
<circle cx="789.1" cy="254.2" r="6.95"/>
<circle cx="973.9" cy="793.7" r="6.95"/>
<circle cx="644.1" cy="731.1" r="6.95"/>
<circle cx="544.5" cy="933.3" r="6.95"/>
<circle cx="351.1" cy="261.7" r="6.95"/>
<circle cx="329.0" cy="466.2" r="6.95"/>
</g>
<g fill="#fbd8c6">
<circle cx="583.7" cy="939.2" r="6.95"/>
<circle cx="705.2" cy="720.5" r="6.95"/>
<circle cx="817.9" cy="756.1" r="6.95"/>
<circle cx="948.8" cy="300.5" r="6.95"/>
<circle cx="653.6" cy="710.4" r="6.95"/>
<circle cx="1025.8" cy="342.0" r="6.95"/>
<circle cx="1083.8" cy="491.8" r="6.95"/>
<circle cx="573.6" cy="980.3" r="6.95"/>
<circle cx="854.9" cy="918.5" r="6.95"/>
</g>
<g fill="#fbd7c5">
<circle cx="721.1" cy="233.0" r="6.95"/>
<circle cx="759.3" cy="771.3" r="6.95"/>
<circle cx="656.7" cy="972.0" r="6.95"/>
<circle cx="955.5" cy="900.6" r="6.95"/>
<circle cx="545.7" cy="1043.5" r="6.95"/>
<circle cx="567.7" cy="839.9" r="6.95"/>
<circle cx="737.1" cy="812.7" r="6.95"/>
<circle cx="742.9" cy="817.9" r="6.95"/>
<circle cx="358.1" cy="300.6" r="6.95"/>
<circle cx="790.2" cy="916.5" r="6.95"/>
<circle cx="890.5" cy="944.4" r="6.95"/>
<circle cx="957.6" cy="865.5" r="6.95"/>
<circle cx="537.3" cy="317.5" r="6.95"/>
<circle cx="592.7" cy="823.2" r="6.95"/>
</g>
<g fill="#fbd7c4">
<circle cx="827.3" cy="317.7" r="6.95"/>
</g>
<g fill="#fbd6c4">
<circle cx="836.4" cy="833.0" r="6.95"/>
<circle cx="587.3" cy="237.8" r="6.95"/>
<circle cx="626.6" cy="785.9" r="6.95"/>
<circle cx="674.8" cy="883.0" r="6.95"/>
<circle cx="371.3" cy="759.5" r="6.95"/>
<circle cx="854.5" cy="886.9" r="6.95"/>
</g>
<g fill="#fbd6c3">
<circle cx="911.7" cy="490.9" r="6.95"/>
<circle cx="1008.0" cy="275.1" r="6.95"/>
<circle cx="561.0" cy="305.9" r="6.95"/>
<circle cx="821.3" cy="817.5" r="6.95"/>
<circle cx="862.5" cy="813.9" r="6.95"/>
<circle cx="851.5" cy="505.9" r="6.95"/>
</g>
<g fill="#fbd5c3">
<circle cx="755.2" cy="798.5" r="6.95"/>
<circle cx="1053.3" cy="498.7" r="6.95"/>
<circle cx="984.2" cy="455.5" r="6.95"/>
<circle cx="979.3" cy="410.4" r="6.95"/>
<circle cx="741.6" cy="288.6" r="6.95"/>
<circle cx="543.7" cy="1058.7" r="6.95"/>
</g>
<g fill="#fbd5c2">
<circle cx="580.3" cy="836.5" r="6.95"/>
<circle cx="858.3" cy="921.6" r="6.95"/>
<circle cx="401.0" cy="347.4" r="6.95"/>
<circle cx="871.8" cy="900.9" r="6.95"/>
<circle cx="616.1" cy="239.4" r="6.95"/>
<circle cx="407.0" cy="767.5" r="6.95"/>
<circle cx="1013.4" cy="790.0" r="6.95"/>
<circle cx="681.4" cy="792.8" r="6.95"/>
<circle cx="1000.6" cy="302.6" r="6.95"/>
<circle cx="607.2" cy="933.0" r="6.95"/>
<circle cx="1034.7" cy="465.5" r="6.95"/>
<circle cx="908.6" cy="852.6" r="6.95"/>
<circle cx="831.9" cy="941.1" r="6.95"/>
</g>
<g fill="#fbd4c2">
<circle cx="682.5" cy="733.2" r="6.95"/>
<circle cx="706.2" cy="769.8" r="6.95"/>
</g>
<g fill="#fbd4c1">
<circle cx="753.2" cy="803.5" r="6.95"/>
<circle cx="598.1" cy="278.6" r="6.95"/>
<circle cx="791.3" cy="752.3" r="6.95"/>
<circle cx="696.8" cy="717.4" r="6.95"/>
<circle cx="669.6" cy="1049.0" r="6.95"/>
<circle cx="655.6" cy="889.9" r="6.95"/>
<circle cx="617.2" cy="1060.8" r="6.95"/>
<circle cx="972.1" cy="842.6" r="6.95"/>
<circle cx="794.3" cy="870.6" r="6.95"/>
</g>
<g fill="#fbd3c0">
<circle cx="750.3" cy="651.1" r="6.95"/>
<circle cx="684.1" cy="973.4" r="6.95"/>
<circle cx="871.6" cy="912.6" r="6.95"/>
<circle cx="717.9" cy="272.6" r="6.95"/>
<circle cx="550.2" cy="953.4" r="6.95"/>
</g>
<g fill="#fad3c0">
<circle cx="565.2" cy="962.0" r="6.95"/>
<circle cx="813.1" cy="271.5" r="6.95"/>
<circle cx="963.9" cy="455.2" r="6.95"/>
<circle cx="708.5" cy="726.2" r="6.95"/>
<circle cx="885.4" cy="523.0" r="6.95"/>
</g>
<g fill="#fad3bf">
<circle cx="676.2" cy="1013.8" r="6.95"/>
<circle cx="583.6" cy="932.8" r="6.95"/>
<circle cx="721.4" cy="318.0" r="6.95"/>
<circle cx="984.5" cy="827.8" r="6.95"/>
</g>
<g fill="#fad2bf">
<circle cx="1073.4" cy="478.2" r="6.95"/>
<circle cx="443.5" cy="343.2" r="6.95"/>
<circle cx="763.7" cy="821.6" r="6.95"/>
<circle cx="380.0" cy="448.4" r="6.95"/>
<circle cx="599.6" cy="294.7" r="6.95"/>
<circle cx="795.6" cy="314.8" r="6.95"/>
<circle cx="617.4" cy="286.3" r="6.95"/>
<circle cx="1058.1" cy="495.6" r="6.95"/>
<circle cx="1058.5" cy="414.5" r="6.95"/>
<circle cx="828.4" cy="888.7" r="6.95"/>
<circle cx="862.2" cy="947.3" r="6.95"/>
</g>
<g fill="#fad2be">
<circle cx="674.4" cy="817.0" r="6.95"/>
<circle cx="656.5" cy="829.0" r="6.95"/>
<circle cx="1030.9" cy="477.8" r="6.95"/>
<circle cx="1018.1" cy="466.9" r="6.95"/>
<circle cx="752.0" cy="782.6" r="6.95"/>
<circle cx="491.6" cy="294.9" r="6.95"/>
<circle cx="829.8" cy="820.1" r="6.95"/>
<circle cx="546.7" cy="281.0" r="6.95"/>
<circle cx="911.8" cy="854.9" r="6.95"/>
</g>
<g fill="#fad1be">
<circle cx="773.8" cy="806.1" r="6.95"/>
<circle cx="387.7" cy="546.7" r="6.95"/>
<circle cx="612.5" cy="810.4" r="6.95"/>
<circle cx="216.2" cy="344.2" r="6.95"/>
</g>
<g fill="#fad1bd">
<circle cx="748.2" cy="778.6" r="6.95"/>
<circle cx="591.2" cy="260.7" r="6.95"/>
</g>
<g fill="#fad0bd">
<circle cx="688.0" cy="1022.0" r="6.95"/>
</g>
<g fill="#fad0bc">
<circle cx="1004.5" cy="298.1" r="6.95"/>
<circle cx="402.8" cy="767.4" r="6.95"/>
<circle cx="496.7" cy="938.8" r="6.95"/>
<circle cx="682.7" cy="956.7" r="6.95"/>
<circle cx="718.3" cy="776.9" r="6.95"/>
<circle cx="387.4" cy="384.0" r="6.95"/>
<circle cx="703.0" cy="742.3" r="6.95"/>
<circle cx="561.3" cy="758.0" r="6.95"/>
<circle cx="798.3" cy="819.8" r="6.95"/>
</g>
<g fill="#fad0bb">
<circle cx="916.5" cy="863.0" r="6.95"/>
</g>
<g fill="#facfbb">
<circle cx="464.5" cy="327.5" r="6.95"/>
<circle cx="803.8" cy="335.0" r="6.95"/>
<circle cx="1122.5" cy="488.8" r="6.95"/>
<circle cx="611.0" cy="753.4" r="6.95"/>
</g>
<g fill="#facfba">
<circle cx="360.3" cy="757.7" r="6.95"/>
<circle cx="792.3" cy="783.1" r="6.95"/>
</g>
<g fill="#faceba">
<circle cx="888.5" cy="899.0" r="6.95"/>
<circle cx="820.6" cy="285.0" r="6.95"/>
<circle cx="370.0" cy="447.3" r="6.95"/>
<circle cx="998.2" cy="789.1" r="6.95"/>
<circle cx="707.9" cy="1064.1" r="6.95"/>
<circle cx="592.4" cy="808.0" r="6.95"/>
<circle cx="651.9" cy="989.5" r="6.95"/>
<circle cx="851.1" cy="842.6" r="6.95"/>
</g>
<g fill="#faceb9">
<circle cx="553.7" cy="793.9" r="6.95"/>
<circle cx="721.3" cy="763.2" r="6.95"/>
<circle cx="724.3" cy="841.1" r="6.95"/>
<circle cx="779.4" cy="816.8" r="6.95"/>
<circle cx="528.0" cy="968.2" r="6.95"/>
<circle cx="492.9" cy="327.4" r="6.95"/>
<circle cx="960.6" cy="841.3" r="6.95"/>
<circle cx="494.8" cy="907.3" r="6.95"/>
</g>
<g fill="#facdb9">
<circle cx="922.2" cy="893.8" r="6.95"/>
</g>
<g fill="#facdb8">
<circle cx="902.9" cy="513.5" r="6.95"/>
</g>
<g fill="#f9cdb8">
<circle cx="369.1" cy="351.5" r="6.95"/>
<circle cx="672.2" cy="755.6" r="6.95"/>
<circle cx="811.9" cy="333.7" r="6.95"/>
<circle cx="331.6" cy="355.5" r="6.95"/>
<circle cx="725.8" cy="260.1" r="6.95"/>
<circle cx="763.5" cy="743.4" r="6.95"/>
<circle cx="670.6" cy="801.9" r="6.95"/>
<circle cx="627.2" cy="787.5" r="6.95"/>
<circle cx="1043.9" cy="496.5" r="6.95"/>
<circle cx="351.2" cy="245.6" r="6.95"/>
</g>
<g fill="#f9ccb7">
<circle cx="624.3" cy="971.3" r="6.95"/>
<circle cx="595.1" cy="790.0" r="6.95"/>
<circle cx="946.2" cy="312.0" r="6.95"/>
<circle cx="787.3" cy="774.9" r="6.95"/>
<circle cx="311.9" cy="382.7" r="6.95"/>
<circle cx="310.4" cy="320.7" r="6.95"/>
<circle cx="816.6" cy="871.0" r="6.95"/>
<circle cx="249.8" cy="408.5" r="6.95"/>
</g>
<g fill="#f9cbb6">
<circle cx="499.9" cy="943.3" r="6.95"/>
<circle cx="1101.8" cy="500.5" r="6.95"/>
<circle cx="923.0" cy="310.9" r="6.95"/>
<circle cx="850.8" cy="912.8" r="6.95"/>
<circle cx="663.3" cy="757.2" r="6.95"/>
</g>
<g fill="#f9cab5">
<circle cx="781.4" cy="813.6" r="6.95"/>
<circle cx="1063.5" cy="359.9" r="6.95"/>
<circle cx="734.5" cy="831.0" r="6.95"/>
</g>
<g fill="#f9cab4">
<circle cx="1104.5" cy="489.9" r="6.95"/>
<circle cx="930.0" cy="503.9" r="6.95"/>
<circle cx="597.9" cy="266.3" r="6.95"/>
<circle cx="439.4" cy="273.7" r="6.95"/>
<circle cx="790.1" cy="771.8" r="6.95"/>
<circle cx="684.9" cy="714.3" r="6.95"/>
<circle cx="959.8" cy="415.7" r="6.95"/>
<circle cx="629.8" cy="764.1" r="6.95"/>
<circle cx="844.7" cy="877.5" r="6.95"/>
<circle cx="378.1" cy="761.7" r="6.95"/>
<circle cx="656.1" cy="989.5" r="6.95"/>
</g>
<g fill="#f9c9b4">
<circle cx="829.6" cy="874.1" r="6.95"/>
</g>
<g fill="#f9c9b3">
<circle cx="708.2" cy="821.6" r="6.95"/>
<circle cx="608.9" cy="1005.7" r="6.95"/>
<circle cx="675.4" cy="829.7" r="6.95"/>
<circle cx="806.0" cy="819.5" r="6.95"/>
<circle cx="537.6" cy="896.9" r="6.95"/>
</g>
<g fill="#f9c9b2">
<circle cx="646.6" cy="781.6" r="6.95"/>
</g>
<g fill="#f9c8b2">
<circle cx="590.6" cy="222.3" r="6.95"/>
<circle cx="591.0" cy="1004.6" r="6.95"/>
<circle cx="522.0" cy="893.1" r="6.95"/>
<circle cx="407.8" cy="402.8" r="6.95"/>
<circle cx="824.1" cy="935.0" r="6.95"/>
<circle cx="651.5" cy="786.4" r="6.95"/>
<circle cx="816.9" cy="811.4" r="6.95"/>
</g>
<g fill="#f9c8b1">
<circle cx="783.9" cy="904.9" r="6.95"/>
</g>
<g fill="#f9c7b1">
<circle cx="1060.1" cy="459.5" r="6.95"/>
<circle cx="875.6" cy="823.9" r="6.95"/>
</g>
<g fill="#f8c7b1">
<circle cx="586.7" cy="258.1" r="6.95"/>
<circle cx="386.5" cy="762.5" r="6.95"/>
</g>
<g fill="#f8c7b0">
<circle cx="523.1" cy="219.0" r="6.95"/>
<circle cx="324.8" cy="472.0" r="6.95"/>
<circle cx="677.9" cy="881.8" r="6.95"/>
<circle cx="901.9" cy="902.1" r="6.95"/>
</g>
<g fill="#f8c6b0">
<circle cx="968.1" cy="422.2" r="6.95"/>
</g>
<g fill="#f8c6af">
<circle cx="966.2" cy="813.9" r="6.95"/>
<circle cx="888.3" cy="355.5" r="6.95"/>
<circle cx="737.2" cy="1048.5" r="6.95"/>
</g>
<g fill="#f8c5ae">
<circle cx="345.8" cy="321.5" r="6.95"/>
<circle cx="997.8" cy="477.1" r="6.95"/>
<circle cx="1062.1" cy="334.4" r="6.95"/>
<circle cx="919.3" cy="902.5" r="6.95"/>
<circle cx="655.3" cy="749.5" r="6.95"/>
</g>
<g fill="#f8c5ad">
<circle cx="682.9" cy="239.0" r="6.95"/>
</g>
<g fill="#f8c4ad">
<circle cx="759.2" cy="817.8" r="6.95"/>
<circle cx="676.1" cy="779.3" r="6.95"/>
<circle cx="775.8" cy="852.4" r="6.95"/>
<circle cx="763.2" cy="653.3" r="6.95"/>
<circle cx="494.9" cy="300.4" r="6.95"/>
<circle cx="629.1" cy="262.8" r="6.95"/>
</g>
<g fill="#f8c4ac">
<circle cx="675.9" cy="732.2" r="6.95"/>
<circle cx="991.0" cy="477.5" r="6.95"/>
<circle cx="558.5" cy="881.4" r="6.95"/>
</g>
<g fill="#f8c3ac">
<circle cx="379.1" cy="919.4" r="6.95"/>
<circle cx="1033.2" cy="300.6" r="6.95"/>
<circle cx="773.3" cy="779.6" r="6.95"/>
<circle cx="820.4" cy="936.0" r="6.95"/>
</g>
<g fill="#f8c3ab">
<circle cx="893.2" cy="832.2" r="6.95"/>
<circle cx="771.1" cy="892.7" r="6.95"/>
<circle cx="970.0" cy="789.9" r="6.95"/>
<circle cx="287.1" cy="368.5" r="6.95"/>
<circle cx="959.6" cy="864.9" r="6.95"/>
</g>
<g fill="#f8c2aa">
<circle cx="555.8" cy="260.3" r="6.95"/>
<circle cx="1007.7" cy="307.8" r="6.95"/>
<circle cx="822.1" cy="814.1" r="6.95"/>
</g>
<g fill="#f7c1a9">
<circle cx="513.3" cy="933.7" r="6.95"/>
</g>
<g fill="#f7c1a8">
<circle cx="919.7" cy="787.2" r="6.95"/>
</g>
<g fill="#f7c0a8">
<circle cx="589.3" cy="966.1" r="6.95"/>
<circle cx="691.8" cy="736.7" r="6.95"/>
<circle cx="995.0" cy="449.0" r="6.95"/>
<circle cx="390.0" cy="759.0" r="6.95"/>
</g>
<g fill="#f7c0a7">
<circle cx="672.0" cy="707.8" r="6.95"/>
</g>
<g fill="#f7bfa7">
<circle cx="662.9" cy="879.8" r="6.95"/>
<circle cx="664.0" cy="789.1" r="6.95"/>
</g>
<g fill="#f6bea6">
<circle cx="716.9" cy="736.4" r="6.95"/>
<circle cx="718.8" cy="768.7" r="6.95"/>
<circle cx="729.0" cy="731.9" r="6.95"/>
<circle cx="566.0" cy="835.1" r="6.95"/>
</g>
<g fill="#f6bda5">
<circle cx="935.0" cy="814.0" r="6.95"/>
</g>
<g fill="#f6bca5">
<circle cx="512.9" cy="939.9" r="6.95"/>
</g>
<g fill="#f6bca4">
<circle cx="908.1" cy="776.2" r="6.95"/>
<circle cx="1010.1" cy="775.6" r="6.95"/>
<circle cx="467.0" cy="220.5" r="6.95"/>
</g>
<g fill="#f5bca4">
<circle cx="969.0" cy="484.2" r="6.95"/>
</g>
<g fill="#f5bba4">
<circle cx="381.8" cy="763.6" r="6.95"/>
<circle cx="692.0" cy="316.6" r="6.95"/>
<circle cx="861.0" cy="512.0" r="6.95"/>
<circle cx="622.1" cy="769.4" r="6.95"/>
</g>
<g fill="#f5bba3">
<circle cx="754.7" cy="780.3" r="6.95"/>
<circle cx="774.9" cy="750.1" r="6.95"/>
</g>
<g fill="#f5baa3">
<circle cx="755.9" cy="746.8" r="6.95"/>
<circle cx="729.0" cy="731.0" r="6.95"/>
<circle cx="648.3" cy="992.2" r="6.95"/>
</g>
<g fill="#f4b9a2">
<circle cx="836.9" cy="944.3" r="6.95"/>
</g>
<g fill="#f4b8a1">
<circle cx="809.0" cy="815.9" r="6.95"/>
<circle cx="948.6" cy="322.7" r="6.95"/>
<circle cx="654.2" cy="889.5" r="6.95"/>
</g>
<g fill="#f3b7a1">
<circle cx="965.3" cy="864.9" r="6.95"/>
</g>
<g fill="#f3b7a0">
<circle cx="1005.7" cy="419.6" r="6.95"/>
<circle cx="952.8" cy="863.5" r="6.95"/>
</g>
<g fill="#f3b6a0">
<circle cx="946.7" cy="485.4" r="6.95"/>
<circle cx="719.1" cy="777.5" r="6.95"/>
<circle cx="730.8" cy="900.2" r="6.95"/>
<circle cx="453.6" cy="257.3" r="6.95"/>
</g>
<g fill="#f2b59f">
<circle cx="689.5" cy="1026.6" r="6.95"/>
</g>
<g fill="#f2b49f">
<circle cx="642.6" cy="1008.7" r="6.95"/>
</g>
<g fill="#f2b49e">
<circle cx="954.0" cy="458.0" r="6.95"/>
<circle cx="950.0" cy="485.0" r="6.95"/>
<circle cx="370.0" cy="764.0" r="6.95"/>
<circle cx="492.5" cy="902.5" r="6.95"/>
<circle cx="922.5" cy="856.0" r="6.95"/>
<circle cx="685.6" cy="778.9" r="6.95"/>
</g>
<g fill="#f2b39e">
<circle cx="774.9" cy="925.8" r="6.95"/>
</g>
<g fill="#f1b19c">
<circle cx="855.4" cy="848.4" r="6.95"/>
<circle cx="659.0" cy="871.5" r="6.95"/>
</g>
<g fill="#f0b09b">
<circle cx="755.0" cy="663.5" r="6.95"/>
<circle cx="938.5" cy="504.5" r="6.95"/>
<circle cx="1119.4" cy="481.0" r="6.95"/>
<circle cx="750.3" cy="808.7" r="6.95"/>
</g>
<g fill="#f0af9b">
<circle cx="1108.4" cy="488.6" r="6.95"/>
<circle cx="717.5" cy="778.4" r="6.95"/>
</g>
<g fill="#f0af9a">
<circle cx="659.6" cy="245.5" r="6.95"/>
</g>
<g fill="#f0ae9a">
<circle cx="804.6" cy="823.3" r="6.95"/>
</g>
<g fill="#efae9a">
<circle cx="1096.7" cy="515.6" r="6.95"/>
</g>
<g fill="#efad99">
<circle cx="584.0" cy="780.1" r="6.95"/>
<circle cx="706.8" cy="735.9" r="6.95"/>
</g>
<g fill="#eeab97">
<circle cx="493.5" cy="699.5" r="6.95"/>
<circle cx="602.2" cy="302.3" r="6.95"/>
</g>
<g fill="#eeaa97">
<circle cx="962.4" cy="491.2" r="6.95"/>
</g>
<g fill="#eeaa96">
<circle cx="837.0" cy="942.7" r="6.95"/>
<circle cx="1049.8" cy="465.2" r="6.95"/>
</g>
<g fill="#eda996">
<circle cx="824.5" cy="851.7" r="6.95"/>
</g>
<g fill="#eda895">
<circle cx="824.4" cy="814.5" r="6.95"/>
<circle cx="1074.0" cy="485.0" r="6.95"/>
<circle cx="834.0" cy="816.0" r="6.95"/>
</g>
<g fill="#eda795">
<circle cx="697.0" cy="792.3" r="6.95"/>
</g>
<g fill="#eca794">
<circle cx="876.1" cy="494.7" r="6.95"/>
<circle cx="654.8" cy="884.2" r="6.95"/>
</g>
<g fill="#eca694">
<circle cx="933.9" cy="913.3" r="6.95"/>
</g>
<g fill="#eca693">
<circle cx="393.8" cy="320.6" r="6.95"/>
</g>
<g fill="#eca593">
<circle cx="987.3" cy="432.6" r="6.95"/>
</g>
<g fill="#eba592">
<circle cx="1073.3" cy="494.6" r="6.95"/>
<circle cx="828.3" cy="907.6" r="6.95"/>
</g>
<g fill="#eba492">
<circle cx="814.2" cy="879.0" r="6.95"/>
<circle cx="956.5" cy="476.6" r="6.95"/>
</g>
<g fill="#eba391">
<circle cx="626.1" cy="789.7" r="6.95"/>
</g>
<g fill="#eaa291">
<circle cx="993.6" cy="479.2" r="6.95"/>
</g>
<g fill="#eaa290">
<circle cx="737.7" cy="1048.5" r="6.95"/>
<circle cx="862.0" cy="501.7" r="6.95"/>
</g>
<g fill="#eaa190">
<circle cx="746.9" cy="785.5" r="6.95"/>
</g>
<g fill="#eaa18f">
<circle cx="777.2" cy="786.8" r="6.95"/>
</g>
<g fill="#e9a08f">
<circle cx="682.2" cy="812.6" r="6.95"/>
</g>
<g fill="#e99e8e">
<circle cx="735.3" cy="277.2" r="6.95"/>
</g>
<g fill="#e89e8d">
<circle cx="820.0" cy="812.6" r="6.95"/>
</g>
<g fill="#e89d8d">
<circle cx="715.6" cy="844.3" r="6.95"/>
</g>
<g fill="#e89c8c">
<circle cx="804.5" cy="774.6" r="6.95"/>
<circle cx="404.0" cy="310.0" r="6.95"/>
<circle cx="964.0" cy="487.5" r="6.95"/>
<circle cx="401.0" cy="759.0" r="6.95"/>
<circle cx="965.0" cy="492.5" r="6.95"/>
<circle cx="399.0" cy="822.5" r="6.95"/>
<circle cx="556.0" cy="810.0" r="6.95"/>
<circle cx="599.0" cy="1009.0" r="6.95"/>
</g>
<g fill="#e79b8b">
<circle cx="857.5" cy="851.6" r="6.95"/>
</g>
<g fill="#e6998a">
<circle cx="710.1" cy="808.3" r="6.95"/>
</g>
<g fill="#e69889">
<circle cx="1086.9" cy="472.4" r="6.95"/>
<circle cx="457.3" cy="252.2" r="6.95"/>
<circle cx="672.5" cy="877.8" r="6.95"/>
</g>
<g fill="#e59687">
<circle cx="689.2" cy="803.4" r="6.95"/>
</g>
<g fill="#e49485">
<circle cx="1095.1" cy="506.2" r="6.95"/>
</g>
<g fill="#e49385">
<circle cx="1005.8" cy="475.9" r="6.95"/>
</g>
<g fill="#e39083">
<circle cx="826.9" cy="869.4" r="6.95"/>
</g>
<g fill="#e29082">
<circle cx="441.5" cy="644.5" r="6.95"/>
<circle cx="401.0" cy="452.5" r="6.95"/>
<circle cx="795.0" cy="467.5" r="6.95"/>
<circle cx="621.0" cy="751.0" r="6.95"/>
<circle cx="679.0" cy="745.0" r="6.95"/>
<circle cx="702.5" cy="730.0" r="6.95"/>
<circle cx="762.5" cy="734.0" r="6.95"/>
<circle cx="760.0" cy="670.0" r="6.95"/>
<circle cx="730.0" cy="779.0" r="6.95"/>
<circle cx="760.0" cy="801.0" r="6.95"/>
<circle cx="804.0" cy="821.0" r="6.95"/>
<circle cx="662.5" cy="886.0" r="6.95"/>
<circle cx="822.5" cy="892.5" r="6.95"/>
<circle cx="960.0" cy="867.0" r="6.95"/>
</g>
<g fill="#dd867e">
<circle cx="395.0" cy="934.0" r="6.95"/>
</g>
<g fill="#ce676f">
<circle cx="227.5" cy="467.5" r="6.95"/>
<circle cx="690.0" cy="736.0" r="6.95"/>
<circle cx="672.5" cy="755.0" r="6.95"/>
<circle cx="771.0" cy="750.0" r="6.95"/>
<circle cx="571.0" cy="767.5" r="6.95"/>
<circle cx="601.0" cy="787.5" r="6.95"/>
<circle cx="591.0" cy="802.5" r="6.95"/>
<circle cx="740.0" cy="802.5" r="6.95"/>
<circle cx="791.0" cy="780.0" r="6.95"/>
<circle cx="871.0" cy="509.0" r="6.95"/>
<circle cx="1082.5" cy="512.5" r="6.95"/>
<circle cx="855.0" cy="637.5" r="6.95"/>
<circle cx="657.5" cy="824.0" r="6.95"/>
<circle cx="765.0" cy="832.5" r="6.95"/>
<circle cx="796.0" cy="812.5" r="6.95"/>
<circle cx="671.0" cy="894.0" r="6.95"/>
<circle cx="701.0" cy="1051.0" r="6.95"/>
</g>
</g>
<g font-size="15" font-weight="bold" text-anchor="middle" fill="#000">
<circle cx="371.5" cy="344.4" r="11" fill="#fff" fill-opacity="0.88" stroke="#000" stroke-width="1.2"/>
<text transform="translate(371.5,349.9) scale(0.96,1)">1</text>
<circle cx="501.4" cy="736.4" r="11" fill="#fff" fill-opacity="0.88" stroke="#000" stroke-width="1.2"/>
<text transform="translate(501.4,741.9) scale(0.96,1)">2</text>
<circle cx="890.4" cy="883.5" r="11" fill="#fff" fill-opacity="0.88" stroke="#000" stroke-width="1.2"/>
<text transform="translate(890.4,889) scale(0.96,1)">3</text>
<circle cx="615.5" cy="487.4" r="11" fill="#fff" fill-opacity="0.88" stroke="#000" stroke-width="1.2"/>
<text transform="translate(615.5,492.9) scale(0.96,1)">4</text>
<circle cx="575.4" cy="993.5" r="11" fill="#fff" fill-opacity="0.88" stroke="#000" stroke-width="1.2"/>
<text transform="translate(575.4,999) scale(0.96,1)">5</text>
<circle cx="679.5" cy="265.4" r="11" fill="#fff" fill-opacity="0.88" stroke="#000" stroke-width="1.2"/>
<text transform="translate(679.5,270.9) scale(0.96,1)">6</text>
<circle cx="979.4" cy="444.5" r="11" fill="#fff" fill-opacity="0.88" stroke="#000" stroke-width="1.2"/>
<text transform="translate(979.4,450) scale(0.96,1)">7</text>
<circle cx="819.4" cy="623.5" r="11" fill="#fff" fill-opacity="0.88" stroke="#000" stroke-width="1.2"/>
<text transform="translate(819.4,629) scale(0.96,1)">8</text>
<circle cx="1013.4" cy="310.5" r="11" fill="#fff" fill-opacity="0.88" stroke="#000" stroke-width="1.2"/>
<text transform="translate(1013.4,316) scale(0.96,1)">9</text>
<circle cx="761.4" cy="514.5" r="11" fill="#fff" fill-opacity="0.88" stroke="#000" stroke-width="1.2"/>
<text transform="translate(761.4,520) scale(0.96,1)">10</text>
</g>
<defs><linearGradient id="lg" x1="0" x2="1" y1="0" y2="0">
<stop offset="0.0000" stop-color="#506e90"/>
<stop offset="0.0941" stop-color="#6494c5"/>
<stop offset="0.2109" stop-color="#7bb3d5"/>
<stop offset="0.3277" stop-color="#b3d6e8"/>
<stop offset="0.4434" stop-color="#dfedf4"/>
<stop offset="0.5572" stop-color="#f9f9f9"/>
<stop offset="0.6740" stop-color="#fee6d8"/>
<stop offset="0.7898" stop-color="#f7c0a8"/>
<stop offset="0.8832" stop-color="#e29082"/>
<stop offset="1.0000" stop-color="#c95d6b"/>
</linearGradient></defs>
<rect x="850.3" y="1134" width="300.6" height="14.6" fill="url(#lg)"/>
<g stroke="#000" stroke-width="1">
<line x1="850.3" x2="850.3" y1="1134" y2="1148.6"/>
<line x1="878.6" x2="878.6" y1="1134" y2="1148.6"/>
<line x1="913.7" x2="913.7" y1="1134" y2="1148.6"/>
<line x1="948.8" x2="948.8" y1="1134" y2="1148.6"/>
<line x1="983.6" x2="983.6" y1="1134" y2="1148.6"/>
<line x1="1017.8" x2="1017.8" y1="1134" y2="1148.6"/>
<line x1="1052.9" x2="1052.9" y1="1134" y2="1148.6"/>
<line x1="1087.7" x2="1087.7" y1="1134" y2="1148.6"/>
<line x1="1115.8" x2="1115.8" y1="1134" y2="1148.6"/>
<line x1="1150.9" x2="1150.9" y1="1134" y2="1148.6"/>
</g>
<text x="1038.1" y="1127" text-anchor="middle" font-size="13" fill="#000">Expression, Z-scaled</text>
<g font-size="10" text-anchor="middle" fill="#000">
<text x="850.3" y="1162.6">0.0</text>
<text x="878.6" y="1162.6">0.4</text>
<text x="913.7" y="1162.6">0.9</text>
<text x="948.8" y="1162.6">1.4</text>
<text x="983.6" y="1162.6">1.9</text>
<text x="1017.8" y="1162.6">2.4</text>
<text x="1052.9" y="1162.6">2.9</text>
<text x="1087.7" y="1162.6">3.4</text>
<text x="1115.8" y="1162.6">3.8</text>
<text x="1150.9" y="1162.6">4.3</text>
</g>
</svg></body></html>
